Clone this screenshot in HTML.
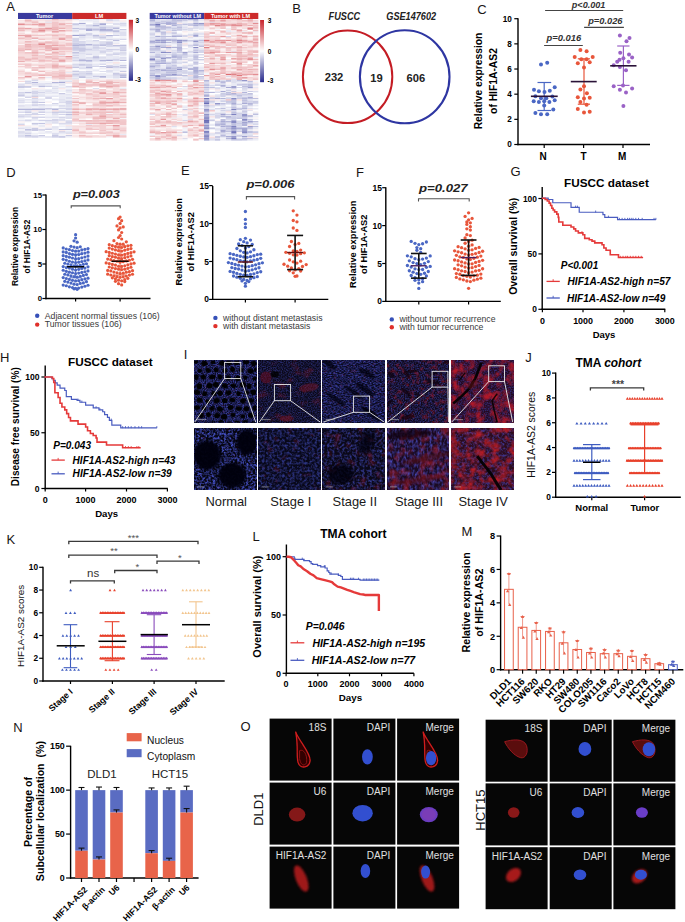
<!DOCTYPE html><html><head><meta charset="utf-8"><title>Figure</title><style>html,body{margin:0;padding:0;background:#fff;width:685px;height:922px;overflow:hidden;}svg{display:block;font-family:"Liberation Sans",sans-serif;}</style></head><body><svg width="685" height="922" viewBox="0 0 685 922" font-family='"Liberation Sans", sans-serif'><defs><linearGradient id="cb" x1="0" y1="0" x2="0" y2="1"><stop offset="0" stop-color="#c8232b"/><stop offset="0.5" stop-color="#ffffff"/><stop offset="1" stop-color="#27298c"/></linearGradient>
<filter id="mf0" x="0" y="0" width="100%" height="100%" color-interpolation-filters="sRGB">
<feFlood flood-color="#0a0a24" result="bg"/>
<feTurbulence type="fractalNoise" baseFrequency="0.9" numOctaves="2" seed="3" result="n1"/>
<feColorMatrix in="n1" type="matrix" values="0 0 0 0 0.235 0 0 0 0 0.267 0 0 0 0 0.659 2.000 0 0 0 -0.600" result="bl"/>
<feTurbulence type="fractalNoise" baseFrequency="0.6" numOctaves="3" seed="53" result="n2"/>
<feColorMatrix in="n2" type="matrix" values="0 0 0 0 0.627 0 0 0 0 0.094 0 0 0 0 0.157 1.200 0 0 0 -0.744" result="rd"/>
<feMerge result="m"><feMergeNode in="bg"/><feMergeNode in="bl"/><feMergeNode in="rd"/></feMerge>
<feGaussianBlur in="m" stdDeviation="0.45"/>
</filter>
<filter id="mf5" x="0" y="0" width="100%" height="100%" color-interpolation-filters="sRGB">
<feFlood flood-color="#060614" result="bg"/>
<feTurbulence type="fractalNoise" baseFrequency="0.45" numOctaves="2" seed="13" result="n1"/>
<feColorMatrix in="n1" type="matrix" values="0 0 0 0 0.267 0 0 0 0 0.314 0 0 0 0 0.769 2.600 0 0 0 -0.988" result="bl"/>
<feTurbulence type="fractalNoise" baseFrequency="0.3" numOctaves="3" seed="63" result="n2"/>
<feColorMatrix in="n2" type="matrix" values="0 0 0 0 0.690 0 0 0 0 0.094 0 0 0 0 0.157 1.000 0 0 0 -0.660" result="rd"/>
<feMerge result="m"><feMergeNode in="bg"/><feMergeNode in="bl"/><feMergeNode in="rd"/></feMerge>
<feGaussianBlur in="m" stdDeviation="0.45"/>
</filter>
<filter id="mf1" x="0" y="0" width="100%" height="100%" color-interpolation-filters="sRGB">
<feFlood flood-color="#0a0818" result="bg"/>
<feTurbulence type="fractalNoise" baseFrequency="0.8" numOctaves="2" seed="5" result="n1"/>
<feColorMatrix in="n1" type="matrix" values="0 0 0 0 0.204 0 0 0 0 0.227 0 0 0 0 0.573 1.500 0 0 0 -0.510" result="bl"/>
<feTurbulence type="fractalNoise" baseFrequency="0.09" numOctaves="3" seed="55" result="n2"/>
<feColorMatrix in="n2" type="matrix" values="0 0 0 0 0.533 0 0 0 0 0.078 0 0 0 0 0.125 1.600 0 0 0 -0.928" result="rd"/>
<feMerge result="m"><feMergeNode in="bg"/><feMergeNode in="bl"/><feMergeNode in="rd"/></feMerge>
<feGaussianBlur in="m" stdDeviation="0.45"/>
</filter>
<filter id="mf6" x="0" y="0" width="100%" height="100%" color-interpolation-filters="sRGB">
<feFlood flood-color="#08081a" result="bg"/>
<feTurbulence type="fractalNoise" baseFrequency="0.4" numOctaves="2" seed="15" result="n1"/>
<feColorMatrix in="n1" type="matrix" values="0 0 0 0 0.227 0 0 0 0 0.267 0 0 0 0 0.659 1.800 0 0 0 -0.684" result="bl"/>
<feTurbulence type="fractalNoise" baseFrequency="0.15" numOctaves="3" seed="65" result="n2"/>
<feColorMatrix in="n2" type="matrix" values="0 0 0 0 0.565 0 0 0 0 0.078 0 0 0 0 0.125 1.200 0 0 0 -0.744" result="rd"/>
<feMerge result="m"><feMergeNode in="bg"/><feMergeNode in="bl"/><feMergeNode in="rd"/></feMerge>
<feGaussianBlur in="m" stdDeviation="0.45"/>
</filter>
<filter id="mf2" x="0" y="0" width="100%" height="100%" color-interpolation-filters="sRGB">
<feFlood flood-color="#0a0a20" result="bg"/>
<feTurbulence type="fractalNoise" baseFrequency="0.5 0.9" numOctaves="2" seed="7" result="n1"/>
<feColorMatrix in="n1" type="matrix" values="0 0 0 0 0.243 0 0 0 0 0.267 0 0 0 0 0.690 1.900 0 0 0 -0.646" result="bl"/>
<feTurbulence type="fractalNoise" baseFrequency="0.3" numOctaves="3" seed="57" result="n2"/>
<feColorMatrix in="n2" type="matrix" values="0 0 0 0 0.565 0 0 0 0 0.094 0 0 0 0 0.157 1.200 0 0 0 -0.720" result="rd"/>
<feMerge result="m"><feMergeNode in="bg"/><feMergeNode in="bl"/><feMergeNode in="rd"/></feMerge>
<feGaussianBlur in="m" stdDeviation="0.45"/>
</filter>
<filter id="mf7" x="0" y="0" width="100%" height="100%" color-interpolation-filters="sRGB">
<feFlood flood-color="#0a0818" result="bg"/>
<feTurbulence type="fractalNoise" baseFrequency="0.4" numOctaves="2" seed="17" result="n1"/>
<feColorMatrix in="n1" type="matrix" values="0 0 0 0 0.243 0 0 0 0 0.275 0 0 0 0 0.690 1.900 0 0 0 -0.760" result="bl"/>
<feTurbulence type="fractalNoise" baseFrequency="0.12" numOctaves="3" seed="67" result="n2"/>
<feColorMatrix in="n2" type="matrix" values="0 0 0 0 0.502 0 0 0 0 0.078 0 0 0 0 0.125 1.600 0 0 0 -0.896" result="rd"/>
<feMerge result="m"><feMergeNode in="bg"/><feMergeNode in="bl"/><feMergeNode in="rd"/></feMerge>
<feGaussianBlur in="m" stdDeviation="0.45"/>
</filter>
<filter id="mf3" x="0" y="0" width="100%" height="100%" color-interpolation-filters="sRGB">
<feFlood flood-color="#100818" result="bg"/>
<feTurbulence type="fractalNoise" baseFrequency="0.7" numOctaves="2" seed="9" result="n1"/>
<feColorMatrix in="n1" type="matrix" values="0 0 0 0 0.220 0 0 0 0 0.243 0 0 0 0 0.627 1.700 0 0 0 -0.578" result="bl"/>
<feTurbulence type="fractalNoise" baseFrequency="0.2" numOctaves="3" seed="59" result="n2"/>
<feColorMatrix in="n2" type="matrix" values="0 0 0 0 0.596 0 0 0 0 0.078 0 0 0 0 0.125 1.800 0 0 0 -0.900" result="rd"/>
<feMerge result="m"><feMergeNode in="bg"/><feMergeNode in="bl"/><feMergeNode in="rd"/></feMerge>
<feGaussianBlur in="m" stdDeviation="0.45"/>
</filter>
<filter id="mf8" x="0" y="0" width="100%" height="100%" color-interpolation-filters="sRGB">
<feFlood flood-color="#1a0a22" result="bg"/>
<feTurbulence type="fractalNoise" baseFrequency="0.4 0.25" numOctaves="2" seed="19" result="n1"/>
<feColorMatrix in="n1" type="matrix" values="0 0 0 0 0.267 0 0 0 0 0.275 0 0 0 0 0.706 2.200 0 0 0 -0.836" result="bl"/>
<feTurbulence type="fractalNoise" baseFrequency="0.1" numOctaves="3" seed="69" result="n2"/>
<feColorMatrix in="n2" type="matrix" values="0 0 0 0 0.659 0 0 0 0 0.110 0 0 0 0 0.141 2.000 0 0 0 -0.920" result="rd"/>
<feMerge result="m"><feMergeNode in="bg"/><feMergeNode in="bl"/><feMergeNode in="rd"/></feMerge>
<feGaussianBlur in="m" stdDeviation="0.45"/>
</filter>
<filter id="mf4" x="0" y="0" width="100%" height="100%" color-interpolation-filters="sRGB">
<feFlood flood-color="#240a20" result="bg"/>
<feTurbulence type="fractalNoise" baseFrequency="0.7" numOctaves="2" seed="11" result="n1"/>
<feColorMatrix in="n1" type="matrix" values="0 0 0 0 0.235 0 0 0 0 0.235 0 0 0 0 0.651 1.600 0 0 0 -0.576" result="bl"/>
<feTurbulence type="fractalNoise" baseFrequency="0.12" numOctaves="3" seed="61" result="n2"/>
<feColorMatrix in="n2" type="matrix" values="0 0 0 0 0.690 0 0 0 0 0.094 0 0 0 0 0.157 2.600 0 0 0 -1.040" result="rd"/>
<feMerge result="m"><feMergeNode in="bg"/><feMergeNode in="bl"/><feMergeNode in="rd"/></feMerge>
<feGaussianBlur in="m" stdDeviation="0.45"/>
</filter>
<filter id="mf9" x="0" y="0" width="100%" height="100%" color-interpolation-filters="sRGB">
<feFlood flood-color="#2c0c1e" result="bg"/>
<feTurbulence type="fractalNoise" baseFrequency="0.4" numOctaves="2" seed="21" result="n1"/>
<feColorMatrix in="n1" type="matrix" values="0 0 0 0 0.282 0 0 0 0 0.267 0 0 0 0 0.722 1.900 0 0 0 -0.760" result="bl"/>
<feTurbulence type="fractalNoise" baseFrequency="0.12" numOctaves="3" seed="71" result="n2"/>
<feColorMatrix in="n2" type="matrix" values="0 0 0 0 0.722 0 0 0 0 0.110 0 0 0 0 0.141 2.400 0 0 0 -0.960" result="rd"/>
<feMerge result="m"><feMergeNode in="bg"/><feMergeNode in="bl"/><feMergeNode in="rd"/></feMerge>
<feGaussianBlur in="m" stdDeviation="0.45"/>
</filter>
<filter id="sblur" x="-30%" y="-30%" width="160%" height="160%"><feGaussianBlur stdDeviation="0.7"/></filter>
<filter id="sblur2" x="-30%" y="-30%" width="160%" height="160%"><feGaussianBlur stdDeviation="1.4"/></filter>
<clipPath id="ci0t"><rect x="194.2" y="360.6" width="62" height="62"/></clipPath>
<clipPath id="ci0b"><rect x="194.2" y="428.2" width="62" height="61.7"/></clipPath>
<clipPath id="ci1t"><rect x="258.8" y="360.6" width="62" height="62"/></clipPath>
<clipPath id="ci2t"><rect x="322.8" y="360.6" width="62" height="62"/></clipPath>
<clipPath id="ci3t"><rect x="387" y="360.6" width="62" height="62"/></clipPath>
<clipPath id="ci4t"><rect x="451.2" y="360.6" width="62" height="62"/></clipPath>
<clipPath id="ci2b"><rect x="322.8" y="428.2" width="62" height="61.7"/></clipPath>
<clipPath id="ci3b"><rect x="387" y="428.2" width="62" height="61.7"/></clipPath>
<clipPath id="ci4b"><rect x="451.2" y="428.2" width="62" height="61.7"/></clipPath>
<filter id="rtex" x="-20%" y="-20%" width="140%" height="140%" color-interpolation-filters="sRGB"><feTurbulence type="fractalNoise" baseFrequency="0.9" numOctaves="1" seed="4" result="n"/><feColorMatrix in="n" type="matrix" values="0 0 0 0 0 0 0 0 0 0 0 0 0 0 0 1.6 0 0 0 -0.25" result="m"/><feComposite in="SourceGraphic" in2="m" operator="in" result="t"/><feGaussianBlur in="t" stdDeviation="0.4"/></filter></defs>
<text x="10.5" y="10.55" font-size="13" text-anchor="middle" fill="#1a1515">A</text>
<rect x="18" y="12.9" width="54.2" height="6.1" fill="#3a3a9e"/>
<rect x="72.2" y="12.9" width="54.2" height="6.1" fill="#cc2a2a"/>
<text x="44.6" y="18" font-size="5.6" font-weight="bold" text-anchor="middle" fill="#fff">Tumor</text>
<text x="99.2" y="18" font-size="5.7" font-weight="bold" text-anchor="middle" fill="#fff">LM</text>
<path fill="#9396ca" d="M92.53 25.17h6.83v1.28h-6.83z"/>
<path fill="#9ea0cf" d="M72.2 35.03h6.83v1.28h-6.83zM72.2 52.3h6.83v1.28h-6.83zM119.62 74.5h6.83v1.28h-6.83z"/>
<path fill="#a9abd5" d="M78.97 22.7h6.83v1.28h-6.83zM99.3 23.93h6.83v1.28h-6.83zM112.85 27.63h6.83v1.28h-6.83zM85.75 28.87h6.83v1.28h-6.83zM99.3 28.87h6.83v1.28h-6.83zM85.75 30.1h6.83v1.28h-6.83zM92.53 57.23h6.83v1.28h-6.83zM106.08 59.7h6.83v1.28h-6.83zM85.75 67.1h6.83v1.28h-6.83zM112.85 73.27h6.83v1.28h-6.83zM58.65 81.9h6.83v1.28h-6.83zM38.33 85.6h6.83v1.28h-6.83zM24.77 111.5h6.83v1.28h-6.83zM38.33 111.5h6.83v1.28h-6.83zM65.43 111.5h6.83v1.28h-6.83zM58.65 136.17h6.83v1.28h-6.83z"/>
<path fill="#b3b5da" d="M99.3 26.4h6.83v1.28h-6.83zM72.2 27.63h6.83v1.28h-6.83zM106.08 28.87h6.83v1.28h-6.83zM99.3 30.1h6.83v1.28h-6.83zM106.08 30.1h6.83v1.28h-6.83zM78.97 35.03h6.83v1.28h-6.83zM106.08 35.03h6.83v1.28h-6.83zM85.75 43.67h6.83v1.28h-6.83zM72.2 44.9h6.83v1.28h-6.83zM112.85 53.53h6.83v1.28h-6.83zM78.97 59.7h6.83v1.28h-6.83zM85.75 59.7h6.83v1.28h-6.83zM99.3 59.7h6.83v1.28h-6.83zM119.62 59.7h6.83v1.28h-6.83zM106.08 67.1h6.83v1.28h-6.83zM85.75 73.27h6.83v1.28h-6.83zM99.3 75.73h6.83v1.28h-6.83zM119.62 76.97h6.83v1.28h-6.83zM31.55 81.9h6.83v1.28h-6.83zM51.88 81.9h6.83v1.28h-6.83zM31.55 95.47h6.83v1.28h-6.83zM38.33 101.63h6.83v1.28h-6.83zM58.65 105.33h6.83v1.28h-6.83zM18 109.03h6.83v1.28h-6.83zM24.77 109.03h6.83v1.28h-6.83zM31.55 109.03h6.83v1.28h-6.83zM38.33 109.03h6.83v1.28h-6.83zM51.88 109.03h6.83v1.28h-6.83zM51.88 111.5h6.83v1.28h-6.83zM58.65 111.5h6.83v1.28h-6.83zM38.33 116.43h6.83v1.28h-6.83zM38.33 120.13h6.83v1.28h-6.83zM45.1 120.13h6.83v1.28h-6.83zM38.33 122.6h6.83v1.28h-6.83z"/>
<path fill="#bec0df" d="M99.3 22.7h6.83v1.28h-6.83zM85.75 25.17h6.83v1.28h-6.83zM92.53 28.87h6.83v1.28h-6.83zM112.85 30.1h6.83v1.28h-6.83zM112.85 31.33h6.83v1.28h-6.83zM92.53 35.03h6.83v1.28h-6.83zM112.85 39.97h6.83v1.28h-6.83zM78.97 41.2h6.83v1.28h-6.83zM72.2 42.43h6.83v1.28h-6.83zM78.97 43.67h6.83v1.28h-6.83zM78.97 44.9h6.83v1.28h-6.83zM99.3 44.9h6.83v1.28h-6.83zM112.85 44.9h6.83v1.28h-6.83zM119.62 44.9h6.83v1.28h-6.83zM92.53 47.37h6.83v1.28h-6.83zM99.3 47.37h6.83v1.28h-6.83zM85.75 53.53h6.83v1.28h-6.83zM72.2 57.23h6.83v1.28h-6.83zM78.97 58.47h6.83v1.28h-6.83zM99.3 63.4h6.83v1.28h-6.83zM119.62 64.63h6.83v1.28h-6.83zM99.3 65.87h6.83v1.28h-6.83zM72.2 67.1h6.83v1.28h-6.83zM119.62 67.1h6.83v1.28h-6.83zM78.97 76.97h6.83v1.28h-6.83zM31.55 79.43h6.83v1.28h-6.83zM45.1 85.6h6.83v1.28h-6.83zM24.77 91.77h6.83v1.28h-6.83zM65.43 100.4h6.83v1.28h-6.83zM31.55 101.63h6.83v1.28h-6.83zM18 105.33h6.83v1.28h-6.83zM18 111.5h6.83v1.28h-6.83zM65.43 113.97h6.83v1.28h-6.83zM31.55 116.43h6.83v1.28h-6.83zM58.65 116.43h6.83v1.28h-6.83zM24.77 120.13h6.83v1.28h-6.83zM31.55 122.6h6.83v1.28h-6.83zM24.77 128.77h6.83v1.28h-6.83zM58.65 128.77h6.83v1.28h-6.83zM65.43 128.77h6.83v1.28h-6.83zM58.65 131.23h6.83v1.28h-6.83zM24.77 132.47h6.83v1.28h-6.83zM24.77 134.93h6.83v1.28h-6.83zM31.55 136.17h6.83v1.28h-6.83zM51.88 136.17h6.83v1.28h-6.83z"/>
<path fill="#c9cae4" d="M72.2 23.93h6.83v1.28h-6.83zM106.08 26.4h6.83v1.28h-6.83zM112.85 26.4h6.83v1.28h-6.83zM85.75 27.63h6.83v1.28h-6.83zM99.3 27.63h6.83v1.28h-6.83zM119.62 28.87h6.83v1.28h-6.83zM85.75 32.57h6.83v1.28h-6.83zM112.85 35.03h6.83v1.28h-6.83zM92.53 36.27h6.83v1.28h-6.83zM99.3 36.27h6.83v1.28h-6.83zM72.2 37.5h6.83v1.28h-6.83zM99.3 37.5h6.83v1.28h-6.83zM99.3 41.2h6.83v1.28h-6.83zM106.08 41.2h6.83v1.28h-6.83zM106.08 42.43h6.83v1.28h-6.83zM72.2 43.67h6.83v1.28h-6.83zM99.3 43.67h6.83v1.28h-6.83zM106.08 43.67h6.83v1.28h-6.83zM92.53 44.9h6.83v1.28h-6.83zM72.2 46.13h6.83v1.28h-6.83zM106.08 46.13h6.83v1.28h-6.83zM72.2 47.37h6.83v1.28h-6.83zM78.97 47.37h6.83v1.28h-6.83zM72.2 48.6h6.83v1.28h-6.83zM78.97 48.6h6.83v1.28h-6.83zM85.75 48.6h6.83v1.28h-6.83zM106.08 48.6h6.83v1.28h-6.83zM112.85 48.6h6.83v1.28h-6.83zM78.97 49.83h6.83v1.28h-6.83zM119.62 49.83h6.83v1.28h-6.83zM99.3 52.3h6.83v1.28h-6.83zM119.62 52.3h6.83v1.28h-6.83zM106.08 53.53h6.83v1.28h-6.83zM92.53 56h6.83v1.28h-6.83zM85.75 57.23h6.83v1.28h-6.83zM99.3 57.23h6.83v1.28h-6.83zM119.62 57.23h6.83v1.28h-6.83zM85.75 60.93h6.83v1.28h-6.83zM72.2 63.4h6.83v1.28h-6.83zM78.97 63.4h6.83v1.28h-6.83zM78.97 64.63h6.83v1.28h-6.83zM106.08 65.87h6.83v1.28h-6.83zM112.85 65.87h6.83v1.28h-6.83zM72.2 70.8h6.83v1.28h-6.83zM119.62 70.8h6.83v1.28h-6.83zM72.2 73.27h6.83v1.28h-6.83zM78.97 73.27h6.83v1.28h-6.83zM119.62 73.27h6.83v1.28h-6.83zM72.2 74.5h6.83v1.28h-6.83zM112.85 74.5h6.83v1.28h-6.83zM78.97 75.73h6.83v1.28h-6.83zM92.53 75.73h6.83v1.28h-6.83zM119.62 75.73h6.83v1.28h-6.83zM99.3 76.97h6.83v1.28h-6.83zM24.77 83.13h6.83v1.28h-6.83zM45.1 83.13h6.83v1.28h-6.83zM18 85.6h6.83v1.28h-6.83zM24.77 85.6h6.83v1.28h-6.83zM18 86.83h6.83v1.28h-6.83zM58.65 93h6.83v1.28h-6.83zM18 94.23h6.83v1.28h-6.83zM18 95.47h6.83v1.28h-6.83zM38.33 104.1h6.83v1.28h-6.83zM45.1 107.8h6.83v1.28h-6.83zM65.43 120.13h6.83v1.28h-6.83zM18 127.53h6.83v1.28h-6.83zM31.55 127.53h6.83v1.28h-6.83zM31.55 128.77h6.83v1.28h-6.83zM45.1 128.77h6.83v1.28h-6.83zM31.55 130h6.83v1.28h-6.83zM18 131.23h6.83v1.28h-6.83zM65.43 132.47h6.83v1.28h-6.83zM38.33 134.93h6.83v1.28h-6.83zM51.88 134.93h6.83v1.28h-6.83zM65.43 134.93h6.83v1.28h-6.83zM24.77 136.17h6.83v1.28h-6.83z"/>
<path fill="#d4d5ea" d="M106.08 19h6.83v1.28h-6.83zM106.08 20.23h6.83v1.28h-6.83zM112.85 20.23h6.83v1.28h-6.83zM72.2 22.7h6.83v1.28h-6.83zM119.62 22.7h6.83v1.28h-6.83zM119.62 25.17h6.83v1.28h-6.83zM78.97 27.63h6.83v1.28h-6.83zM92.53 27.63h6.83v1.28h-6.83zM78.97 28.87h6.83v1.28h-6.83zM72.2 30.1h6.83v1.28h-6.83zM92.53 30.1h6.83v1.28h-6.83zM99.3 31.33h6.83v1.28h-6.83zM106.08 31.33h6.83v1.28h-6.83zM78.97 33.8h6.83v1.28h-6.83zM85.75 33.8h6.83v1.28h-6.83zM92.53 37.5h6.83v1.28h-6.83zM72.2 38.73h6.83v1.28h-6.83zM106.08 38.73h6.83v1.28h-6.83zM119.62 38.73h6.83v1.28h-6.83zM72.2 39.97h6.83v1.28h-6.83zM92.53 39.97h6.83v1.28h-6.83zM72.2 41.2h6.83v1.28h-6.83zM78.97 42.43h6.83v1.28h-6.83zM99.3 42.43h6.83v1.28h-6.83zM92.53 43.67h6.83v1.28h-6.83zM85.75 44.9h6.83v1.28h-6.83zM106.08 44.9h6.83v1.28h-6.83zM78.97 46.13h6.83v1.28h-6.83zM92.53 46.13h6.83v1.28h-6.83zM112.85 46.13h6.83v1.28h-6.83zM119.62 46.13h6.83v1.28h-6.83zM119.62 47.37h6.83v1.28h-6.83zM119.62 48.6h6.83v1.28h-6.83zM72.2 49.83h6.83v1.28h-6.83zM78.97 51.07h6.83v1.28h-6.83zM99.3 51.07h6.83v1.28h-6.83zM112.85 52.3h6.83v1.28h-6.83zM119.62 53.53h6.83v1.28h-6.83zM72.2 54.77h6.83v1.28h-6.83zM92.53 58.47h6.83v1.28h-6.83zM106.08 58.47h6.83v1.28h-6.83zM112.85 58.47h6.83v1.28h-6.83zM72.2 59.7h6.83v1.28h-6.83zM112.85 59.7h6.83v1.28h-6.83zM85.75 63.4h6.83v1.28h-6.83zM85.75 64.63h6.83v1.28h-6.83zM106.08 64.63h6.83v1.28h-6.83zM85.75 65.87h6.83v1.28h-6.83zM92.53 65.87h6.83v1.28h-6.83zM112.85 67.1h6.83v1.28h-6.83zM78.97 68.33h6.83v1.28h-6.83zM85.75 70.8h6.83v1.28h-6.83zM78.97 74.5h6.83v1.28h-6.83zM85.75 74.5h6.83v1.28h-6.83zM72.2 78.2h6.83v1.28h-6.83zM24.77 80.67h6.83v1.28h-6.83zM38.33 83.13h6.83v1.28h-6.83zM58.65 84.37h6.83v1.28h-6.83zM65.43 85.6h6.83v1.28h-6.83zM24.77 86.83h6.83v1.28h-6.83zM31.55 90.53h6.83v1.28h-6.83zM45.1 90.53h6.83v1.28h-6.83zM18 91.77h6.83v1.28h-6.83zM31.55 91.77h6.83v1.28h-6.83zM38.33 91.77h6.83v1.28h-6.83zM31.55 93h6.83v1.28h-6.83zM65.43 94.23h6.83v1.28h-6.83zM38.33 95.47h6.83v1.28h-6.83zM51.88 95.47h6.83v1.28h-6.83zM24.77 96.7h6.83v1.28h-6.83zM45.1 96.7h6.83v1.28h-6.83zM31.55 97.93h6.83v1.28h-6.83zM45.1 97.93h6.83v1.28h-6.83zM24.77 99.17h6.83v1.28h-6.83zM58.65 99.17h6.83v1.28h-6.83zM31.55 100.4h6.83v1.28h-6.83zM18 101.63h6.83v1.28h-6.83zM58.65 101.63h6.83v1.28h-6.83zM65.43 101.63h6.83v1.28h-6.83zM51.88 102.87h6.83v1.28h-6.83zM65.43 102.87h6.83v1.28h-6.83zM31.55 104.1h6.83v1.28h-6.83zM31.55 105.33h6.83v1.28h-6.83zM31.55 107.8h6.83v1.28h-6.83zM38.33 107.8h6.83v1.28h-6.83zM51.88 107.8h6.83v1.28h-6.83zM58.65 107.8h6.83v1.28h-6.83zM65.43 107.8h6.83v1.28h-6.83zM65.43 109.03h6.83v1.28h-6.83zM45.1 111.5h6.83v1.28h-6.83zM31.55 112.73h6.83v1.28h-6.83zM24.77 113.97h6.83v1.28h-6.83zM31.55 113.97h6.83v1.28h-6.83zM38.33 113.97h6.83v1.28h-6.83zM58.65 113.97h6.83v1.28h-6.83zM18 115.2h6.83v1.28h-6.83zM18 116.43h6.83v1.28h-6.83zM45.1 116.43h6.83v1.28h-6.83zM51.88 116.43h6.83v1.28h-6.83zM65.43 116.43h6.83v1.28h-6.83zM51.88 118.9h6.83v1.28h-6.83zM18 120.13h6.83v1.28h-6.83zM51.88 120.13h6.83v1.28h-6.83zM65.43 121.37h6.83v1.28h-6.83zM58.65 122.6h6.83v1.28h-6.83zM65.43 122.6h6.83v1.28h-6.83zM18 123.83h6.83v1.28h-6.83zM51.88 126.3h6.83v1.28h-6.83zM38.33 128.77h6.83v1.28h-6.83zM24.77 130h6.83v1.28h-6.83zM45.1 131.23h6.83v1.28h-6.83zM18 132.47h6.83v1.28h-6.83zM45.1 136.17h6.83v1.28h-6.83z"/>
<path fill="#dedfef" d="M72.2 19h6.83v1.28h-6.83zM92.53 19h6.83v1.28h-6.83zM78.97 20.23h6.83v1.28h-6.83zM85.75 20.23h6.83v1.28h-6.83zM45.1 21.47h6.83v1.28h-6.83zM92.53 22.7h6.83v1.28h-6.83zM112.85 22.7h6.83v1.28h-6.83zM92.53 23.93h6.83v1.28h-6.83zM112.85 23.93h6.83v1.28h-6.83zM119.62 23.93h6.83v1.28h-6.83zM72.2 25.17h6.83v1.28h-6.83zM78.97 25.17h6.83v1.28h-6.83zM99.3 25.17h6.83v1.28h-6.83zM106.08 25.17h6.83v1.28h-6.83zM85.75 26.4h6.83v1.28h-6.83zM92.53 26.4h6.83v1.28h-6.83zM106.08 27.63h6.83v1.28h-6.83zM72.2 31.33h6.83v1.28h-6.83zM119.62 31.33h6.83v1.28h-6.83zM112.85 32.57h6.83v1.28h-6.83zM119.62 32.57h6.83v1.28h-6.83zM119.62 33.8h6.83v1.28h-6.83zM85.75 35.03h6.83v1.28h-6.83zM99.3 35.03h6.83v1.28h-6.83zM119.62 35.03h6.83v1.28h-6.83zM78.97 36.27h6.83v1.28h-6.83zM106.08 36.27h6.83v1.28h-6.83zM78.97 37.5h6.83v1.28h-6.83zM112.85 38.73h6.83v1.28h-6.83zM85.75 41.2h6.83v1.28h-6.83zM92.53 41.2h6.83v1.28h-6.83zM112.85 42.43h6.83v1.28h-6.83zM85.75 47.37h6.83v1.28h-6.83zM92.53 48.6h6.83v1.28h-6.83zM85.75 49.83h6.83v1.28h-6.83zM92.53 49.83h6.83v1.28h-6.83zM99.3 49.83h6.83v1.28h-6.83zM106.08 49.83h6.83v1.28h-6.83zM106.08 51.07h6.83v1.28h-6.83zM78.97 52.3h6.83v1.28h-6.83zM72.2 53.53h6.83v1.28h-6.83zM78.97 53.53h6.83v1.28h-6.83zM106.08 54.77h6.83v1.28h-6.83zM112.85 57.23h6.83v1.28h-6.83zM72.2 58.47h6.83v1.28h-6.83zM85.75 58.47h6.83v1.28h-6.83zM99.3 58.47h6.83v1.28h-6.83zM119.62 58.47h6.83v1.28h-6.83zM92.53 59.7h6.83v1.28h-6.83zM78.97 60.93h6.83v1.28h-6.83zM99.3 60.93h6.83v1.28h-6.83zM106.08 62.17h6.83v1.28h-6.83zM92.53 63.4h6.83v1.28h-6.83zM72.2 64.63h6.83v1.28h-6.83zM72.2 65.87h6.83v1.28h-6.83zM119.62 65.87h6.83v1.28h-6.83zM78.97 67.1h6.83v1.28h-6.83zM85.75 68.33h6.83v1.28h-6.83zM99.3 68.33h6.83v1.28h-6.83zM92.53 69.57h6.83v1.28h-6.83zM106.08 69.57h6.83v1.28h-6.83zM112.85 69.57h6.83v1.28h-6.83zM78.97 70.8h6.83v1.28h-6.83zM99.3 70.8h6.83v1.28h-6.83zM106.08 70.8h6.83v1.28h-6.83zM78.97 72.03h6.83v1.28h-6.83zM85.75 72.03h6.83v1.28h-6.83zM99.3 73.27h6.83v1.28h-6.83zM92.53 74.5h6.83v1.28h-6.83zM106.08 74.5h6.83v1.28h-6.83zM72.2 75.73h6.83v1.28h-6.83zM112.85 75.73h6.83v1.28h-6.83zM85.75 76.97h6.83v1.28h-6.83zM112.85 76.97h6.83v1.28h-6.83zM58.65 80.67h6.83v1.28h-6.83zM65.43 80.67h6.83v1.28h-6.83zM24.77 81.9h6.83v1.28h-6.83zM18 83.13h6.83v1.28h-6.83zM31.55 83.13h6.83v1.28h-6.83zM51.88 83.13h6.83v1.28h-6.83zM18 84.37h6.83v1.28h-6.83zM31.55 84.37h6.83v1.28h-6.83zM38.33 84.37h6.83v1.28h-6.83zM51.88 85.6h6.83v1.28h-6.83zM51.88 88.07h6.83v1.28h-6.83zM92.53 88.07h6.83v1.28h-6.83zM45.1 89.3h6.83v1.28h-6.83zM65.43 89.3h6.83v1.28h-6.83zM65.43 90.53h6.83v1.28h-6.83zM51.88 91.77h6.83v1.28h-6.83zM18 93h6.83v1.28h-6.83zM31.55 94.23h6.83v1.28h-6.83zM38.33 94.23h6.83v1.28h-6.83zM58.65 94.23h6.83v1.28h-6.83zM24.77 95.47h6.83v1.28h-6.83zM45.1 95.47h6.83v1.28h-6.83zM65.43 96.7h6.83v1.28h-6.83zM65.43 97.93h6.83v1.28h-6.83zM18 99.17h6.83v1.28h-6.83zM31.55 99.17h6.83v1.28h-6.83zM38.33 99.17h6.83v1.28h-6.83zM51.88 99.17h6.83v1.28h-6.83zM18 100.4h6.83v1.28h-6.83zM58.65 100.4h6.83v1.28h-6.83zM24.77 101.63h6.83v1.28h-6.83zM65.43 104.1h6.83v1.28h-6.83zM24.77 105.33h6.83v1.28h-6.83zM38.33 105.33h6.83v1.28h-6.83zM45.1 105.33h6.83v1.28h-6.83zM65.43 105.33h6.83v1.28h-6.83zM65.43 106.57h6.83v1.28h-6.83zM18 107.8h6.83v1.28h-6.83zM24.77 107.8h6.83v1.28h-6.83zM45.1 109.03h6.83v1.28h-6.83zM24.77 110.27h6.83v1.28h-6.83zM58.65 110.27h6.83v1.28h-6.83zM51.88 112.73h6.83v1.28h-6.83zM18 113.97h6.83v1.28h-6.83zM51.88 113.97h6.83v1.28h-6.83zM24.77 115.2h6.83v1.28h-6.83zM65.43 115.2h6.83v1.28h-6.83zM24.77 116.43h6.83v1.28h-6.83zM31.55 117.67h6.83v1.28h-6.83zM65.43 117.67h6.83v1.28h-6.83zM58.65 118.9h6.83v1.28h-6.83zM31.55 120.13h6.83v1.28h-6.83zM58.65 120.13h6.83v1.28h-6.83zM51.88 121.37h6.83v1.28h-6.83zM51.88 122.6h6.83v1.28h-6.83zM31.55 123.83h6.83v1.28h-6.83zM65.43 126.3h6.83v1.28h-6.83zM45.1 127.53h6.83v1.28h-6.83zM51.88 127.53h6.83v1.28h-6.83zM38.33 130h6.83v1.28h-6.83zM65.43 131.23h6.83v1.28h-6.83zM38.33 132.47h6.83v1.28h-6.83zM51.88 132.47h6.83v1.28h-6.83zM58.65 132.47h6.83v1.28h-6.83zM51.88 133.7h6.83v1.28h-6.83zM18 134.93h6.83v1.28h-6.83zM31.55 134.93h6.83v1.28h-6.83zM18 136.17h6.83v1.28h-6.83zM38.33 136.17h6.83v1.28h-6.83z"/>
<path fill="#e9eaf4" d="M31.55 19h6.83v1.28h-6.83zM45.1 19h6.83v1.28h-6.83zM85.75 19h6.83v1.28h-6.83zM112.85 19h6.83v1.28h-6.83zM92.53 20.23h6.83v1.28h-6.83zM92.53 21.47h6.83v1.28h-6.83zM119.62 21.47h6.83v1.28h-6.83zM106.08 22.7h6.83v1.28h-6.83zM78.97 23.93h6.83v1.28h-6.83zM85.75 23.93h6.83v1.28h-6.83zM72.2 26.4h6.83v1.28h-6.83zM78.97 26.4h6.83v1.28h-6.83zM72.2 28.87h6.83v1.28h-6.83zM112.85 28.87h6.83v1.28h-6.83zM119.62 30.1h6.83v1.28h-6.83zM78.97 32.57h6.83v1.28h-6.83zM99.3 32.57h6.83v1.28h-6.83zM72.2 33.8h6.83v1.28h-6.83zM92.53 33.8h6.83v1.28h-6.83zM112.85 33.8h6.83v1.28h-6.83zM85.75 36.27h6.83v1.28h-6.83zM85.75 37.5h6.83v1.28h-6.83zM106.08 37.5h6.83v1.28h-6.83zM112.85 37.5h6.83v1.28h-6.83zM119.62 37.5h6.83v1.28h-6.83zM78.97 38.73h6.83v1.28h-6.83zM99.3 38.73h6.83v1.28h-6.83zM85.75 39.97h6.83v1.28h-6.83zM85.75 42.43h6.83v1.28h-6.83zM92.53 42.43h6.83v1.28h-6.83zM119.62 43.67h6.83v1.28h-6.83zM85.75 46.13h6.83v1.28h-6.83zM99.3 48.6h6.83v1.28h-6.83zM112.85 49.83h6.83v1.28h-6.83zM72.2 51.07h6.83v1.28h-6.83zM85.75 51.07h6.83v1.28h-6.83zM92.53 51.07h6.83v1.28h-6.83zM119.62 51.07h6.83v1.28h-6.83zM85.75 52.3h6.83v1.28h-6.83zM92.53 52.3h6.83v1.28h-6.83zM92.53 53.53h6.83v1.28h-6.83zM99.3 53.53h6.83v1.28h-6.83zM58.65 54.77h6.83v1.28h-6.83zM78.97 54.77h6.83v1.28h-6.83zM92.53 54.77h6.83v1.28h-6.83zM119.62 54.77h6.83v1.28h-6.83zM72.2 56h6.83v1.28h-6.83zM78.97 56h6.83v1.28h-6.83zM99.3 56h6.83v1.28h-6.83zM106.08 56h6.83v1.28h-6.83zM112.85 56h6.83v1.28h-6.83zM78.97 57.23h6.83v1.28h-6.83zM106.08 57.23h6.83v1.28h-6.83zM72.2 60.93h6.83v1.28h-6.83zM92.53 60.93h6.83v1.28h-6.83zM78.97 62.17h6.83v1.28h-6.83zM85.75 62.17h6.83v1.28h-6.83zM119.62 62.17h6.83v1.28h-6.83zM112.85 63.4h6.83v1.28h-6.83zM92.53 64.63h6.83v1.28h-6.83zM112.85 64.63h6.83v1.28h-6.83zM78.97 65.87h6.83v1.28h-6.83zM112.85 68.33h6.83v1.28h-6.83zM72.2 69.57h6.83v1.28h-6.83zM119.62 69.57h6.83v1.28h-6.83zM65.43 72.03h6.83v1.28h-6.83zM72.2 72.03h6.83v1.28h-6.83zM106.08 72.03h6.83v1.28h-6.83zM112.85 72.03h6.83v1.28h-6.83zM92.53 73.27h6.83v1.28h-6.83zM99.3 74.5h6.83v1.28h-6.83zM85.75 75.73h6.83v1.28h-6.83zM106.08 75.73h6.83v1.28h-6.83zM45.1 76.97h6.83v1.28h-6.83zM72.2 76.97h6.83v1.28h-6.83zM92.53 76.97h6.83v1.28h-6.83zM106.08 76.97h6.83v1.28h-6.83zM85.75 78.2h6.83v1.28h-6.83zM92.53 78.2h6.83v1.28h-6.83zM112.85 78.2h6.83v1.28h-6.83zM24.77 79.43h6.83v1.28h-6.83zM58.65 79.43h6.83v1.28h-6.83zM65.43 79.43h6.83v1.28h-6.83zM58.65 83.13h6.83v1.28h-6.83zM65.43 83.13h6.83v1.28h-6.83zM45.1 84.37h6.83v1.28h-6.83zM31.55 85.6h6.83v1.28h-6.83zM51.88 86.83h6.83v1.28h-6.83zM58.65 86.83h6.83v1.28h-6.83zM65.43 86.83h6.83v1.28h-6.83zM119.62 88.07h6.83v1.28h-6.83zM18 89.3h6.83v1.28h-6.83zM31.55 89.3h6.83v1.28h-6.83zM38.33 89.3h6.83v1.28h-6.83zM51.88 89.3h6.83v1.28h-6.83zM38.33 90.53h6.83v1.28h-6.83zM51.88 90.53h6.83v1.28h-6.83zM58.65 90.53h6.83v1.28h-6.83zM45.1 91.77h6.83v1.28h-6.83zM65.43 91.77h6.83v1.28h-6.83zM24.77 93h6.83v1.28h-6.83zM38.33 93h6.83v1.28h-6.83zM45.1 93h6.83v1.28h-6.83zM51.88 93h6.83v1.28h-6.83zM58.65 95.47h6.83v1.28h-6.83zM65.43 95.47h6.83v1.28h-6.83zM58.65 96.7h6.83v1.28h-6.83zM18 97.93h6.83v1.28h-6.83zM58.65 97.93h6.83v1.28h-6.83zM65.43 99.17h6.83v1.28h-6.83zM31.55 102.87h6.83v1.28h-6.83zM24.77 104.1h6.83v1.28h-6.83zM45.1 104.1h6.83v1.28h-6.83zM51.88 104.1h6.83v1.28h-6.83zM51.88 105.33h6.83v1.28h-6.83zM18 106.57h6.83v1.28h-6.83zM24.77 106.57h6.83v1.28h-6.83zM38.33 106.57h6.83v1.28h-6.83zM58.65 106.57h6.83v1.28h-6.83zM38.33 110.27h6.83v1.28h-6.83zM65.43 110.27h6.83v1.28h-6.83zM31.55 111.5h6.83v1.28h-6.83zM65.43 112.73h6.83v1.28h-6.83zM51.88 115.2h6.83v1.28h-6.83zM58.65 117.67h6.83v1.28h-6.83zM24.77 118.9h6.83v1.28h-6.83zM31.55 118.9h6.83v1.28h-6.83zM45.1 121.37h6.83v1.28h-6.83zM18 122.6h6.83v1.28h-6.83zM45.1 122.6h6.83v1.28h-6.83zM58.65 123.83h6.83v1.28h-6.83zM65.43 123.83h6.83v1.28h-6.83zM85.75 123.83h6.83v1.28h-6.83zM38.33 125.07h6.83v1.28h-6.83zM24.77 126.3h6.83v1.28h-6.83zM38.33 126.3h6.83v1.28h-6.83zM58.65 126.3h6.83v1.28h-6.83zM24.77 127.53h6.83v1.28h-6.83zM65.43 127.53h6.83v1.28h-6.83zM51.88 128.77h6.83v1.28h-6.83zM24.77 131.23h6.83v1.28h-6.83zM31.55 132.47h6.83v1.28h-6.83zM45.1 132.47h6.83v1.28h-6.83zM18 133.7h6.83v1.28h-6.83zM24.77 133.7h6.83v1.28h-6.83zM119.62 133.7h6.83v1.28h-6.83zM65.43 136.17h6.83v1.28h-6.83z"/>
<path fill="#f4f4f9" d="M78.97 19h6.83v1.28h-6.83zM99.3 19h6.83v1.28h-6.83zM78.97 21.47h6.83v1.28h-6.83zM85.75 21.47h6.83v1.28h-6.83zM112.85 21.47h6.83v1.28h-6.83zM112.85 25.17h6.83v1.28h-6.83zM119.62 26.4h6.83v1.28h-6.83zM78.97 30.1h6.83v1.28h-6.83zM78.97 31.33h6.83v1.28h-6.83zM92.53 31.33h6.83v1.28h-6.83zM72.2 32.57h6.83v1.28h-6.83zM92.53 32.57h6.83v1.28h-6.83zM119.62 36.27h6.83v1.28h-6.83zM31.55 38.73h6.83v1.28h-6.83zM85.75 38.73h6.83v1.28h-6.83zM78.97 39.97h6.83v1.28h-6.83zM106.08 39.97h6.83v1.28h-6.83zM112.85 41.2h6.83v1.28h-6.83zM119.62 41.2h6.83v1.28h-6.83zM99.3 46.13h6.83v1.28h-6.83zM106.08 47.37h6.83v1.28h-6.83zM112.85 47.37h6.83v1.28h-6.83zM112.85 51.07h6.83v1.28h-6.83zM106.08 52.3h6.83v1.28h-6.83zM38.33 53.53h6.83v1.28h-6.83zM85.75 54.77h6.83v1.28h-6.83zM112.85 54.77h6.83v1.28h-6.83zM85.75 56h6.83v1.28h-6.83zM119.62 56h6.83v1.28h-6.83zM106.08 60.93h6.83v1.28h-6.83zM112.85 60.93h6.83v1.28h-6.83zM58.65 62.17h6.83v1.28h-6.83zM72.2 62.17h6.83v1.28h-6.83zM92.53 62.17h6.83v1.28h-6.83zM99.3 62.17h6.83v1.28h-6.83zM65.43 63.4h6.83v1.28h-6.83zM119.62 63.4h6.83v1.28h-6.83zM99.3 67.1h6.83v1.28h-6.83zM92.53 68.33h6.83v1.28h-6.83zM119.62 68.33h6.83v1.28h-6.83zM85.75 69.57h6.83v1.28h-6.83zM92.53 70.8h6.83v1.28h-6.83zM112.85 70.8h6.83v1.28h-6.83zM106.08 73.27h6.83v1.28h-6.83zM106.08 78.2h6.83v1.28h-6.83zM51.88 79.43h6.83v1.28h-6.83zM31.55 80.67h6.83v1.28h-6.83zM38.33 80.67h6.83v1.28h-6.83zM45.1 80.67h6.83v1.28h-6.83zM38.33 81.9h6.83v1.28h-6.83zM45.1 81.9h6.83v1.28h-6.83zM78.97 81.9h6.83v1.28h-6.83zM51.88 84.37h6.83v1.28h-6.83zM58.65 85.6h6.83v1.28h-6.83zM38.33 86.83h6.83v1.28h-6.83zM119.62 86.83h6.83v1.28h-6.83zM18 88.07h6.83v1.28h-6.83zM65.43 88.07h6.83v1.28h-6.83zM24.77 89.3h6.83v1.28h-6.83zM58.65 89.3h6.83v1.28h-6.83zM18 90.53h6.83v1.28h-6.83zM24.77 90.53h6.83v1.28h-6.83zM65.43 93h6.83v1.28h-6.83zM24.77 94.23h6.83v1.28h-6.83zM45.1 94.23h6.83v1.28h-6.83zM51.88 94.23h6.83v1.28h-6.83zM38.33 97.93h6.83v1.28h-6.83zM51.88 97.93h6.83v1.28h-6.83zM72.2 99.17h6.83v1.28h-6.83zM24.77 100.4h6.83v1.28h-6.83zM38.33 100.4h6.83v1.28h-6.83zM45.1 100.4h6.83v1.28h-6.83zM18 102.87h6.83v1.28h-6.83zM58.65 102.87h6.83v1.28h-6.83zM18 104.1h6.83v1.28h-6.83zM58.65 104.1h6.83v1.28h-6.83zM31.55 106.57h6.83v1.28h-6.83zM45.1 106.57h6.83v1.28h-6.83zM78.97 106.57h6.83v1.28h-6.83zM58.65 109.03h6.83v1.28h-6.83zM18 110.27h6.83v1.28h-6.83zM45.1 110.27h6.83v1.28h-6.83zM106.08 110.27h6.83v1.28h-6.83zM24.77 112.73h6.83v1.28h-6.83zM45.1 112.73h6.83v1.28h-6.83zM58.65 112.73h6.83v1.28h-6.83zM106.08 112.73h6.83v1.28h-6.83zM45.1 113.97h6.83v1.28h-6.83zM45.1 115.2h6.83v1.28h-6.83zM18 117.67h6.83v1.28h-6.83zM45.1 117.67h6.83v1.28h-6.83zM51.88 117.67h6.83v1.28h-6.83zM119.62 117.67h6.83v1.28h-6.83zM18 118.9h6.83v1.28h-6.83zM38.33 118.9h6.83v1.28h-6.83zM45.1 118.9h6.83v1.28h-6.83zM24.77 121.37h6.83v1.28h-6.83zM72.2 121.37h6.83v1.28h-6.83zM78.97 121.37h6.83v1.28h-6.83zM38.33 123.83h6.83v1.28h-6.83zM31.55 125.07h6.83v1.28h-6.83zM58.65 125.07h6.83v1.28h-6.83zM18 126.3h6.83v1.28h-6.83zM18 128.77h6.83v1.28h-6.83zM18 130h6.83v1.28h-6.83zM51.88 130h6.83v1.28h-6.83zM65.43 130h6.83v1.28h-6.83zM38.33 131.23h6.83v1.28h-6.83zM51.88 131.23h6.83v1.28h-6.83zM31.55 133.7h6.83v1.28h-6.83zM58.65 133.7h6.83v1.28h-6.83zM58.65 134.93h6.83v1.28h-6.83zM106.08 136.17h6.83v1.28h-6.83z"/>
<path fill="#ffffff" d="M18 19h6.83v1.28h-6.83zM119.62 19h6.83v1.28h-6.83zM38.33 21.47h6.83v1.28h-6.83zM72.2 21.47h6.83v1.28h-6.83zM85.75 22.7h6.83v1.28h-6.83zM106.08 23.93h6.83v1.28h-6.83zM24.77 26.4h6.83v1.28h-6.83zM119.62 27.63h6.83v1.28h-6.83zM18 31.33h6.83v1.28h-6.83zM85.75 31.33h6.83v1.28h-6.83zM24.77 32.57h6.83v1.28h-6.83zM106.08 33.8h6.83v1.28h-6.83zM72.2 36.27h6.83v1.28h-6.83zM112.85 36.27h6.83v1.28h-6.83zM92.53 38.73h6.83v1.28h-6.83zM99.3 39.97h6.83v1.28h-6.83zM119.62 39.97h6.83v1.28h-6.83zM119.62 42.43h6.83v1.28h-6.83zM24.77 51.07h6.83v1.28h-6.83zM99.3 54.77h6.83v1.28h-6.83zM119.62 60.93h6.83v1.28h-6.83zM18 62.17h6.83v1.28h-6.83zM31.55 62.17h6.83v1.28h-6.83zM65.43 62.17h6.83v1.28h-6.83zM18 64.63h6.83v1.28h-6.83zM99.3 64.63h6.83v1.28h-6.83zM92.53 67.1h6.83v1.28h-6.83zM24.77 68.33h6.83v1.28h-6.83zM45.1 68.33h6.83v1.28h-6.83zM72.2 68.33h6.83v1.28h-6.83zM24.77 69.57h6.83v1.28h-6.83zM78.97 69.57h6.83v1.28h-6.83zM99.3 69.57h6.83v1.28h-6.83zM31.55 70.8h6.83v1.28h-6.83zM92.53 72.03h6.83v1.28h-6.83zM99.3 72.03h6.83v1.28h-6.83zM24.77 78.2h6.83v1.28h-6.83zM78.97 78.2h6.83v1.28h-6.83zM119.62 78.2h6.83v1.28h-6.83zM18 79.43h6.83v1.28h-6.83zM45.1 79.43h6.83v1.28h-6.83zM78.97 80.67h6.83v1.28h-6.83zM18 81.9h6.83v1.28h-6.83zM65.43 84.37h6.83v1.28h-6.83zM31.55 86.83h6.83v1.28h-6.83zM45.1 86.83h6.83v1.28h-6.83zM92.53 86.83h6.83v1.28h-6.83zM24.77 88.07h6.83v1.28h-6.83zM45.1 88.07h6.83v1.28h-6.83zM72.2 88.07h6.83v1.28h-6.83zM85.75 88.07h6.83v1.28h-6.83zM99.3 88.07h6.83v1.28h-6.83zM58.65 91.77h6.83v1.28h-6.83zM72.2 94.23h6.83v1.28h-6.83zM18 96.7h6.83v1.28h-6.83zM38.33 96.7h6.83v1.28h-6.83zM51.88 96.7h6.83v1.28h-6.83zM24.77 97.93h6.83v1.28h-6.83zM45.1 99.17h6.83v1.28h-6.83zM99.3 99.17h6.83v1.28h-6.83zM51.88 100.4h6.83v1.28h-6.83zM78.97 100.4h6.83v1.28h-6.83zM51.88 101.63h6.83v1.28h-6.83zM24.77 102.87h6.83v1.28h-6.83zM38.33 102.87h6.83v1.28h-6.83zM45.1 102.87h6.83v1.28h-6.83zM78.97 104.1h6.83v1.28h-6.83zM85.75 104.1h6.83v1.28h-6.83zM51.88 106.57h6.83v1.28h-6.83zM85.75 106.57h6.83v1.28h-6.83zM106.08 106.57h6.83v1.28h-6.83zM112.85 106.57h6.83v1.28h-6.83zM119.62 106.57h6.83v1.28h-6.83zM78.97 110.27h6.83v1.28h-6.83zM18 112.73h6.83v1.28h-6.83zM38.33 112.73h6.83v1.28h-6.83zM38.33 115.2h6.83v1.28h-6.83zM58.65 115.2h6.83v1.28h-6.83zM24.77 117.67h6.83v1.28h-6.83zM38.33 117.67h6.83v1.28h-6.83zM65.43 118.9h6.83v1.28h-6.83zM85.75 118.9h6.83v1.28h-6.83zM31.55 121.37h6.83v1.28h-6.83zM38.33 121.37h6.83v1.28h-6.83zM24.77 122.6h6.83v1.28h-6.83zM24.77 123.83h6.83v1.28h-6.83zM51.88 123.83h6.83v1.28h-6.83zM72.2 123.83h6.83v1.28h-6.83zM51.88 125.07h6.83v1.28h-6.83zM58.65 127.53h6.83v1.28h-6.83zM45.1 130h6.83v1.28h-6.83zM92.53 130h6.83v1.28h-6.83zM31.55 131.23h6.83v1.28h-6.83zM38.33 133.7h6.83v1.28h-6.83zM45.1 133.7h6.83v1.28h-6.83zM92.53 133.7h6.83v1.28h-6.83zM45.1 134.93h6.83v1.28h-6.83z"/>
<path fill="#fcf3f4" d="M72.2 20.23h6.83v1.28h-6.83zM99.3 20.23h6.83v1.28h-6.83zM18 21.47h6.83v1.28h-6.83zM65.43 21.47h6.83v1.28h-6.83zM99.3 21.47h6.83v1.28h-6.83zM18 25.17h6.83v1.28h-6.83zM31.55 26.4h6.83v1.28h-6.83zM38.33 26.4h6.83v1.28h-6.83zM24.77 31.33h6.83v1.28h-6.83zM45.1 31.33h6.83v1.28h-6.83zM65.43 31.33h6.83v1.28h-6.83zM38.33 32.57h6.83v1.28h-6.83zM45.1 32.57h6.83v1.28h-6.83zM65.43 32.57h6.83v1.28h-6.83zM106.08 32.57h6.83v1.28h-6.83zM65.43 33.8h6.83v1.28h-6.83zM18 36.27h6.83v1.28h-6.83zM31.55 36.27h6.83v1.28h-6.83zM38.33 36.27h6.83v1.28h-6.83zM45.1 36.27h6.83v1.28h-6.83zM38.33 39.97h6.83v1.28h-6.83zM45.1 39.97h6.83v1.28h-6.83zM65.43 41.2h6.83v1.28h-6.83zM18 43.67h6.83v1.28h-6.83zM112.85 43.67h6.83v1.28h-6.83zM45.1 52.3h6.83v1.28h-6.83zM65.43 54.77h6.83v1.28h-6.83zM24.77 62.17h6.83v1.28h-6.83zM45.1 62.17h6.83v1.28h-6.83zM58.65 63.4h6.83v1.28h-6.83zM106.08 63.4h6.83v1.28h-6.83zM31.55 65.87h6.83v1.28h-6.83zM18 67.1h6.83v1.28h-6.83zM18 68.33h6.83v1.28h-6.83zM38.33 68.33h6.83v1.28h-6.83zM106.08 68.33h6.83v1.28h-6.83zM51.88 69.57h6.83v1.28h-6.83zM65.43 69.57h6.83v1.28h-6.83zM24.77 70.8h6.83v1.28h-6.83zM38.33 72.03h6.83v1.28h-6.83zM119.62 72.03h6.83v1.28h-6.83zM18 75.73h6.83v1.28h-6.83zM38.33 75.73h6.83v1.28h-6.83zM45.1 75.73h6.83v1.28h-6.83zM31.55 76.97h6.83v1.28h-6.83zM45.1 78.2h6.83v1.28h-6.83zM99.3 78.2h6.83v1.28h-6.83zM38.33 79.43h6.83v1.28h-6.83zM78.97 79.43h6.83v1.28h-6.83zM51.88 80.67h6.83v1.28h-6.83zM92.53 80.67h6.83v1.28h-6.83zM99.3 81.9h6.83v1.28h-6.83zM112.85 83.13h6.83v1.28h-6.83zM24.77 84.37h6.83v1.28h-6.83zM85.75 86.83h6.83v1.28h-6.83zM38.33 88.07h6.83v1.28h-6.83zM106.08 89.3h6.83v1.28h-6.83zM72.2 90.53h6.83v1.28h-6.83zM78.97 94.23h6.83v1.28h-6.83zM72.2 96.7h6.83v1.28h-6.83zM106.08 96.7h6.83v1.28h-6.83zM45.1 101.63h6.83v1.28h-6.83zM85.75 102.87h6.83v1.28h-6.83zM119.62 104.1h6.83v1.28h-6.83zM72.2 110.27h6.83v1.28h-6.83zM119.62 110.27h6.83v1.28h-6.83zM31.55 115.2h6.83v1.28h-6.83zM85.75 117.67h6.83v1.28h-6.83zM78.97 118.9h6.83v1.28h-6.83zM18 121.37h6.83v1.28h-6.83zM58.65 121.37h6.83v1.28h-6.83zM106.08 123.83h6.83v1.28h-6.83zM24.77 125.07h6.83v1.28h-6.83zM45.1 125.07h6.83v1.28h-6.83zM31.55 126.3h6.83v1.28h-6.83zM45.1 126.3h6.83v1.28h-6.83zM106.08 126.3h6.83v1.28h-6.83zM38.33 127.53h6.83v1.28h-6.83zM85.75 130h6.83v1.28h-6.83zM85.75 131.23h6.83v1.28h-6.83zM65.43 133.7h6.83v1.28h-6.83zM72.2 133.7h6.83v1.28h-6.83zM85.75 133.7h6.83v1.28h-6.83zM99.3 133.7h6.83v1.28h-6.83z"/>
<path fill="#f9e8e9" d="M38.33 19h6.83v1.28h-6.83zM119.62 20.23h6.83v1.28h-6.83zM58.65 21.47h6.83v1.28h-6.83zM106.08 21.47h6.83v1.28h-6.83zM65.43 23.93h6.83v1.28h-6.83zM24.77 25.17h6.83v1.28h-6.83zM31.55 25.17h6.83v1.28h-6.83zM58.65 28.87h6.83v1.28h-6.83zM24.77 30.1h6.83v1.28h-6.83zM31.55 32.57h6.83v1.28h-6.83zM51.88 32.57h6.83v1.28h-6.83zM58.65 32.57h6.83v1.28h-6.83zM38.33 33.8h6.83v1.28h-6.83zM99.3 33.8h6.83v1.28h-6.83zM18 39.97h6.83v1.28h-6.83zM24.77 39.97h6.83v1.28h-6.83zM58.65 39.97h6.83v1.28h-6.83zM51.88 46.13h6.83v1.28h-6.83zM65.43 46.13h6.83v1.28h-6.83zM38.33 47.37h6.83v1.28h-6.83zM24.77 49.83h6.83v1.28h-6.83zM38.33 49.83h6.83v1.28h-6.83zM38.33 51.07h6.83v1.28h-6.83zM45.1 51.07h6.83v1.28h-6.83zM65.43 52.3h6.83v1.28h-6.83zM65.43 53.53h6.83v1.28h-6.83zM45.1 54.77h6.83v1.28h-6.83zM38.33 62.17h6.83v1.28h-6.83zM38.33 69.57h6.83v1.28h-6.83zM45.1 69.57h6.83v1.28h-6.83zM45.1 70.8h6.83v1.28h-6.83zM65.43 70.8h6.83v1.28h-6.83zM31.55 72.03h6.83v1.28h-6.83zM38.33 73.27h6.83v1.28h-6.83zM65.43 73.27h6.83v1.28h-6.83zM24.77 74.5h6.83v1.28h-6.83zM31.55 75.73h6.83v1.28h-6.83zM99.3 79.43h6.83v1.28h-6.83zM65.43 81.9h6.83v1.28h-6.83zM85.75 83.13h6.83v1.28h-6.83zM72.2 84.37h6.83v1.28h-6.83zM92.53 85.6h6.83v1.28h-6.83zM31.55 88.07h6.83v1.28h-6.83zM58.65 88.07h6.83v1.28h-6.83zM78.97 88.07h6.83v1.28h-6.83zM106.08 88.07h6.83v1.28h-6.83zM92.53 89.3h6.83v1.28h-6.83zM85.75 91.77h6.83v1.28h-6.83zM106.08 91.77h6.83v1.28h-6.83zM72.2 93h6.83v1.28h-6.83zM99.3 94.23h6.83v1.28h-6.83zM119.62 94.23h6.83v1.28h-6.83zM78.97 95.47h6.83v1.28h-6.83zM119.62 96.7h6.83v1.28h-6.83zM78.97 97.93h6.83v1.28h-6.83zM78.97 99.17h6.83v1.28h-6.83zM85.75 100.4h6.83v1.28h-6.83zM92.53 100.4h6.83v1.28h-6.83zM72.2 102.87h6.83v1.28h-6.83zM119.62 102.87h6.83v1.28h-6.83zM106.08 104.1h6.83v1.28h-6.83zM78.97 105.33h6.83v1.28h-6.83zM72.2 106.57h6.83v1.28h-6.83zM92.53 106.57h6.83v1.28h-6.83zM31.55 110.27h6.83v1.28h-6.83zM92.53 110.27h6.83v1.28h-6.83zM78.97 113.97h6.83v1.28h-6.83zM85.75 115.2h6.83v1.28h-6.83zM92.53 115.2h6.83v1.28h-6.83zM78.97 117.67h6.83v1.28h-6.83zM106.08 117.67h6.83v1.28h-6.83zM106.08 118.9h6.83v1.28h-6.83zM99.3 121.37h6.83v1.28h-6.83zM72.2 122.6h6.83v1.28h-6.83zM45.1 123.83h6.83v1.28h-6.83zM78.97 123.83h6.83v1.28h-6.83zM92.53 123.83h6.83v1.28h-6.83zM112.85 123.83h6.83v1.28h-6.83zM65.43 125.07h6.83v1.28h-6.83zM72.2 125.07h6.83v1.28h-6.83zM78.97 125.07h6.83v1.28h-6.83zM119.62 125.07h6.83v1.28h-6.83zM78.97 127.53h6.83v1.28h-6.83zM78.97 128.77h6.83v1.28h-6.83zM58.65 130h6.83v1.28h-6.83zM78.97 130h6.83v1.28h-6.83zM106.08 130h6.83v1.28h-6.83zM112.85 130h6.83v1.28h-6.83zM92.53 131.23h6.83v1.28h-6.83zM112.85 131.23h6.83v1.28h-6.83zM78.97 133.7h6.83v1.28h-6.83zM72.2 134.93h6.83v1.28h-6.83zM99.3 134.93h6.83v1.28h-6.83zM72.2 136.17h6.83v1.28h-6.83z"/>
<path fill="#f6ddde" d="M58.65 19h6.83v1.28h-6.83zM18 20.23h6.83v1.28h-6.83zM38.33 20.23h6.83v1.28h-6.83zM65.43 20.23h6.83v1.28h-6.83zM24.77 21.47h6.83v1.28h-6.83zM24.77 22.7h6.83v1.28h-6.83zM45.1 23.93h6.83v1.28h-6.83zM45.1 25.17h6.83v1.28h-6.83zM65.43 28.87h6.83v1.28h-6.83zM58.65 31.33h6.83v1.28h-6.83zM18 33.8h6.83v1.28h-6.83zM31.55 33.8h6.83v1.28h-6.83zM58.65 36.27h6.83v1.28h-6.83zM18 38.73h6.83v1.28h-6.83zM45.1 38.73h6.83v1.28h-6.83zM51.88 38.73h6.83v1.28h-6.83zM65.43 38.73h6.83v1.28h-6.83zM31.55 39.97h6.83v1.28h-6.83zM51.88 39.97h6.83v1.28h-6.83zM18 41.2h6.83v1.28h-6.83zM38.33 41.2h6.83v1.28h-6.83zM58.65 41.2h6.83v1.28h-6.83zM24.77 42.43h6.83v1.28h-6.83zM58.65 42.43h6.83v1.28h-6.83zM45.1 43.67h6.83v1.28h-6.83zM51.88 49.83h6.83v1.28h-6.83zM58.65 49.83h6.83v1.28h-6.83zM65.43 49.83h6.83v1.28h-6.83zM18 54.77h6.83v1.28h-6.83zM24.77 54.77h6.83v1.28h-6.83zM24.77 56h6.83v1.28h-6.83zM24.77 57.23h6.83v1.28h-6.83zM58.65 57.23h6.83v1.28h-6.83zM45.1 58.47h6.83v1.28h-6.83zM31.55 59.7h6.83v1.28h-6.83zM51.88 59.7h6.83v1.28h-6.83zM65.43 59.7h6.83v1.28h-6.83zM24.77 60.93h6.83v1.28h-6.83zM65.43 60.93h6.83v1.28h-6.83zM51.88 62.17h6.83v1.28h-6.83zM112.85 62.17h6.83v1.28h-6.83zM31.55 63.4h6.83v1.28h-6.83zM38.33 63.4h6.83v1.28h-6.83zM31.55 64.63h6.83v1.28h-6.83zM58.65 64.63h6.83v1.28h-6.83zM65.43 64.63h6.83v1.28h-6.83zM51.88 68.33h6.83v1.28h-6.83zM58.65 68.33h6.83v1.28h-6.83zM65.43 68.33h6.83v1.28h-6.83zM18 69.57h6.83v1.28h-6.83zM18 72.03h6.83v1.28h-6.83zM18 74.5h6.83v1.28h-6.83zM65.43 76.97h6.83v1.28h-6.83zM31.55 78.2h6.83v1.28h-6.83zM72.2 79.43h6.83v1.28h-6.83zM92.53 79.43h6.83v1.28h-6.83zM112.85 79.43h6.83v1.28h-6.83zM119.62 79.43h6.83v1.28h-6.83zM18 80.67h6.83v1.28h-6.83zM72.2 80.67h6.83v1.28h-6.83zM112.85 80.67h6.83v1.28h-6.83zM119.62 80.67h6.83v1.28h-6.83zM119.62 85.6h6.83v1.28h-6.83zM72.2 86.83h6.83v1.28h-6.83zM99.3 86.83h6.83v1.28h-6.83zM112.85 86.83h6.83v1.28h-6.83zM112.85 88.07h6.83v1.28h-6.83zM72.2 89.3h6.83v1.28h-6.83zM112.85 89.3h6.83v1.28h-6.83zM99.3 90.53h6.83v1.28h-6.83zM119.62 90.53h6.83v1.28h-6.83zM92.53 93h6.83v1.28h-6.83zM119.62 93h6.83v1.28h-6.83zM85.75 95.47h6.83v1.28h-6.83zM31.55 96.7h6.83v1.28h-6.83zM78.97 96.7h6.83v1.28h-6.83zM92.53 96.7h6.83v1.28h-6.83zM112.85 97.93h6.83v1.28h-6.83zM119.62 97.93h6.83v1.28h-6.83zM85.75 99.17h6.83v1.28h-6.83zM106.08 99.17h6.83v1.28h-6.83zM112.85 99.17h6.83v1.28h-6.83zM106.08 100.4h6.83v1.28h-6.83zM119.62 100.4h6.83v1.28h-6.83zM85.75 101.63h6.83v1.28h-6.83zM92.53 101.63h6.83v1.28h-6.83zM99.3 106.57h6.83v1.28h-6.83zM78.97 107.8h6.83v1.28h-6.83zM51.88 110.27h6.83v1.28h-6.83zM119.62 111.5h6.83v1.28h-6.83zM112.85 112.73h6.83v1.28h-6.83zM72.2 115.2h6.83v1.28h-6.83zM78.97 115.2h6.83v1.28h-6.83zM112.85 115.2h6.83v1.28h-6.83zM119.62 115.2h6.83v1.28h-6.83zM72.2 116.43h6.83v1.28h-6.83zM99.3 118.9h6.83v1.28h-6.83zM112.85 118.9h6.83v1.28h-6.83zM85.75 121.37h6.83v1.28h-6.83zM78.97 122.6h6.83v1.28h-6.83zM18 125.07h6.83v1.28h-6.83zM119.62 126.3h6.83v1.28h-6.83zM72.2 127.53h6.83v1.28h-6.83zM92.53 127.53h6.83v1.28h-6.83zM106.08 127.53h6.83v1.28h-6.83zM72.2 131.23h6.83v1.28h-6.83zM119.62 132.47h6.83v1.28h-6.83zM106.08 133.7h6.83v1.28h-6.83zM85.75 134.93h6.83v1.28h-6.83zM92.53 134.93h6.83v1.28h-6.83z"/>
<path fill="#f4d2d4" d="M24.77 19h6.83v1.28h-6.83zM31.55 20.23h6.83v1.28h-6.83zM45.1 20.23h6.83v1.28h-6.83zM51.88 20.23h6.83v1.28h-6.83zM58.65 20.23h6.83v1.28h-6.83zM31.55 22.7h6.83v1.28h-6.83zM45.1 22.7h6.83v1.28h-6.83zM58.65 25.17h6.83v1.28h-6.83zM18 26.4h6.83v1.28h-6.83zM45.1 26.4h6.83v1.28h-6.83zM31.55 27.63h6.83v1.28h-6.83zM65.43 27.63h6.83v1.28h-6.83zM24.77 28.87h6.83v1.28h-6.83zM31.55 30.1h6.83v1.28h-6.83zM45.1 30.1h6.83v1.28h-6.83zM51.88 30.1h6.83v1.28h-6.83zM18 32.57h6.83v1.28h-6.83zM24.77 33.8h6.83v1.28h-6.83zM45.1 33.8h6.83v1.28h-6.83zM51.88 33.8h6.83v1.28h-6.83zM58.65 33.8h6.83v1.28h-6.83zM45.1 35.03h6.83v1.28h-6.83zM58.65 35.03h6.83v1.28h-6.83zM51.88 36.27h6.83v1.28h-6.83zM24.77 37.5h6.83v1.28h-6.83zM38.33 37.5h6.83v1.28h-6.83zM45.1 37.5h6.83v1.28h-6.83zM24.77 38.73h6.83v1.28h-6.83zM18 42.43h6.83v1.28h-6.83zM31.55 42.43h6.83v1.28h-6.83zM58.65 43.67h6.83v1.28h-6.83zM18 44.9h6.83v1.28h-6.83zM18 46.13h6.83v1.28h-6.83zM24.77 47.37h6.83v1.28h-6.83zM31.55 47.37h6.83v1.28h-6.83zM31.55 48.6h6.83v1.28h-6.83zM18 51.07h6.83v1.28h-6.83zM51.88 51.07h6.83v1.28h-6.83zM65.43 51.07h6.83v1.28h-6.83zM58.65 52.3h6.83v1.28h-6.83zM18 53.53h6.83v1.28h-6.83zM24.77 53.53h6.83v1.28h-6.83zM51.88 53.53h6.83v1.28h-6.83zM38.33 54.77h6.83v1.28h-6.83zM51.88 54.77h6.83v1.28h-6.83zM18 56h6.83v1.28h-6.83zM31.55 56h6.83v1.28h-6.83zM38.33 56h6.83v1.28h-6.83zM38.33 57.23h6.83v1.28h-6.83zM18 59.7h6.83v1.28h-6.83zM31.55 60.93h6.83v1.28h-6.83zM45.1 60.93h6.83v1.28h-6.83zM45.1 64.63h6.83v1.28h-6.83zM18 65.87h6.83v1.28h-6.83zM24.77 65.87h6.83v1.28h-6.83zM38.33 65.87h6.83v1.28h-6.83zM45.1 65.87h6.83v1.28h-6.83zM65.43 65.87h6.83v1.28h-6.83zM24.77 67.1h6.83v1.28h-6.83zM45.1 67.1h6.83v1.28h-6.83zM58.65 67.1h6.83v1.28h-6.83zM31.55 68.33h6.83v1.28h-6.83zM58.65 69.57h6.83v1.28h-6.83zM18 70.8h6.83v1.28h-6.83zM51.88 70.8h6.83v1.28h-6.83zM58.65 70.8h6.83v1.28h-6.83zM24.77 72.03h6.83v1.28h-6.83zM45.1 72.03h6.83v1.28h-6.83zM51.88 72.03h6.83v1.28h-6.83zM18 73.27h6.83v1.28h-6.83zM45.1 73.27h6.83v1.28h-6.83zM18 78.2h6.83v1.28h-6.83zM38.33 78.2h6.83v1.28h-6.83zM51.88 78.2h6.83v1.28h-6.83zM65.43 78.2h6.83v1.28h-6.83zM106.08 79.43h6.83v1.28h-6.83zM72.2 81.9h6.83v1.28h-6.83zM119.62 81.9h6.83v1.28h-6.83zM119.62 83.13h6.83v1.28h-6.83zM106.08 84.37h6.83v1.28h-6.83zM78.97 85.6h6.83v1.28h-6.83zM85.75 85.6h6.83v1.28h-6.83zM85.75 89.3h6.83v1.28h-6.83zM78.97 90.53h6.83v1.28h-6.83zM85.75 90.53h6.83v1.28h-6.83zM106.08 90.53h6.83v1.28h-6.83zM112.85 90.53h6.83v1.28h-6.83zM78.97 91.77h6.83v1.28h-6.83zM78.97 93h6.83v1.28h-6.83zM106.08 93h6.83v1.28h-6.83zM106.08 94.23h6.83v1.28h-6.83zM72.2 95.47h6.83v1.28h-6.83zM112.85 95.47h6.83v1.28h-6.83zM85.75 96.7h6.83v1.28h-6.83zM99.3 96.7h6.83v1.28h-6.83zM112.85 96.7h6.83v1.28h-6.83zM85.75 97.93h6.83v1.28h-6.83zM92.53 99.17h6.83v1.28h-6.83zM92.53 102.87h6.83v1.28h-6.83zM112.85 102.87h6.83v1.28h-6.83zM99.3 104.1h6.83v1.28h-6.83zM112.85 104.1h6.83v1.28h-6.83zM72.2 105.33h6.83v1.28h-6.83zM85.75 105.33h6.83v1.28h-6.83zM85.75 110.27h6.83v1.28h-6.83zM99.3 110.27h6.83v1.28h-6.83zM112.85 110.27h6.83v1.28h-6.83zM78.97 111.5h6.83v1.28h-6.83zM72.2 112.73h6.83v1.28h-6.83zM78.97 112.73h6.83v1.28h-6.83zM92.53 112.73h6.83v1.28h-6.83zM119.62 112.73h6.83v1.28h-6.83zM92.53 113.97h6.83v1.28h-6.83zM112.85 113.97h6.83v1.28h-6.83zM106.08 115.2h6.83v1.28h-6.83zM78.97 116.43h6.83v1.28h-6.83zM85.75 116.43h6.83v1.28h-6.83zM72.2 117.67h6.83v1.28h-6.83zM92.53 118.9h6.83v1.28h-6.83zM119.62 118.9h6.83v1.28h-6.83zM92.53 121.37h6.83v1.28h-6.83zM99.3 123.83h6.83v1.28h-6.83zM92.53 125.07h6.83v1.28h-6.83zM99.3 125.07h6.83v1.28h-6.83zM72.2 126.3h6.83v1.28h-6.83zM78.97 126.3h6.83v1.28h-6.83zM85.75 126.3h6.83v1.28h-6.83zM92.53 126.3h6.83v1.28h-6.83zM99.3 126.3h6.83v1.28h-6.83zM99.3 127.53h6.83v1.28h-6.83zM99.3 128.77h6.83v1.28h-6.83zM106.08 128.77h6.83v1.28h-6.83zM119.62 128.77h6.83v1.28h-6.83zM99.3 131.23h6.83v1.28h-6.83zM119.62 131.23h6.83v1.28h-6.83zM72.2 132.47h6.83v1.28h-6.83zM112.85 133.7h6.83v1.28h-6.83zM119.62 134.93h6.83v1.28h-6.83zM92.53 136.17h6.83v1.28h-6.83zM99.3 136.17h6.83v1.28h-6.83z"/>
<path fill="#f1c6c9" d="M65.43 19h6.83v1.28h-6.83zM51.88 21.47h6.83v1.28h-6.83zM51.88 22.7h6.83v1.28h-6.83zM65.43 22.7h6.83v1.28h-6.83zM51.88 23.93h6.83v1.28h-6.83zM51.88 25.17h6.83v1.28h-6.83zM58.65 26.4h6.83v1.28h-6.83zM65.43 26.4h6.83v1.28h-6.83zM18 28.87h6.83v1.28h-6.83zM31.55 28.87h6.83v1.28h-6.83zM65.43 30.1h6.83v1.28h-6.83zM31.55 35.03h6.83v1.28h-6.83zM38.33 35.03h6.83v1.28h-6.83zM65.43 35.03h6.83v1.28h-6.83zM65.43 36.27h6.83v1.28h-6.83zM51.88 37.5h6.83v1.28h-6.83zM65.43 37.5h6.83v1.28h-6.83zM38.33 38.73h6.83v1.28h-6.83zM65.43 39.97h6.83v1.28h-6.83zM31.55 41.2h6.83v1.28h-6.83zM51.88 41.2h6.83v1.28h-6.83zM51.88 42.43h6.83v1.28h-6.83zM65.43 42.43h6.83v1.28h-6.83zM31.55 43.67h6.83v1.28h-6.83zM51.88 43.67h6.83v1.28h-6.83zM65.43 43.67h6.83v1.28h-6.83zM31.55 44.9h6.83v1.28h-6.83zM38.33 44.9h6.83v1.28h-6.83zM65.43 44.9h6.83v1.28h-6.83zM58.65 46.13h6.83v1.28h-6.83zM18 47.37h6.83v1.28h-6.83zM18 48.6h6.83v1.28h-6.83zM38.33 48.6h6.83v1.28h-6.83zM45.1 48.6h6.83v1.28h-6.83zM58.65 48.6h6.83v1.28h-6.83zM65.43 48.6h6.83v1.28h-6.83zM31.55 49.83h6.83v1.28h-6.83zM31.55 51.07h6.83v1.28h-6.83zM58.65 51.07h6.83v1.28h-6.83zM18 52.3h6.83v1.28h-6.83zM31.55 53.53h6.83v1.28h-6.83zM51.88 56h6.83v1.28h-6.83zM58.65 56h6.83v1.28h-6.83zM65.43 57.23h6.83v1.28h-6.83zM38.33 58.47h6.83v1.28h-6.83zM65.43 58.47h6.83v1.28h-6.83zM24.77 59.7h6.83v1.28h-6.83zM45.1 59.7h6.83v1.28h-6.83zM38.33 60.93h6.83v1.28h-6.83zM51.88 60.93h6.83v1.28h-6.83zM45.1 63.4h6.83v1.28h-6.83zM24.77 64.63h6.83v1.28h-6.83zM38.33 64.63h6.83v1.28h-6.83zM31.55 67.1h6.83v1.28h-6.83zM58.65 72.03h6.83v1.28h-6.83zM31.55 73.27h6.83v1.28h-6.83zM51.88 74.5h6.83v1.28h-6.83zM18 76.97h6.83v1.28h-6.83zM24.77 76.97h6.83v1.28h-6.83zM51.88 76.97h6.83v1.28h-6.83zM58.65 76.97h6.83v1.28h-6.83zM58.65 78.2h6.83v1.28h-6.83zM85.75 79.43h6.83v1.28h-6.83zM99.3 80.67h6.83v1.28h-6.83zM92.53 83.13h6.83v1.28h-6.83zM119.62 84.37h6.83v1.28h-6.83zM78.97 86.83h6.83v1.28h-6.83zM106.08 86.83h6.83v1.28h-6.83zM92.53 90.53h6.83v1.28h-6.83zM72.2 91.77h6.83v1.28h-6.83zM92.53 91.77h6.83v1.28h-6.83zM85.75 93h6.83v1.28h-6.83zM112.85 93h6.83v1.28h-6.83zM85.75 94.23h6.83v1.28h-6.83zM92.53 94.23h6.83v1.28h-6.83zM99.3 95.47h6.83v1.28h-6.83zM106.08 95.47h6.83v1.28h-6.83zM72.2 97.93h6.83v1.28h-6.83zM72.2 100.4h6.83v1.28h-6.83zM106.08 102.87h6.83v1.28h-6.83zM72.2 104.1h6.83v1.28h-6.83zM92.53 104.1h6.83v1.28h-6.83zM92.53 105.33h6.83v1.28h-6.83zM112.85 105.33h6.83v1.28h-6.83zM119.62 105.33h6.83v1.28h-6.83zM72.2 107.8h6.83v1.28h-6.83zM99.3 107.8h6.83v1.28h-6.83zM106.08 107.8h6.83v1.28h-6.83zM78.97 109.03h6.83v1.28h-6.83zM85.75 111.5h6.83v1.28h-6.83zM85.75 112.73h6.83v1.28h-6.83zM99.3 112.73h6.83v1.28h-6.83zM99.3 113.97h6.83v1.28h-6.83zM106.08 113.97h6.83v1.28h-6.83zM112.85 116.43h6.83v1.28h-6.83zM72.2 118.9h6.83v1.28h-6.83zM106.08 121.37h6.83v1.28h-6.83zM119.62 121.37h6.83v1.28h-6.83zM112.85 122.6h6.83v1.28h-6.83zM119.62 122.6h6.83v1.28h-6.83zM119.62 123.83h6.83v1.28h-6.83zM85.75 125.07h6.83v1.28h-6.83zM106.08 125.07h6.83v1.28h-6.83zM85.75 127.53h6.83v1.28h-6.83zM112.85 127.53h6.83v1.28h-6.83zM119.62 127.53h6.83v1.28h-6.83zM72.2 128.77h6.83v1.28h-6.83zM85.75 128.77h6.83v1.28h-6.83zM92.53 128.77h6.83v1.28h-6.83zM99.3 130h6.83v1.28h-6.83zM119.62 130h6.83v1.28h-6.83zM78.97 131.23h6.83v1.28h-6.83zM106.08 131.23h6.83v1.28h-6.83zM78.97 132.47h6.83v1.28h-6.83zM85.75 132.47h6.83v1.28h-6.83zM92.53 132.47h6.83v1.28h-6.83zM106.08 132.47h6.83v1.28h-6.83zM112.85 132.47h6.83v1.28h-6.83zM106.08 134.93h6.83v1.28h-6.83zM78.97 136.17h6.83v1.28h-6.83z"/>
<path fill="#eebbbe" d="M51.88 19h6.83v1.28h-6.83zM18 22.7h6.83v1.28h-6.83zM58.65 22.7h6.83v1.28h-6.83zM24.77 23.93h6.83v1.28h-6.83zM65.43 25.17h6.83v1.28h-6.83zM51.88 27.63h6.83v1.28h-6.83zM45.1 28.87h6.83v1.28h-6.83zM18 30.1h6.83v1.28h-6.83zM38.33 31.33h6.83v1.28h-6.83zM51.88 35.03h6.83v1.28h-6.83zM45.1 41.2h6.83v1.28h-6.83zM45.1 42.43h6.83v1.28h-6.83zM24.77 44.9h6.83v1.28h-6.83zM58.65 44.9h6.83v1.28h-6.83zM31.55 46.13h6.83v1.28h-6.83zM58.65 47.37h6.83v1.28h-6.83zM65.43 47.37h6.83v1.28h-6.83zM18 49.83h6.83v1.28h-6.83zM45.1 49.83h6.83v1.28h-6.83zM38.33 52.3h6.83v1.28h-6.83zM58.65 53.53h6.83v1.28h-6.83zM31.55 54.77h6.83v1.28h-6.83zM45.1 56h6.83v1.28h-6.83zM31.55 57.23h6.83v1.28h-6.83zM51.88 57.23h6.83v1.28h-6.83zM18 58.47h6.83v1.28h-6.83zM31.55 58.47h6.83v1.28h-6.83zM51.88 58.47h6.83v1.28h-6.83zM58.65 58.47h6.83v1.28h-6.83zM38.33 59.7h6.83v1.28h-6.83zM18 63.4h6.83v1.28h-6.83zM24.77 63.4h6.83v1.28h-6.83zM51.88 63.4h6.83v1.28h-6.83zM58.65 65.87h6.83v1.28h-6.83zM38.33 67.1h6.83v1.28h-6.83zM51.88 67.1h6.83v1.28h-6.83zM65.43 67.1h6.83v1.28h-6.83zM38.33 70.8h6.83v1.28h-6.83zM24.77 73.27h6.83v1.28h-6.83zM51.88 73.27h6.83v1.28h-6.83zM58.65 73.27h6.83v1.28h-6.83zM31.55 74.5h6.83v1.28h-6.83zM51.88 75.73h6.83v1.28h-6.83zM58.65 75.73h6.83v1.28h-6.83zM65.43 75.73h6.83v1.28h-6.83zM38.33 76.97h6.83v1.28h-6.83zM85.75 80.67h6.83v1.28h-6.83zM106.08 80.67h6.83v1.28h-6.83zM85.75 81.9h6.83v1.28h-6.83zM112.85 81.9h6.83v1.28h-6.83zM72.2 83.13h6.83v1.28h-6.83zM99.3 83.13h6.83v1.28h-6.83zM78.97 84.37h6.83v1.28h-6.83zM85.75 84.37h6.83v1.28h-6.83zM92.53 84.37h6.83v1.28h-6.83zM112.85 84.37h6.83v1.28h-6.83zM99.3 85.6h6.83v1.28h-6.83zM112.85 85.6h6.83v1.28h-6.83zM99.3 89.3h6.83v1.28h-6.83zM119.62 89.3h6.83v1.28h-6.83zM119.62 91.77h6.83v1.28h-6.83zM112.85 94.23h6.83v1.28h-6.83zM92.53 95.47h6.83v1.28h-6.83zM92.53 97.93h6.83v1.28h-6.83zM119.62 99.17h6.83v1.28h-6.83zM112.85 100.4h6.83v1.28h-6.83zM78.97 101.63h6.83v1.28h-6.83zM99.3 105.33h6.83v1.28h-6.83zM85.75 107.8h6.83v1.28h-6.83zM92.53 107.8h6.83v1.28h-6.83zM112.85 107.8h6.83v1.28h-6.83zM112.85 111.5h6.83v1.28h-6.83zM72.2 113.97h6.83v1.28h-6.83zM119.62 113.97h6.83v1.28h-6.83zM106.08 116.43h6.83v1.28h-6.83zM119.62 116.43h6.83v1.28h-6.83zM92.53 117.67h6.83v1.28h-6.83zM99.3 117.67h6.83v1.28h-6.83zM72.2 120.13h6.83v1.28h-6.83zM119.62 120.13h6.83v1.28h-6.83zM112.85 121.37h6.83v1.28h-6.83zM85.75 122.6h6.83v1.28h-6.83zM92.53 122.6h6.83v1.28h-6.83zM112.85 126.3h6.83v1.28h-6.83zM72.2 130h6.83v1.28h-6.83zM78.97 134.93h6.83v1.28h-6.83zM85.75 136.17h6.83v1.28h-6.83zM119.62 136.17h6.83v1.28h-6.83z"/>
<path fill="#ebb0b3" d="M31.55 21.47h6.83v1.28h-6.83zM38.33 22.7h6.83v1.28h-6.83zM58.65 23.93h6.83v1.28h-6.83zM18 27.63h6.83v1.28h-6.83zM38.33 27.63h6.83v1.28h-6.83zM58.65 27.63h6.83v1.28h-6.83zM38.33 28.87h6.83v1.28h-6.83zM51.88 28.87h6.83v1.28h-6.83zM31.55 31.33h6.83v1.28h-6.83zM18 37.5h6.83v1.28h-6.83zM24.77 43.67h6.83v1.28h-6.83zM45.1 44.9h6.83v1.28h-6.83zM38.33 46.13h6.83v1.28h-6.83zM45.1 46.13h6.83v1.28h-6.83zM24.77 48.6h6.83v1.28h-6.83zM24.77 52.3h6.83v1.28h-6.83zM45.1 53.53h6.83v1.28h-6.83zM18 57.23h6.83v1.28h-6.83zM45.1 57.23h6.83v1.28h-6.83zM18 60.93h6.83v1.28h-6.83zM58.65 60.93h6.83v1.28h-6.83zM51.88 64.63h6.83v1.28h-6.83zM51.88 65.87h6.83v1.28h-6.83zM31.55 69.57h6.83v1.28h-6.83zM45.1 74.5h6.83v1.28h-6.83zM65.43 74.5h6.83v1.28h-6.83zM92.53 81.9h6.83v1.28h-6.83zM106.08 81.9h6.83v1.28h-6.83zM106.08 83.13h6.83v1.28h-6.83zM72.2 85.6h6.83v1.28h-6.83zM78.97 89.3h6.83v1.28h-6.83zM119.62 95.47h6.83v1.28h-6.83zM99.3 97.93h6.83v1.28h-6.83zM99.3 100.4h6.83v1.28h-6.83zM72.2 101.63h6.83v1.28h-6.83zM119.62 101.63h6.83v1.28h-6.83zM78.97 102.87h6.83v1.28h-6.83zM99.3 102.87h6.83v1.28h-6.83zM119.62 107.8h6.83v1.28h-6.83zM72.2 109.03h6.83v1.28h-6.83zM92.53 109.03h6.83v1.28h-6.83zM106.08 109.03h6.83v1.28h-6.83zM119.62 109.03h6.83v1.28h-6.83zM92.53 111.5h6.83v1.28h-6.83zM99.3 111.5h6.83v1.28h-6.83zM85.75 113.97h6.83v1.28h-6.83zM92.53 116.43h6.83v1.28h-6.83zM112.85 117.67h6.83v1.28h-6.83zM92.53 120.13h6.83v1.28h-6.83zM99.3 120.13h6.83v1.28h-6.83zM106.08 122.6h6.83v1.28h-6.83zM112.85 128.77h6.83v1.28h-6.83zM99.3 132.47h6.83v1.28h-6.83z"/>
<path fill="#e9a5a9" d="M24.77 20.23h6.83v1.28h-6.83zM31.55 23.93h6.83v1.28h-6.83zM38.33 25.17h6.83v1.28h-6.83zM51.88 26.4h6.83v1.28h-6.83zM24.77 27.63h6.83v1.28h-6.83zM58.65 30.1h6.83v1.28h-6.83zM18 35.03h6.83v1.28h-6.83zM24.77 35.03h6.83v1.28h-6.83zM24.77 36.27h6.83v1.28h-6.83zM58.65 37.5h6.83v1.28h-6.83zM58.65 38.73h6.83v1.28h-6.83zM24.77 41.2h6.83v1.28h-6.83zM38.33 42.43h6.83v1.28h-6.83zM51.88 44.9h6.83v1.28h-6.83zM24.77 46.13h6.83v1.28h-6.83zM45.1 47.37h6.83v1.28h-6.83zM51.88 47.37h6.83v1.28h-6.83zM24.77 58.47h6.83v1.28h-6.83zM58.65 59.7h6.83v1.28h-6.83zM58.65 74.5h6.83v1.28h-6.83zM78.97 83.13h6.83v1.28h-6.83zM99.3 84.37h6.83v1.28h-6.83zM106.08 85.6h6.83v1.28h-6.83zM99.3 91.77h6.83v1.28h-6.83zM112.85 91.77h6.83v1.28h-6.83zM99.3 101.63h6.83v1.28h-6.83zM106.08 101.63h6.83v1.28h-6.83zM106.08 105.33h6.83v1.28h-6.83zM85.75 109.03h6.83v1.28h-6.83zM112.85 109.03h6.83v1.28h-6.83zM106.08 111.5h6.83v1.28h-6.83zM99.3 115.2h6.83v1.28h-6.83zM99.3 116.43h6.83v1.28h-6.83zM78.97 120.13h6.83v1.28h-6.83zM85.75 120.13h6.83v1.28h-6.83zM112.85 120.13h6.83v1.28h-6.83zM99.3 122.6h6.83v1.28h-6.83zM112.85 134.93h6.83v1.28h-6.83zM112.85 136.17h6.83v1.28h-6.83z"/>
<path fill="#e6999e" d="M38.33 23.93h6.83v1.28h-6.83zM45.1 27.63h6.83v1.28h-6.83zM31.55 37.5h6.83v1.28h-6.83zM51.88 48.6h6.83v1.28h-6.83zM31.55 52.3h6.83v1.28h-6.83zM51.88 52.3h6.83v1.28h-6.83zM65.43 56h6.83v1.28h-6.83zM38.33 74.5h6.83v1.28h-6.83zM24.77 75.73h6.83v1.28h-6.83zM99.3 93h6.83v1.28h-6.83zM106.08 97.93h6.83v1.28h-6.83zM112.85 101.63h6.83v1.28h-6.83zM99.3 109.03h6.83v1.28h-6.83zM72.2 111.5h6.83v1.28h-6.83zM106.08 120.13h6.83v1.28h-6.83zM112.85 125.07h6.83v1.28h-6.83z"/>
<path fill="#e38e93" d="M18 23.93h6.83v1.28h-6.83zM38.33 30.1h6.83v1.28h-6.83zM51.88 31.33h6.83v1.28h-6.83z"/>
<path fill="#e08388" d="M38.33 43.67h6.83v1.28h-6.83z"/>
<rect x="128.8" y="19.8" width="4.2" height="61" fill="url(#cb)"/>
<text x="135.6" y="22.5" font-size="6.5" font-weight="bold">3</text>
<text x="135.4" y="52" font-size="6.5" font-weight="bold">0</text>
<text x="135" y="82" font-size="6.5" font-weight="bold">-3</text>
<rect x="149.7" y="12.9" width="54.5" height="6.1" fill="#3a3a9e"/>
<rect x="204.2" y="12.9" width="54.1" height="6.1" fill="#cc2a2a"/>
<text x="154.5" y="18.2" font-size="5.8" font-weight="bold" fill="#fff" textLength="46.5" lengthAdjust="spacingAndGlyphs">Tumor without LM</text>
<text x="211.1" y="18.2" font-size="5.8" font-weight="bold" fill="#fff" textLength="38.9" lengthAdjust="spacingAndGlyphs">Tumor with LM</text>
<path fill="#5256ab" d="M204 117.42h5.48v1.27h-5.48z"/>
<path fill="#686cb5" d="M204 102.84h5.48v1.27h-5.48zM204 119.85h5.48v1.27h-5.48z"/>
<path fill="#7376ba" d="M155.13 23.86h5.48v1.27h-5.48zM149.7 59.1h5.48v1.27h-5.48zM204 97.98h5.48v1.27h-5.48zM204 121.06h5.48v1.27h-5.48zM204 122.28h5.48v1.27h-5.48zM242.01 122.28h5.48v1.27h-5.48zM204 127.14h5.48v1.27h-5.48zM231.15 132h5.48v1.27h-5.48zM204 134.43h5.48v1.27h-5.48zM231.15 138.07h5.48v1.27h-5.48z"/>
<path fill="#7e81c0" d="M155.13 76.11h5.48v1.27h-5.48zM231.15 108.91h5.48v1.27h-5.48zM231.15 113.77h5.48v1.27h-5.48zM242.01 118.63h5.48v1.27h-5.48zM231.15 125.92h5.48v1.27h-5.48zM204 128.35h5.48v1.27h-5.48zM231.15 128.35h5.48v1.27h-5.48zM242.01 128.35h5.48v1.27h-5.48zM204 130.78h5.48v1.27h-5.48zM231.15 130.78h5.48v1.27h-5.48zM204 135.64h5.48v1.27h-5.48z"/>
<path fill="#888bc5" d="M198.57 22.64h5.48v1.27h-5.48zM155.13 39.66h5.48v1.27h-5.48zM176.85 39.66h5.48v1.27h-5.48zM176.85 42.09h5.48v1.27h-5.48zM193.14 44.52h5.48v1.27h-5.48zM193.14 46.95h5.48v1.27h-5.48zM160.56 51.8h5.48v1.27h-5.48zM165.99 67.6h5.48v1.27h-5.48zM204 95.55h5.48v1.27h-5.48zM231.15 97.98h5.48v1.27h-5.48zM204 100.41h5.48v1.27h-5.48zM204 116.2h5.48v1.27h-5.48zM225.72 116.2h5.48v1.27h-5.48zM231.15 121.06h5.48v1.27h-5.48zM231.15 122.28h5.48v1.27h-5.48zM220.29 123.49h5.48v1.27h-5.48zM231.15 127.14h5.48v1.27h-5.48zM220.29 129.56h5.48v1.27h-5.48zM242.01 129.56h5.48v1.27h-5.48zM204 132h5.48v1.27h-5.48zM242.01 132h5.48v1.27h-5.48zM242.01 135.64h5.48v1.27h-5.48zM204 139.29h5.48v1.27h-5.48z"/>
<path fill="#9396ca" d="M149.7 20.21h5.48v1.27h-5.48zM193.14 22.64h5.48v1.27h-5.48zM155.13 26.29h5.48v1.27h-5.48zM160.56 39.66h5.48v1.27h-5.48zM182.28 39.66h5.48v1.27h-5.48zM193.14 40.87h5.48v1.27h-5.48zM160.56 42.09h5.48v1.27h-5.48zM155.13 45.73h5.48v1.27h-5.48zM165.99 51.8h5.48v1.27h-5.48zM171.42 55.45h5.48v1.27h-5.48zM160.56 57.88h5.48v1.27h-5.48zM160.56 60.31h5.48v1.27h-5.48zM193.14 67.6h5.48v1.27h-5.48zM176.85 68.81h5.48v1.27h-5.48zM193.14 71.25h5.48v1.27h-5.48zM171.42 73.68h5.48v1.27h-5.48zM155.13 74.89h5.48v1.27h-5.48zM242.01 79.75h5.48v1.27h-5.48zM204 94.33h5.48v1.27h-5.48zM225.72 94.33h5.48v1.27h-5.48zM220.29 100.41h5.48v1.27h-5.48zM204 101.62h5.48v1.27h-5.48zM214.86 102.84h5.48v1.27h-5.48zM204 105.27h5.48v1.27h-5.48zM204 108.91h5.48v1.27h-5.48zM204 113.77h5.48v1.27h-5.48zM242.01 113.77h5.48v1.27h-5.48zM242.01 114.98h5.48v1.27h-5.48zM220.29 116.2h5.48v1.27h-5.48zM236.58 117.42h5.48v1.27h-5.48zM204 124.71h5.48v1.27h-5.48zM236.58 128.35h5.48v1.27h-5.48zM242.01 130.78h5.48v1.27h-5.48zM231.15 135.64h5.48v1.27h-5.48zM204 138.07h5.48v1.27h-5.48z"/>
<path fill="#9ea0cf" d="M176.85 20.21h5.48v1.27h-5.48zM165.99 21.43h5.48v1.27h-5.48zM155.13 25.07h5.48v1.27h-5.48zM160.56 26.29h5.48v1.27h-5.48zM155.13 31.15h5.48v1.27h-5.48zM171.42 32.37h5.48v1.27h-5.48zM193.14 34.8h5.48v1.27h-5.48zM165.99 39.66h5.48v1.27h-5.48zM155.13 42.09h5.48v1.27h-5.48zM165.99 46.95h5.48v1.27h-5.48zM176.85 48.16h5.48v1.27h-5.48zM182.28 51.8h5.48v1.27h-5.48zM193.14 72.46h5.48v1.27h-5.48zM193.14 77.32h5.48v1.27h-5.48zM220.29 82.18h5.48v1.27h-5.48zM242.01 83.4h5.48v1.27h-5.48zM231.15 85.83h5.48v1.27h-5.48zM231.15 87.04h5.48v1.27h-5.48zM247.44 87.04h5.48v1.27h-5.48zM231.15 93.12h5.48v1.27h-5.48zM231.15 99.19h5.48v1.27h-5.48zM204 110.12h5.48v1.27h-5.48zM220.29 113.77h5.48v1.27h-5.48zM242.01 116.2h5.48v1.27h-5.48zM204 118.63h5.48v1.27h-5.48zM242.01 119.85h5.48v1.27h-5.48zM247.44 121.06h5.48v1.27h-5.48zM214.86 123.49h5.48v1.27h-5.48zM247.44 125.92h5.48v1.27h-5.48zM225.72 128.35h5.48v1.27h-5.48zM231.15 129.56h5.48v1.27h-5.48zM204 133.21h5.48v1.27h-5.48zM231.15 133.21h5.48v1.27h-5.48zM220.29 134.43h5.48v1.27h-5.48zM225.72 135.64h5.48v1.27h-5.48zM204 136.86h5.48v1.27h-5.48zM231.15 136.86h5.48v1.27h-5.48z"/>
<path fill="#a9abd5" d="M193.14 19h5.48v1.27h-5.48zM171.42 20.21h5.48v1.27h-5.48zM160.56 22.64h5.48v1.27h-5.48zM165.99 22.64h5.48v1.27h-5.48zM171.42 22.64h5.48v1.27h-5.48zM149.7 23.86h5.48v1.27h-5.48zM171.42 25.07h5.48v1.27h-5.48zM193.14 25.07h5.48v1.27h-5.48zM160.56 27.51h5.48v1.27h-5.48zM155.13 28.72h5.48v1.27h-5.48zM155.13 36.01h5.48v1.27h-5.48zM171.42 36.01h5.48v1.27h-5.48zM165.99 38.44h5.48v1.27h-5.48zM171.42 39.66h5.48v1.27h-5.48zM149.7 40.87h5.48v1.27h-5.48zM176.85 40.87h5.48v1.27h-5.48zM165.99 42.09h5.48v1.27h-5.48zM160.56 46.95h5.48v1.27h-5.48zM149.7 48.16h5.48v1.27h-5.48zM155.13 48.16h5.48v1.27h-5.48zM176.85 49.38h5.48v1.27h-5.48zM193.14 49.38h5.48v1.27h-5.48zM193.14 51.8h5.48v1.27h-5.48zM193.14 55.45h5.48v1.27h-5.48zM165.99 56.66h5.48v1.27h-5.48zM149.7 57.88h5.48v1.27h-5.48zM149.7 60.31h5.48v1.27h-5.48zM171.42 61.53h5.48v1.27h-5.48zM193.14 61.53h5.48v1.27h-5.48zM155.13 62.74h5.48v1.27h-5.48zM160.56 62.74h5.48v1.27h-5.48zM149.7 65.17h5.48v1.27h-5.48zM155.13 65.17h5.48v1.27h-5.48zM171.42 65.17h5.48v1.27h-5.48zM149.7 66.39h5.48v1.27h-5.48zM193.14 66.39h5.48v1.27h-5.48zM171.42 67.6h5.48v1.27h-5.48zM187.71 67.6h5.48v1.27h-5.48zM160.56 70.03h5.48v1.27h-5.48zM193.14 70.03h5.48v1.27h-5.48zM149.7 74.89h5.48v1.27h-5.48zM149.7 77.32h5.48v1.27h-5.48zM171.42 77.32h5.48v1.27h-5.48zM160.56 78.53h5.48v1.27h-5.48zM220.29 84.61h5.48v1.27h-5.48zM225.72 87.04h5.48v1.27h-5.48zM220.29 90.69h5.48v1.27h-5.48zM247.44 93.12h5.48v1.27h-5.48zM242.01 94.33h5.48v1.27h-5.48zM247.44 96.76h5.48v1.27h-5.48zM214.86 97.98h5.48v1.27h-5.48zM204 99.19h5.48v1.27h-5.48zM231.15 102.84h5.48v1.27h-5.48zM242.01 102.84h5.48v1.27h-5.48zM231.15 106.48h5.48v1.27h-5.48zM204 111.34h5.48v1.27h-5.48zM242.01 111.34h5.48v1.27h-5.48zM204 114.98h5.48v1.27h-5.48zM231.15 119.85h5.48v1.27h-5.48zM220.29 121.06h5.48v1.27h-5.48zM204 125.92h5.48v1.27h-5.48zM220.29 125.92h5.48v1.27h-5.48zM236.58 127.14h5.48v1.27h-5.48zM242.01 127.14h5.48v1.27h-5.48zM220.29 130.78h5.48v1.27h-5.48zM225.72 138.07h5.48v1.27h-5.48zM214.86 139.29h5.48v1.27h-5.48z"/>
<path fill="#b3b5da" d="M187.71 19h5.48v1.27h-5.48zM193.14 20.21h5.48v1.27h-5.48zM171.42 21.43h5.48v1.27h-5.48zM165.99 23.86h5.48v1.27h-5.48zM171.42 27.51h5.48v1.27h-5.48zM155.13 29.94h5.48v1.27h-5.48zM160.56 33.58h5.48v1.27h-5.48zM176.85 36.01h5.48v1.27h-5.48zM193.14 36.01h5.48v1.27h-5.48zM160.56 38.44h5.48v1.27h-5.48zM171.42 38.44h5.48v1.27h-5.48zM198.57 39.66h5.48v1.27h-5.48zM160.56 40.87h5.48v1.27h-5.48zM149.7 42.09h5.48v1.27h-5.48zM171.42 46.95h5.48v1.27h-5.48zM176.85 46.95h5.48v1.27h-5.48zM149.7 49.38h5.48v1.27h-5.48zM155.13 49.38h5.48v1.27h-5.48zM149.7 51.8h5.48v1.27h-5.48zM155.13 54.23h5.48v1.27h-5.48zM171.42 54.23h5.48v1.27h-5.48zM182.28 54.23h5.48v1.27h-5.48zM176.85 55.45h5.48v1.27h-5.48zM171.42 56.66h5.48v1.27h-5.48zM160.56 61.53h5.48v1.27h-5.48zM182.28 61.53h5.48v1.27h-5.48zM165.99 66.39h5.48v1.27h-5.48zM176.85 66.39h5.48v1.27h-5.48zM176.85 67.6h5.48v1.27h-5.48zM155.13 68.81h5.48v1.27h-5.48zM187.71 68.81h5.48v1.27h-5.48zM193.14 68.81h5.48v1.27h-5.48zM165.99 70.03h5.48v1.27h-5.48zM171.42 70.03h5.48v1.27h-5.48zM198.57 70.03h5.48v1.27h-5.48zM149.7 72.46h5.48v1.27h-5.48zM165.99 73.68h5.48v1.27h-5.48zM165.99 74.89h5.48v1.27h-5.48zM171.42 74.89h5.48v1.27h-5.48zM160.56 76.11h5.48v1.27h-5.48zM193.14 76.11h5.48v1.27h-5.48zM198.57 76.11h5.48v1.27h-5.48zM155.13 77.32h5.48v1.27h-5.48zM165.99 77.32h5.48v1.27h-5.48zM155.13 78.53h5.48v1.27h-5.48zM187.71 78.53h5.48v1.27h-5.48zM204 79.75h5.48v1.27h-5.48zM214.86 80.97h5.48v1.27h-5.48zM204 84.61h5.48v1.27h-5.48zM204 87.04h5.48v1.27h-5.48zM225.72 89.47h5.48v1.27h-5.48zM204 91.9h5.48v1.27h-5.48zM209.43 91.9h5.48v1.27h-5.48zM242.01 91.9h5.48v1.27h-5.48zM220.29 95.55h5.48v1.27h-5.48zM220.29 97.98h5.48v1.27h-5.48zM242.01 97.98h5.48v1.27h-5.48zM209.43 100.41h5.48v1.27h-5.48zM225.72 100.41h5.48v1.27h-5.48zM231.15 100.41h5.48v1.27h-5.48zM247.44 102.84h5.48v1.27h-5.48zM242.01 105.27h5.48v1.27h-5.48zM242.01 107.7h5.48v1.27h-5.48zM231.15 117.42h5.48v1.27h-5.48zM225.72 121.06h5.48v1.27h-5.48zM220.29 122.28h5.48v1.27h-5.48zM247.44 122.28h5.48v1.27h-5.48zM204 123.49h5.48v1.27h-5.48zM242.01 123.49h5.48v1.27h-5.48zM242.01 124.71h5.48v1.27h-5.48zM225.72 125.92h5.48v1.27h-5.48zM247.44 127.14h5.48v1.27h-5.48zM242.01 138.07h5.48v1.27h-5.48zM247.44 138.07h5.48v1.27h-5.48zM231.15 139.29h5.48v1.27h-5.48zM236.58 139.29h5.48v1.27h-5.48z"/>
<path fill="#bec0df" d="M149.7 19h5.48v1.27h-5.48zM171.42 19h5.48v1.27h-5.48zM155.13 21.43h5.48v1.27h-5.48zM155.13 22.64h5.48v1.27h-5.48zM171.42 23.86h5.48v1.27h-5.48zM182.28 23.86h5.48v1.27h-5.48zM193.14 23.86h5.48v1.27h-5.48zM198.57 23.86h5.48v1.27h-5.48zM149.7 25.07h5.48v1.27h-5.48zM165.99 26.29h5.48v1.27h-5.48zM176.85 26.29h5.48v1.27h-5.48zM155.13 27.51h5.48v1.27h-5.48zM165.99 27.51h5.48v1.27h-5.48zM176.85 27.51h5.48v1.27h-5.48zM149.7 28.72h5.48v1.27h-5.48zM171.42 29.94h5.48v1.27h-5.48zM160.56 31.15h5.48v1.27h-5.48zM160.56 32.37h5.48v1.27h-5.48zM149.7 33.58h5.48v1.27h-5.48zM193.14 33.58h5.48v1.27h-5.48zM160.56 36.01h5.48v1.27h-5.48zM165.99 36.01h5.48v1.27h-5.48zM155.13 38.44h5.48v1.27h-5.48zM193.14 39.66h5.48v1.27h-5.48zM155.13 40.87h5.48v1.27h-5.48zM155.13 44.52h5.48v1.27h-5.48zM160.56 44.52h5.48v1.27h-5.48zM187.71 44.52h5.48v1.27h-5.48zM149.7 45.73h5.48v1.27h-5.48zM198.57 45.73h5.48v1.27h-5.48zM155.13 46.95h5.48v1.27h-5.48zM176.85 50.59h5.48v1.27h-5.48zM182.28 53.02h5.48v1.27h-5.48zM160.56 54.23h5.48v1.27h-5.48zM176.85 54.23h5.48v1.27h-5.48zM193.14 54.23h5.48v1.27h-5.48zM198.57 54.23h5.48v1.27h-5.48zM149.7 55.45h5.48v1.27h-5.48zM155.13 55.45h5.48v1.27h-5.48zM155.13 56.66h5.48v1.27h-5.48zM160.56 56.66h5.48v1.27h-5.48zM176.85 56.66h5.48v1.27h-5.48zM193.14 56.66h5.48v1.27h-5.48zM171.42 59.1h5.48v1.27h-5.48zM193.14 59.1h5.48v1.27h-5.48zM198.57 59.1h5.48v1.27h-5.48zM155.13 60.31h5.48v1.27h-5.48zM155.13 61.53h5.48v1.27h-5.48zM165.99 62.74h5.48v1.27h-5.48zM187.71 65.17h5.48v1.27h-5.48zM182.28 67.6h5.48v1.27h-5.48zM160.56 68.81h5.48v1.27h-5.48zM149.7 70.03h5.48v1.27h-5.48zM155.13 71.25h5.48v1.27h-5.48zM165.99 71.25h5.48v1.27h-5.48zM171.42 71.25h5.48v1.27h-5.48zM176.85 71.25h5.48v1.27h-5.48zM198.57 71.25h5.48v1.27h-5.48zM165.99 72.46h5.48v1.27h-5.48zM171.42 72.46h5.48v1.27h-5.48zM182.28 72.46h5.48v1.27h-5.48zM160.56 73.68h5.48v1.27h-5.48zM160.56 74.89h5.48v1.27h-5.48zM176.85 74.89h5.48v1.27h-5.48zM182.28 74.89h5.48v1.27h-5.48zM193.14 74.89h5.48v1.27h-5.48zM165.99 78.53h5.48v1.27h-5.48zM214.86 79.75h5.48v1.27h-5.48zM225.72 79.75h5.48v1.27h-5.48zM236.58 79.75h5.48v1.27h-5.48zM220.29 80.97h5.48v1.27h-5.48zM247.44 80.97h5.48v1.27h-5.48zM204 83.4h5.48v1.27h-5.48zM236.58 83.4h5.48v1.27h-5.48zM247.44 83.4h5.48v1.27h-5.48zM214.86 84.61h5.48v1.27h-5.48zM247.44 84.61h5.48v1.27h-5.48zM220.29 85.83h5.48v1.27h-5.48zM242.01 85.83h5.48v1.27h-5.48zM247.44 85.83h5.48v1.27h-5.48zM209.43 87.04h5.48v1.27h-5.48zM225.72 91.9h5.48v1.27h-5.48zM220.29 93.12h5.48v1.27h-5.48zM231.15 94.33h5.48v1.27h-5.48zM236.58 94.33h5.48v1.27h-5.48zM236.58 95.55h5.48v1.27h-5.48zM247.44 97.98h5.48v1.27h-5.48zM252.87 97.98h5.48v1.27h-5.48zM242.01 99.19h5.48v1.27h-5.48zM242.01 100.41h5.48v1.27h-5.48zM247.44 100.41h5.48v1.27h-5.48zM231.15 101.62h5.48v1.27h-5.48zM220.29 102.84h5.48v1.27h-5.48zM214.86 104.05h5.48v1.27h-5.48zM231.15 104.05h5.48v1.27h-5.48zM247.44 104.05h5.48v1.27h-5.48zM242.01 106.48h5.48v1.27h-5.48zM220.29 107.7h5.48v1.27h-5.48zM231.15 111.34h5.48v1.27h-5.48zM231.15 112.56h5.48v1.27h-5.48zM236.58 112.56h5.48v1.27h-5.48zM252.87 113.77h5.48v1.27h-5.48zM247.44 114.98h5.48v1.27h-5.48zM231.15 116.2h5.48v1.27h-5.48zM247.44 116.2h5.48v1.27h-5.48zM225.72 117.42h5.48v1.27h-5.48zM242.01 117.42h5.48v1.27h-5.48zM220.29 118.63h5.48v1.27h-5.48zM247.44 118.63h5.48v1.27h-5.48zM220.29 119.85h5.48v1.27h-5.48zM252.87 121.06h5.48v1.27h-5.48zM231.15 123.49h5.48v1.27h-5.48zM252.87 123.49h5.48v1.27h-5.48zM214.86 124.71h5.48v1.27h-5.48zM231.15 124.71h5.48v1.27h-5.48zM252.87 125.92h5.48v1.27h-5.48zM225.72 127.14h5.48v1.27h-5.48zM247.44 128.35h5.48v1.27h-5.48zM225.72 130.78h5.48v1.27h-5.48zM247.44 130.78h5.48v1.27h-5.48zM182.28 132h5.48v1.27h-5.48zM247.44 132h5.48v1.27h-5.48zM242.01 133.21h5.48v1.27h-5.48zM236.58 134.43h5.48v1.27h-5.48zM220.29 135.64h5.48v1.27h-5.48zM242.01 139.29h5.48v1.27h-5.48z"/>
<path fill="#c9cae4" d="M176.85 19h5.48v1.27h-5.48zM182.28 19h5.48v1.27h-5.48zM160.56 20.21h5.48v1.27h-5.48zM165.99 20.21h5.48v1.27h-5.48zM182.28 20.21h5.48v1.27h-5.48zM149.7 21.43h5.48v1.27h-5.48zM160.56 21.43h5.48v1.27h-5.48zM176.85 23.86h5.48v1.27h-5.48zM187.71 23.86h5.48v1.27h-5.48zM160.56 25.07h5.48v1.27h-5.48zM187.71 25.07h5.48v1.27h-5.48zM198.57 25.07h5.48v1.27h-5.48zM149.7 27.51h5.48v1.27h-5.48zM187.71 27.51h5.48v1.27h-5.48zM193.14 27.51h5.48v1.27h-5.48zM160.56 28.72h5.48v1.27h-5.48zM176.85 28.72h5.48v1.27h-5.48zM171.42 34.8h5.48v1.27h-5.48zM176.85 34.8h5.48v1.27h-5.48zM149.7 37.23h5.48v1.27h-5.48zM160.56 37.23h5.48v1.27h-5.48zM149.7 39.66h5.48v1.27h-5.48zM187.71 39.66h5.48v1.27h-5.48zM171.42 40.87h5.48v1.27h-5.48zM182.28 40.87h5.48v1.27h-5.48zM149.7 43.3h5.48v1.27h-5.48zM176.85 43.3h5.48v1.27h-5.48zM193.14 43.3h5.48v1.27h-5.48zM165.99 44.52h5.48v1.27h-5.48zM176.85 44.52h5.48v1.27h-5.48zM198.57 44.52h5.48v1.27h-5.48zM160.56 45.73h5.48v1.27h-5.48zM176.85 45.73h5.48v1.27h-5.48zM160.56 50.59h5.48v1.27h-5.48zM187.71 50.59h5.48v1.27h-5.48zM193.14 50.59h5.48v1.27h-5.48zM176.85 51.8h5.48v1.27h-5.48zM165.99 54.23h5.48v1.27h-5.48zM182.28 55.45h5.48v1.27h-5.48zM187.71 55.45h5.48v1.27h-5.48zM165.99 57.88h5.48v1.27h-5.48zM176.85 57.88h5.48v1.27h-5.48zM193.14 57.88h5.48v1.27h-5.48zM160.56 59.1h5.48v1.27h-5.48zM176.85 59.1h5.48v1.27h-5.48zM171.42 60.31h5.48v1.27h-5.48zM187.71 60.31h5.48v1.27h-5.48zM165.99 61.53h5.48v1.27h-5.48zM149.7 62.74h5.48v1.27h-5.48zM193.14 62.74h5.48v1.27h-5.48zM165.99 65.17h5.48v1.27h-5.48zM155.13 66.39h5.48v1.27h-5.48zM171.42 66.39h5.48v1.27h-5.48zM182.28 66.39h5.48v1.27h-5.48zM165.99 68.81h5.48v1.27h-5.48zM171.42 68.81h5.48v1.27h-5.48zM155.13 70.03h5.48v1.27h-5.48zM149.7 71.25h5.48v1.27h-5.48zM182.28 71.25h5.48v1.27h-5.48zM155.13 72.46h5.48v1.27h-5.48zM160.56 72.46h5.48v1.27h-5.48zM149.7 73.68h5.48v1.27h-5.48zM176.85 73.68h5.48v1.27h-5.48zM193.14 73.68h5.48v1.27h-5.48zM198.57 73.68h5.48v1.27h-5.48zM160.56 77.32h5.48v1.27h-5.48zM176.85 77.32h5.48v1.27h-5.48zM193.14 78.53h5.48v1.27h-5.48zM204 80.97h5.48v1.27h-5.48zM225.72 80.97h5.48v1.27h-5.48zM252.87 83.4h5.48v1.27h-5.48zM236.58 84.61h5.48v1.27h-5.48zM214.86 88.26h5.48v1.27h-5.48zM231.15 88.26h5.48v1.27h-5.48zM242.01 88.26h5.48v1.27h-5.48zM231.15 90.69h5.48v1.27h-5.48zM247.44 90.69h5.48v1.27h-5.48zM225.72 93.12h5.48v1.27h-5.48zM214.86 94.33h5.48v1.27h-5.48zM220.29 94.33h5.48v1.27h-5.48zM247.44 94.33h5.48v1.27h-5.48zM182.28 95.55h5.48v1.27h-5.48zM242.01 96.76h5.48v1.27h-5.48zM209.43 97.98h5.48v1.27h-5.48zM236.58 97.98h5.48v1.27h-5.48zM182.28 99.19h5.48v1.27h-5.48zM252.87 100.41h5.48v1.27h-5.48zM225.72 101.62h5.48v1.27h-5.48zM242.01 101.62h5.48v1.27h-5.48zM252.87 101.62h5.48v1.27h-5.48zM204 104.05h5.48v1.27h-5.48zM209.43 105.27h5.48v1.27h-5.48zM247.44 105.27h5.48v1.27h-5.48zM204 106.48h5.48v1.27h-5.48zM231.15 107.7h5.48v1.27h-5.48zM236.58 107.7h5.48v1.27h-5.48zM182.28 108.91h5.48v1.27h-5.48zM236.58 108.91h5.48v1.27h-5.48zM220.29 110.12h5.48v1.27h-5.48zM204 112.56h5.48v1.27h-5.48zM214.86 112.56h5.48v1.27h-5.48zM220.29 112.56h5.48v1.27h-5.48zM225.72 113.77h5.48v1.27h-5.48zM220.29 114.98h5.48v1.27h-5.48zM209.43 119.85h5.48v1.27h-5.48zM242.01 121.06h5.48v1.27h-5.48zM214.86 122.28h5.48v1.27h-5.48zM225.72 122.28h5.48v1.27h-5.48zM236.58 122.28h5.48v1.27h-5.48zM236.58 123.49h5.48v1.27h-5.48zM220.29 124.71h5.48v1.27h-5.48zM225.72 124.71h5.48v1.27h-5.48zM209.43 127.14h5.48v1.27h-5.48zM209.43 128.35h5.48v1.27h-5.48zM214.86 128.35h5.48v1.27h-5.48zM225.72 129.56h5.48v1.27h-5.48zM236.58 130.78h5.48v1.27h-5.48zM220.29 132h5.48v1.27h-5.48zM252.87 132h5.48v1.27h-5.48zM225.72 133.21h5.48v1.27h-5.48zM176.85 134.43h5.48v1.27h-5.48zM214.86 135.64h5.48v1.27h-5.48zM236.58 135.64h5.48v1.27h-5.48zM247.44 135.64h5.48v1.27h-5.48zM252.87 135.64h5.48v1.27h-5.48zM214.86 136.86h5.48v1.27h-5.48z"/>
<path fill="#d4d5ea" d="M155.13 20.21h5.48v1.27h-5.48zM176.85 21.43h5.48v1.27h-5.48zM193.14 21.43h5.48v1.27h-5.48zM149.7 22.64h5.48v1.27h-5.48zM187.71 22.64h5.48v1.27h-5.48zM176.85 25.07h5.48v1.27h-5.48zM193.14 26.29h5.48v1.27h-5.48zM198.57 27.51h5.48v1.27h-5.48zM171.42 28.72h5.48v1.27h-5.48zM182.28 28.72h5.48v1.27h-5.48zM176.85 29.94h5.48v1.27h-5.48zM149.7 32.37h5.48v1.27h-5.48zM165.99 32.37h5.48v1.27h-5.48zM193.14 32.37h5.48v1.27h-5.48zM198.57 33.58h5.48v1.27h-5.48zM182.28 34.8h5.48v1.27h-5.48zM182.28 36.01h5.48v1.27h-5.48zM225.72 36.01h5.48v1.27h-5.48zM187.71 37.23h5.48v1.27h-5.48zM176.85 38.44h5.48v1.27h-5.48zM171.42 42.09h5.48v1.27h-5.48zM193.14 42.09h5.48v1.27h-5.48zM198.57 42.09h5.48v1.27h-5.48zM160.56 43.3h5.48v1.27h-5.48zM182.28 44.52h5.48v1.27h-5.48zM149.7 46.95h5.48v1.27h-5.48zM165.99 48.16h5.48v1.27h-5.48zM182.28 48.16h5.48v1.27h-5.48zM193.14 48.16h5.48v1.27h-5.48zM171.42 49.38h5.48v1.27h-5.48zM198.57 49.38h5.48v1.27h-5.48zM149.7 50.59h5.48v1.27h-5.48zM155.13 50.59h5.48v1.27h-5.48zM198.57 50.59h5.48v1.27h-5.48zM171.42 51.8h5.48v1.27h-5.48zM198.57 51.8h5.48v1.27h-5.48zM171.42 53.02h5.48v1.27h-5.48zM160.56 55.45h5.48v1.27h-5.48zM149.7 56.66h5.48v1.27h-5.48zM182.28 56.66h5.48v1.27h-5.48zM198.57 56.66h5.48v1.27h-5.48zM155.13 59.1h5.48v1.27h-5.48zM182.28 59.1h5.48v1.27h-5.48zM176.85 61.53h5.48v1.27h-5.48zM171.42 62.74h5.48v1.27h-5.48zM149.7 63.96h5.48v1.27h-5.48zM155.13 63.96h5.48v1.27h-5.48zM193.14 63.96h5.48v1.27h-5.48zM182.28 65.17h5.48v1.27h-5.48zM149.7 67.6h5.48v1.27h-5.48zM149.7 68.81h5.48v1.27h-5.48zM176.85 70.03h5.48v1.27h-5.48zM182.28 70.03h5.48v1.27h-5.48zM160.56 71.25h5.48v1.27h-5.48zM187.71 71.25h5.48v1.27h-5.48zM176.85 72.46h5.48v1.27h-5.48zM187.71 72.46h5.48v1.27h-5.48zM198.57 72.46h5.48v1.27h-5.48zM187.71 73.68h5.48v1.27h-5.48zM149.7 76.11h5.48v1.27h-5.48zM225.72 76.11h5.48v1.27h-5.48zM198.57 77.32h5.48v1.27h-5.48zM149.7 78.53h5.48v1.27h-5.48zM171.42 78.53h5.48v1.27h-5.48zM182.28 78.53h5.48v1.27h-5.48zM198.57 78.53h5.48v1.27h-5.48zM242.01 80.97h5.48v1.27h-5.48zM204 82.18h5.48v1.27h-5.48zM231.15 82.18h5.48v1.27h-5.48zM247.44 82.18h5.48v1.27h-5.48zM214.86 83.4h5.48v1.27h-5.48zM209.43 84.61h5.48v1.27h-5.48zM242.01 84.61h5.48v1.27h-5.48zM182.28 85.83h5.48v1.27h-5.48zM236.58 87.04h5.48v1.27h-5.48zM242.01 87.04h5.48v1.27h-5.48zM176.85 88.26h5.48v1.27h-5.48zM204 88.26h5.48v1.27h-5.48zM204 89.47h5.48v1.27h-5.48zM242.01 89.47h5.48v1.27h-5.48zM236.58 93.12h5.48v1.27h-5.48zM231.15 95.55h5.48v1.27h-5.48zM247.44 95.55h5.48v1.27h-5.48zM209.43 96.76h5.48v1.27h-5.48zM236.58 96.76h5.48v1.27h-5.48zM225.72 97.98h5.48v1.27h-5.48zM209.43 101.62h5.48v1.27h-5.48zM247.44 101.62h5.48v1.27h-5.48zM225.72 102.84h5.48v1.27h-5.48zM252.87 102.84h5.48v1.27h-5.48zM220.29 104.05h5.48v1.27h-5.48zM236.58 104.05h5.48v1.27h-5.48zM214.86 105.27h5.48v1.27h-5.48zM231.15 105.27h5.48v1.27h-5.48zM225.72 106.48h5.48v1.27h-5.48zM204 107.7h5.48v1.27h-5.48zM214.86 107.7h5.48v1.27h-5.48zM225.72 110.12h5.48v1.27h-5.48zM231.15 110.12h5.48v1.27h-5.48zM242.01 110.12h5.48v1.27h-5.48zM242.01 112.56h5.48v1.27h-5.48zM252.87 112.56h5.48v1.27h-5.48zM209.43 113.77h5.48v1.27h-5.48zM236.58 113.77h5.48v1.27h-5.48zM214.86 114.98h5.48v1.27h-5.48zM231.15 114.98h5.48v1.27h-5.48zM236.58 114.98h5.48v1.27h-5.48zM214.86 116.2h5.48v1.27h-5.48zM236.58 116.2h5.48v1.27h-5.48zM214.86 117.42h5.48v1.27h-5.48zM225.72 118.63h5.48v1.27h-5.48zM231.15 118.63h5.48v1.27h-5.48zM182.28 119.85h5.48v1.27h-5.48zM247.44 119.85h5.48v1.27h-5.48zM214.86 121.06h5.48v1.27h-5.48zM236.58 121.06h5.48v1.27h-5.48zM236.58 124.71h5.48v1.27h-5.48zM220.29 127.14h5.48v1.27h-5.48zM220.29 128.35h5.48v1.27h-5.48zM204 129.56h5.48v1.27h-5.48zM236.58 129.56h5.48v1.27h-5.48zM182.28 130.78h5.48v1.27h-5.48zM252.87 130.78h5.48v1.27h-5.48zM214.86 132h5.48v1.27h-5.48zM209.43 133.21h5.48v1.27h-5.48zM214.86 133.21h5.48v1.27h-5.48zM220.29 133.21h5.48v1.27h-5.48zM231.15 134.43h5.48v1.27h-5.48zM247.44 134.43h5.48v1.27h-5.48zM225.72 136.86h5.48v1.27h-5.48zM242.01 136.86h5.48v1.27h-5.48zM182.28 138.07h5.48v1.27h-5.48zM236.58 138.07h5.48v1.27h-5.48zM209.43 139.29h5.48v1.27h-5.48z"/>
<path fill="#dedfef" d="M155.13 19h5.48v1.27h-5.48zM165.99 19h5.48v1.27h-5.48zM187.71 20.21h5.48v1.27h-5.48zM209.43 21.43h5.48v1.27h-5.48zM182.28 22.64h5.48v1.27h-5.48zM171.42 26.29h5.48v1.27h-5.48zM182.28 26.29h5.48v1.27h-5.48zM198.57 26.29h5.48v1.27h-5.48zM182.28 27.51h5.48v1.27h-5.48zM165.99 28.72h5.48v1.27h-5.48zM187.71 28.72h5.48v1.27h-5.48zM149.7 29.94h5.48v1.27h-5.48zM165.99 29.94h5.48v1.27h-5.48zM187.71 29.94h5.48v1.27h-5.48zM225.72 31.15h5.48v1.27h-5.48zM198.57 32.37h5.48v1.27h-5.48zM171.42 33.58h5.48v1.27h-5.48zM176.85 33.58h5.48v1.27h-5.48zM187.71 33.58h5.48v1.27h-5.48zM149.7 34.8h5.48v1.27h-5.48zM160.56 34.8h5.48v1.27h-5.48zM187.71 34.8h5.48v1.27h-5.48zM198.57 36.01h5.48v1.27h-5.48zM155.13 37.23h5.48v1.27h-5.48zM149.7 38.44h5.48v1.27h-5.48zM182.28 38.44h5.48v1.27h-5.48zM198.57 38.44h5.48v1.27h-5.48zM187.71 40.87h5.48v1.27h-5.48zM198.57 40.87h5.48v1.27h-5.48zM155.13 43.3h5.48v1.27h-5.48zM171.42 43.3h5.48v1.27h-5.48zM198.57 43.3h5.48v1.27h-5.48zM187.71 45.73h5.48v1.27h-5.48zM198.57 48.16h5.48v1.27h-5.48zM160.56 49.38h5.48v1.27h-5.48zM165.99 49.38h5.48v1.27h-5.48zM171.42 50.59h5.48v1.27h-5.48zM231.15 50.59h5.48v1.27h-5.48zM155.13 51.8h5.48v1.27h-5.48zM187.71 51.8h5.48v1.27h-5.48zM155.13 53.02h5.48v1.27h-5.48zM187.71 54.23h5.48v1.27h-5.48zM171.42 57.88h5.48v1.27h-5.48zM187.71 59.1h5.48v1.27h-5.48zM193.14 60.31h5.48v1.27h-5.48zM176.85 62.74h5.48v1.27h-5.48zM198.57 62.74h5.48v1.27h-5.48zM165.99 63.96h5.48v1.27h-5.48zM171.42 63.96h5.48v1.27h-5.48zM160.56 65.17h5.48v1.27h-5.48zM155.13 67.6h5.48v1.27h-5.48zM160.56 67.6h5.48v1.27h-5.48zM182.28 76.11h5.48v1.27h-5.48zM187.71 76.11h5.48v1.27h-5.48zM187.71 77.32h5.48v1.27h-5.48zM176.85 78.53h5.48v1.27h-5.48zM231.15 78.53h5.48v1.27h-5.48zM220.29 79.75h5.48v1.27h-5.48zM231.15 79.75h5.48v1.27h-5.48zM231.15 80.97h5.48v1.27h-5.48zM236.58 80.97h5.48v1.27h-5.48zM220.29 83.4h5.48v1.27h-5.48zM204 85.83h5.48v1.27h-5.48zM214.86 87.04h5.48v1.27h-5.48zM247.44 88.26h5.48v1.27h-5.48zM204 90.69h5.48v1.27h-5.48zM252.87 90.69h5.48v1.27h-5.48zM214.86 91.9h5.48v1.27h-5.48zM204 93.12h5.48v1.27h-5.48zM242.01 93.12h5.48v1.27h-5.48zM214.86 95.55h5.48v1.27h-5.48zM242.01 95.55h5.48v1.27h-5.48zM214.86 96.76h5.48v1.27h-5.48zM225.72 96.76h5.48v1.27h-5.48zM247.44 99.19h5.48v1.27h-5.48zM214.86 100.41h5.48v1.27h-5.48zM198.57 105.27h5.48v1.27h-5.48zM220.29 105.27h5.48v1.27h-5.48zM252.87 105.27h5.48v1.27h-5.48zM182.28 106.48h5.48v1.27h-5.48zM209.43 106.48h5.48v1.27h-5.48zM247.44 107.7h5.48v1.27h-5.48zM209.43 108.91h5.48v1.27h-5.48zM242.01 108.91h5.48v1.27h-5.48zM247.44 110.12h5.48v1.27h-5.48zM149.7 113.77h5.48v1.27h-5.48zM182.28 113.77h5.48v1.27h-5.48zM214.86 113.77h5.48v1.27h-5.48zM182.28 114.98h5.48v1.27h-5.48zM187.71 118.63h5.48v1.27h-5.48zM209.43 118.63h5.48v1.27h-5.48zM252.87 122.28h5.48v1.27h-5.48zM225.72 123.49h5.48v1.27h-5.48zM247.44 123.49h5.48v1.27h-5.48zM171.42 125.92h5.48v1.27h-5.48zM236.58 125.92h5.48v1.27h-5.48zM214.86 129.56h5.48v1.27h-5.48zM247.44 133.21h5.48v1.27h-5.48zM209.43 134.43h5.48v1.27h-5.48zM242.01 134.43h5.48v1.27h-5.48zM209.43 138.07h5.48v1.27h-5.48zM214.86 138.07h5.48v1.27h-5.48zM252.87 138.07h5.48v1.27h-5.48zM225.72 139.29h5.48v1.27h-5.48zM247.44 139.29h5.48v1.27h-5.48z"/>
<path fill="#e9eaf4" d="M160.56 19h5.48v1.27h-5.48zM198.57 19h5.48v1.27h-5.48zM198.57 20.21h5.48v1.27h-5.48zM182.28 21.43h5.48v1.27h-5.48zM252.87 21.43h5.48v1.27h-5.48zM160.56 23.86h5.48v1.27h-5.48zM182.28 25.07h5.48v1.27h-5.48zM149.7 26.29h5.48v1.27h-5.48zM225.72 27.51h5.48v1.27h-5.48zM198.57 28.72h5.48v1.27h-5.48zM160.56 29.94h5.48v1.27h-5.48zM182.28 29.94h5.48v1.27h-5.48zM193.14 29.94h5.48v1.27h-5.48zM225.72 29.94h5.48v1.27h-5.48zM149.7 31.15h5.48v1.27h-5.48zM171.42 31.15h5.48v1.27h-5.48zM231.15 31.15h5.48v1.27h-5.48zM242.01 31.15h5.48v1.27h-5.48zM252.87 31.15h5.48v1.27h-5.48zM155.13 32.37h5.48v1.27h-5.48zM165.99 33.58h5.48v1.27h-5.48zM155.13 34.8h5.48v1.27h-5.48zM209.43 34.8h5.48v1.27h-5.48zM149.7 36.01h5.48v1.27h-5.48zM171.42 37.23h5.48v1.27h-5.48zM193.14 38.44h5.48v1.27h-5.48zM165.99 40.87h5.48v1.27h-5.48zM182.28 42.09h5.48v1.27h-5.48zM149.7 44.52h5.48v1.27h-5.48zM171.42 45.73h5.48v1.27h-5.48zM187.71 46.95h5.48v1.27h-5.48zM149.7 53.02h5.48v1.27h-5.48zM160.56 53.02h5.48v1.27h-5.48zM165.99 53.02h5.48v1.27h-5.48zM176.85 53.02h5.48v1.27h-5.48zM193.14 53.02h5.48v1.27h-5.48zM149.7 54.23h5.48v1.27h-5.48zM252.87 56.66h5.48v1.27h-5.48zM155.13 57.88h5.48v1.27h-5.48zM182.28 57.88h5.48v1.27h-5.48zM187.71 57.88h5.48v1.27h-5.48zM176.85 60.31h5.48v1.27h-5.48zM198.57 60.31h5.48v1.27h-5.48zM225.72 60.31h5.48v1.27h-5.48zM149.7 61.53h5.48v1.27h-5.48zM187.71 63.96h5.48v1.27h-5.48zM160.56 66.39h5.48v1.27h-5.48zM198.57 66.39h5.48v1.27h-5.48zM198.57 67.6h5.48v1.27h-5.48zM198.57 68.81h5.48v1.27h-5.48zM155.13 73.68h5.48v1.27h-5.48zM165.99 76.11h5.48v1.27h-5.48zM182.28 77.32h5.48v1.27h-5.48zM193.14 82.18h5.48v1.27h-5.48zM214.86 82.18h5.48v1.27h-5.48zM236.58 82.18h5.48v1.27h-5.48zM231.15 83.4h5.48v1.27h-5.48zM225.72 84.61h5.48v1.27h-5.48zM231.15 84.61h5.48v1.27h-5.48zM252.87 84.61h5.48v1.27h-5.48zM209.43 85.83h5.48v1.27h-5.48zM225.72 85.83h5.48v1.27h-5.48zM220.29 87.04h5.48v1.27h-5.48zM252.87 87.04h5.48v1.27h-5.48zM182.28 88.26h5.48v1.27h-5.48zM220.29 88.26h5.48v1.27h-5.48zM236.58 89.47h5.48v1.27h-5.48zM214.86 90.69h5.48v1.27h-5.48zM225.72 90.69h5.48v1.27h-5.48zM242.01 90.69h5.48v1.27h-5.48zM220.29 91.9h5.48v1.27h-5.48zM231.15 96.76h5.48v1.27h-5.48zM220.29 99.19h5.48v1.27h-5.48zM236.58 100.41h5.48v1.27h-5.48zM198.57 101.62h5.48v1.27h-5.48zM209.43 102.84h5.48v1.27h-5.48zM236.58 102.84h5.48v1.27h-5.48zM225.72 104.05h5.48v1.27h-5.48zM242.01 104.05h5.48v1.27h-5.48zM182.28 105.27h5.48v1.27h-5.48zM220.29 106.48h5.48v1.27h-5.48zM236.58 106.48h5.48v1.27h-5.48zM198.57 107.7h5.48v1.27h-5.48zM252.87 107.7h5.48v1.27h-5.48zM214.86 108.91h5.48v1.27h-5.48zM220.29 108.91h5.48v1.27h-5.48zM225.72 108.91h5.48v1.27h-5.48zM187.71 110.12h5.48v1.27h-5.48zM220.29 111.34h5.48v1.27h-5.48zM236.58 111.34h5.48v1.27h-5.48zM209.43 112.56h5.48v1.27h-5.48zM176.85 113.77h5.48v1.27h-5.48zM209.43 114.98h5.48v1.27h-5.48zM225.72 114.98h5.48v1.27h-5.48zM176.85 116.2h5.48v1.27h-5.48zM252.87 116.2h5.48v1.27h-5.48zM171.42 117.42h5.48v1.27h-5.48zM252.87 118.63h5.48v1.27h-5.48zM225.72 119.85h5.48v1.27h-5.48zM236.58 119.85h5.48v1.27h-5.48zM182.28 123.49h5.48v1.27h-5.48zM209.43 123.49h5.48v1.27h-5.48zM209.43 124.71h5.48v1.27h-5.48zM214.86 125.92h5.48v1.27h-5.48zM252.87 127.14h5.48v1.27h-5.48zM182.28 128.35h5.48v1.27h-5.48zM252.87 128.35h5.48v1.27h-5.48zM247.44 129.56h5.48v1.27h-5.48zM225.72 132h5.48v1.27h-5.48zM149.7 134.43h5.48v1.27h-5.48zM225.72 134.43h5.48v1.27h-5.48zM220.29 136.86h5.48v1.27h-5.48zM220.29 139.29h5.48v1.27h-5.48zM252.87 139.29h5.48v1.27h-5.48z"/>
<path fill="#f4f4f9" d="M242.01 19h5.48v1.27h-5.48zM198.57 21.43h5.48v1.27h-5.48zM193.14 28.72h5.48v1.27h-5.48zM214.86 28.72h5.48v1.27h-5.48zM242.01 28.72h5.48v1.27h-5.48zM176.85 32.37h5.48v1.27h-5.48zM187.71 32.37h5.48v1.27h-5.48zM231.15 33.58h5.48v1.27h-5.48zM165.99 34.8h5.48v1.27h-5.48zM198.57 34.8h5.48v1.27h-5.48zM247.44 34.8h5.48v1.27h-5.48zM165.99 37.23h5.48v1.27h-5.48zM193.14 37.23h5.48v1.27h-5.48zM198.57 37.23h5.48v1.27h-5.48zM187.71 38.44h5.48v1.27h-5.48zM220.29 38.44h5.48v1.27h-5.48zM187.71 42.09h5.48v1.27h-5.48zM165.99 43.3h5.48v1.27h-5.48zM187.71 43.3h5.48v1.27h-5.48zM171.42 44.52h5.48v1.27h-5.48zM220.29 44.52h5.48v1.27h-5.48zM193.14 45.73h5.48v1.27h-5.48zM225.72 45.73h5.48v1.27h-5.48zM171.42 48.16h5.48v1.27h-5.48zM187.71 48.16h5.48v1.27h-5.48zM187.71 49.38h5.48v1.27h-5.48zM182.28 50.59h5.48v1.27h-5.48zM225.72 50.59h5.48v1.27h-5.48zM187.71 53.02h5.48v1.27h-5.48zM231.15 53.02h5.48v1.27h-5.48zM165.99 55.45h5.48v1.27h-5.48zM187.71 56.66h5.48v1.27h-5.48zM214.86 56.66h5.48v1.27h-5.48zM225.72 56.66h5.48v1.27h-5.48zM165.99 59.1h5.48v1.27h-5.48zM165.99 60.31h5.48v1.27h-5.48zM182.28 62.74h5.48v1.27h-5.48zM187.71 62.74h5.48v1.27h-5.48zM160.56 63.96h5.48v1.27h-5.48zM176.85 63.96h5.48v1.27h-5.48zM225.72 63.96h5.48v1.27h-5.48zM176.85 65.17h5.48v1.27h-5.48zM193.14 65.17h5.48v1.27h-5.48zM198.57 65.17h5.48v1.27h-5.48zM187.71 66.39h5.48v1.27h-5.48zM182.28 68.81h5.48v1.27h-5.48zM187.71 70.03h5.48v1.27h-5.48zM204 72.46h5.48v1.27h-5.48zM182.28 73.68h5.48v1.27h-5.48zM204 73.68h5.48v1.27h-5.48zM171.42 76.11h5.48v1.27h-5.48zM209.43 79.75h5.48v1.27h-5.48zM209.43 80.97h5.48v1.27h-5.48zM252.87 80.97h5.48v1.27h-5.48zM155.13 82.18h5.48v1.27h-5.48zM171.42 82.18h5.48v1.27h-5.48zM176.85 82.18h5.48v1.27h-5.48zM187.71 82.18h5.48v1.27h-5.48zM242.01 82.18h5.48v1.27h-5.48zM198.57 83.4h5.48v1.27h-5.48zM209.43 83.4h5.48v1.27h-5.48zM225.72 83.4h5.48v1.27h-5.48zM182.28 87.04h5.48v1.27h-5.48zM225.72 88.26h5.48v1.27h-5.48zM220.29 89.47h5.48v1.27h-5.48zM209.43 90.69h5.48v1.27h-5.48zM236.58 90.69h5.48v1.27h-5.48zM176.85 91.9h5.48v1.27h-5.48zM252.87 91.9h5.48v1.27h-5.48zM182.28 93.12h5.48v1.27h-5.48zM209.43 94.33h5.48v1.27h-5.48zM252.87 94.33h5.48v1.27h-5.48zM252.87 95.55h5.48v1.27h-5.48zM198.57 96.76h5.48v1.27h-5.48zM204 96.76h5.48v1.27h-5.48zM220.29 96.76h5.48v1.27h-5.48zM252.87 99.19h5.48v1.27h-5.48zM149.7 101.62h5.48v1.27h-5.48zM171.42 101.62h5.48v1.27h-5.48zM214.86 101.62h5.48v1.27h-5.48zM220.29 101.62h5.48v1.27h-5.48zM236.58 101.62h5.48v1.27h-5.48zM176.85 102.84h5.48v1.27h-5.48zM176.85 104.05h5.48v1.27h-5.48zM252.87 104.05h5.48v1.27h-5.48zM236.58 105.27h5.48v1.27h-5.48zM149.7 106.48h5.48v1.27h-5.48zM193.14 106.48h5.48v1.27h-5.48zM247.44 106.48h5.48v1.27h-5.48zM182.28 107.7h5.48v1.27h-5.48zM209.43 107.7h5.48v1.27h-5.48zM225.72 107.7h5.48v1.27h-5.48zM252.87 108.91h5.48v1.27h-5.48zM160.56 110.12h5.48v1.27h-5.48zM214.86 110.12h5.48v1.27h-5.48zM236.58 110.12h5.48v1.27h-5.48zM214.86 111.34h5.48v1.27h-5.48zM225.72 112.56h5.48v1.27h-5.48zM247.44 112.56h5.48v1.27h-5.48zM252.87 114.98h5.48v1.27h-5.48zM182.28 116.2h5.48v1.27h-5.48zM182.28 117.42h5.48v1.27h-5.48zM209.43 117.42h5.48v1.27h-5.48zM247.44 117.42h5.48v1.27h-5.48zM182.28 118.63h5.48v1.27h-5.48zM176.85 121.06h5.48v1.27h-5.48zM209.43 121.06h5.48v1.27h-5.48zM252.87 124.71h5.48v1.27h-5.48zM242.01 125.92h5.48v1.27h-5.48zM155.13 127.14h5.48v1.27h-5.48zM171.42 127.14h5.48v1.27h-5.48zM182.28 127.14h5.48v1.27h-5.48zM214.86 127.14h5.48v1.27h-5.48zM182.28 129.56h5.48v1.27h-5.48zM176.85 130.78h5.48v1.27h-5.48zM214.86 130.78h5.48v1.27h-5.48zM149.7 133.21h5.48v1.27h-5.48zM236.58 133.21h5.48v1.27h-5.48zM182.28 134.43h5.48v1.27h-5.48zM214.86 134.43h5.48v1.27h-5.48zM198.57 136.86h5.48v1.27h-5.48zM236.58 136.86h5.48v1.27h-5.48zM220.29 138.07h5.48v1.27h-5.48zM182.28 139.29h5.48v1.27h-5.48zM198.57 139.29h5.48v1.27h-5.48z"/>
<path fill="#ffffff" d="M209.43 26.29h5.48v1.27h-5.48zM225.72 26.29h5.48v1.27h-5.48zM247.44 26.29h5.48v1.27h-5.48zM236.58 27.51h5.48v1.27h-5.48zM220.29 28.72h5.48v1.27h-5.48zM198.57 29.94h5.48v1.27h-5.48zM204 29.94h5.48v1.27h-5.48zM247.44 29.94h5.48v1.27h-5.48zM176.85 31.15h5.48v1.27h-5.48zM182.28 32.37h5.48v1.27h-5.48zM209.43 33.58h5.48v1.27h-5.48zM242.01 33.58h5.48v1.27h-5.48zM252.87 33.58h5.48v1.27h-5.48zM225.72 34.8h5.48v1.27h-5.48zM176.85 37.23h5.48v1.27h-5.48zM220.29 37.23h5.48v1.27h-5.48zM231.15 37.23h5.48v1.27h-5.48zM247.44 37.23h5.48v1.27h-5.48zM182.28 46.95h5.48v1.27h-5.48zM182.28 49.38h5.48v1.27h-5.48zM198.57 53.02h5.48v1.27h-5.48zM220.29 53.02h5.48v1.27h-5.48zM204 54.23h5.48v1.27h-5.48zM198.57 55.45h5.48v1.27h-5.48zM198.57 57.88h5.48v1.27h-5.48zM225.72 57.88h5.48v1.27h-5.48zM231.15 60.31h5.48v1.27h-5.48zM187.71 61.53h5.48v1.27h-5.48zM198.57 61.53h5.48v1.27h-5.48zM247.44 61.53h5.48v1.27h-5.48zM204 62.74h5.48v1.27h-5.48zM231.15 62.74h5.48v1.27h-5.48zM247.44 62.74h5.48v1.27h-5.48zM198.57 63.96h5.48v1.27h-5.48zM242.01 65.17h5.48v1.27h-5.48zM252.87 66.39h5.48v1.27h-5.48zM198.57 74.89h5.48v1.27h-5.48zM214.86 77.32h5.48v1.27h-5.48zM187.71 79.75h5.48v1.27h-5.48zM198.57 80.97h5.48v1.27h-5.48zM182.28 82.18h5.48v1.27h-5.48zM160.56 83.4h5.48v1.27h-5.48zM165.99 83.4h5.48v1.27h-5.48zM171.42 83.4h5.48v1.27h-5.48zM182.28 84.61h5.48v1.27h-5.48zM214.86 85.83h5.48v1.27h-5.48zM236.58 85.83h5.48v1.27h-5.48zM176.85 87.04h5.48v1.27h-5.48zM236.58 88.26h5.48v1.27h-5.48zM209.43 89.47h5.48v1.27h-5.48zM171.42 90.69h5.48v1.27h-5.48zM247.44 91.9h5.48v1.27h-5.48zM209.43 93.12h5.48v1.27h-5.48zM214.86 93.12h5.48v1.27h-5.48zM252.87 93.12h5.48v1.27h-5.48zM182.28 96.76h5.48v1.27h-5.48zM182.28 100.41h5.48v1.27h-5.48zM182.28 104.05h5.48v1.27h-5.48zM225.72 105.27h5.48v1.27h-5.48zM160.56 106.48h5.48v1.27h-5.48zM198.57 106.48h5.48v1.27h-5.48zM214.86 106.48h5.48v1.27h-5.48zM252.87 106.48h5.48v1.27h-5.48zM165.99 107.7h5.48v1.27h-5.48zM176.85 107.7h5.48v1.27h-5.48zM149.7 110.12h5.48v1.27h-5.48zM165.99 110.12h5.48v1.27h-5.48zM176.85 110.12h5.48v1.27h-5.48zM198.57 110.12h5.48v1.27h-5.48zM252.87 110.12h5.48v1.27h-5.48zM149.7 111.34h5.48v1.27h-5.48zM247.44 111.34h5.48v1.27h-5.48zM176.85 112.56h5.48v1.27h-5.48zM198.57 113.77h5.48v1.27h-5.48zM149.7 114.98h5.48v1.27h-5.48zM160.56 114.98h5.48v1.27h-5.48zM220.29 117.42h5.48v1.27h-5.48zM214.86 118.63h5.48v1.27h-5.48zM236.58 118.63h5.48v1.27h-5.48zM252.87 119.85h5.48v1.27h-5.48zM209.43 122.28h5.48v1.27h-5.48zM209.43 125.92h5.48v1.27h-5.48zM176.85 127.14h5.48v1.27h-5.48zM176.85 128.35h5.48v1.27h-5.48zM193.14 128.35h5.48v1.27h-5.48zM209.43 129.56h5.48v1.27h-5.48zM160.56 130.78h5.48v1.27h-5.48zM209.43 130.78h5.48v1.27h-5.48zM182.28 133.21h5.48v1.27h-5.48zM252.87 134.43h5.48v1.27h-5.48zM149.7 136.86h5.48v1.27h-5.48zM193.14 136.86h5.48v1.27h-5.48zM187.71 138.07h5.48v1.27h-5.48zM187.71 139.29h5.48v1.27h-5.48z"/>
<path fill="#fcf3f4" d="M252.87 19h5.48v1.27h-5.48zM187.71 21.43h5.48v1.27h-5.48zM165.99 25.07h5.48v1.27h-5.48zM187.71 26.29h5.48v1.27h-5.48zM204 28.72h5.48v1.27h-5.48zM209.43 29.94h5.48v1.27h-5.48zM187.71 31.15h5.48v1.27h-5.48zM193.14 31.15h5.48v1.27h-5.48zM198.57 31.15h5.48v1.27h-5.48zM214.86 31.15h5.48v1.27h-5.48zM214.86 32.37h5.48v1.27h-5.48zM155.13 33.58h5.48v1.27h-5.48zM182.28 33.58h5.48v1.27h-5.48zM236.58 33.58h5.48v1.27h-5.48zM182.28 37.23h5.48v1.27h-5.48zM225.72 38.44h5.48v1.27h-5.48zM236.58 44.52h5.48v1.27h-5.48zM182.28 45.73h5.48v1.27h-5.48zM198.57 46.95h5.48v1.27h-5.48zM160.56 48.16h5.48v1.27h-5.48zM209.43 48.16h5.48v1.27h-5.48zM220.29 48.16h5.48v1.27h-5.48zM252.87 48.16h5.48v1.27h-5.48zM220.29 49.38h5.48v1.27h-5.48zM242.01 50.59h5.48v1.27h-5.48zM214.86 53.02h5.48v1.27h-5.48zM225.72 53.02h5.48v1.27h-5.48zM252.87 53.02h5.48v1.27h-5.48zM204 56.66h5.48v1.27h-5.48zM182.28 60.31h5.48v1.27h-5.48zM247.44 60.31h5.48v1.27h-5.48zM252.87 60.31h5.48v1.27h-5.48zM242.01 62.74h5.48v1.27h-5.48zM182.28 63.96h5.48v1.27h-5.48zM214.86 63.96h5.48v1.27h-5.48zM214.86 70.03h5.48v1.27h-5.48zM231.15 70.03h5.48v1.27h-5.48zM209.43 71.25h5.48v1.27h-5.48zM220.29 73.68h5.48v1.27h-5.48zM176.85 76.11h5.48v1.27h-5.48zM204 76.11h5.48v1.27h-5.48zM242.01 76.11h5.48v1.27h-5.48zM247.44 76.11h5.48v1.27h-5.48zM225.72 77.32h5.48v1.27h-5.48zM242.01 78.53h5.48v1.27h-5.48zM176.85 79.75h5.48v1.27h-5.48zM252.87 79.75h5.48v1.27h-5.48zM176.85 80.97h5.48v1.27h-5.48zM225.72 82.18h5.48v1.27h-5.48zM182.28 83.4h5.48v1.27h-5.48zM176.85 84.61h5.48v1.27h-5.48zM252.87 85.83h5.48v1.27h-5.48zM160.56 88.26h5.48v1.27h-5.48zM171.42 88.26h5.48v1.27h-5.48zM176.85 89.47h5.48v1.27h-5.48zM247.44 89.47h5.48v1.27h-5.48zM252.87 89.47h5.48v1.27h-5.48zM182.28 91.9h5.48v1.27h-5.48zM149.7 93.12h5.48v1.27h-5.48zM182.28 94.33h5.48v1.27h-5.48zM187.71 95.55h5.48v1.27h-5.48zM193.14 95.55h5.48v1.27h-5.48zM225.72 95.55h5.48v1.27h-5.48zM187.71 96.76h5.48v1.27h-5.48zM252.87 96.76h5.48v1.27h-5.48zM182.28 102.84h5.48v1.27h-5.48zM198.57 102.84h5.48v1.27h-5.48zM155.13 104.05h5.48v1.27h-5.48zM198.57 104.05h5.48v1.27h-5.48zM171.42 105.27h5.48v1.27h-5.48zM171.42 106.48h5.48v1.27h-5.48zM187.71 106.48h5.48v1.27h-5.48zM160.56 108.91h5.48v1.27h-5.48zM171.42 108.91h5.48v1.27h-5.48zM176.85 108.91h5.48v1.27h-5.48zM198.57 108.91h5.48v1.27h-5.48zM155.13 111.34h5.48v1.27h-5.48zM182.28 111.34h5.48v1.27h-5.48zM198.57 111.34h5.48v1.27h-5.48zM209.43 111.34h5.48v1.27h-5.48zM252.87 111.34h5.48v1.27h-5.48zM171.42 112.56h5.48v1.27h-5.48zM182.28 112.56h5.48v1.27h-5.48zM247.44 113.77h5.48v1.27h-5.48zM176.85 114.98h5.48v1.27h-5.48zM198.57 116.2h5.48v1.27h-5.48zM198.57 117.42h5.48v1.27h-5.48zM252.87 117.42h5.48v1.27h-5.48zM165.99 118.63h5.48v1.27h-5.48zM193.14 118.63h5.48v1.27h-5.48zM149.7 119.85h5.48v1.27h-5.48zM171.42 119.85h5.48v1.27h-5.48zM214.86 119.85h5.48v1.27h-5.48zM149.7 124.71h5.48v1.27h-5.48zM165.99 124.71h5.48v1.27h-5.48zM176.85 125.92h5.48v1.27h-5.48zM187.71 125.92h5.48v1.27h-5.48zM193.14 125.92h5.48v1.27h-5.48zM165.99 127.14h5.48v1.27h-5.48zM187.71 127.14h5.48v1.27h-5.48zM198.57 127.14h5.48v1.27h-5.48zM155.13 128.35h5.48v1.27h-5.48zM160.56 128.35h5.48v1.27h-5.48zM171.42 128.35h5.48v1.27h-5.48zM252.87 129.56h5.48v1.27h-5.48zM198.57 132h5.48v1.27h-5.48zM209.43 132h5.48v1.27h-5.48zM236.58 132h5.48v1.27h-5.48zM171.42 133.21h5.48v1.27h-5.48zM176.85 133.21h5.48v1.27h-5.48zM155.13 134.43h5.48v1.27h-5.48zM198.57 134.43h5.48v1.27h-5.48zM182.28 135.64h5.48v1.27h-5.48zM209.43 135.64h5.48v1.27h-5.48zM176.85 136.86h5.48v1.27h-5.48zM182.28 136.86h5.48v1.27h-5.48zM176.85 139.29h5.48v1.27h-5.48z"/>
<path fill="#f9e8e9" d="M214.86 19h5.48v1.27h-5.48zM220.29 21.43h5.48v1.27h-5.48zM242.01 21.43h5.48v1.27h-5.48zM176.85 22.64h5.48v1.27h-5.48zM204 27.51h5.48v1.27h-5.48zM209.43 28.72h5.48v1.27h-5.48zM225.72 28.72h5.48v1.27h-5.48zM231.15 29.94h5.48v1.27h-5.48zM182.28 31.15h5.48v1.27h-5.48zM209.43 31.15h5.48v1.27h-5.48zM220.29 32.37h5.48v1.27h-5.48zM252.87 32.37h5.48v1.27h-5.48zM214.86 33.58h5.48v1.27h-5.48zM220.29 33.58h5.48v1.27h-5.48zM214.86 34.8h5.48v1.27h-5.48zM220.29 34.8h5.48v1.27h-5.48zM187.71 36.01h5.48v1.27h-5.48zM247.44 38.44h5.48v1.27h-5.48zM225.72 40.87h5.48v1.27h-5.48zM209.43 43.3h5.48v1.27h-5.48zM242.01 43.3h5.48v1.27h-5.48zM247.44 43.3h5.48v1.27h-5.48zM214.86 44.52h5.48v1.27h-5.48zM204 45.73h5.48v1.27h-5.48zM242.01 45.73h5.48v1.27h-5.48zM247.44 48.16h5.48v1.27h-5.48zM214.86 49.38h5.48v1.27h-5.48zM231.15 49.38h5.48v1.27h-5.48zM252.87 49.38h5.48v1.27h-5.48zM165.99 50.59h5.48v1.27h-5.48zM220.29 50.59h5.48v1.27h-5.48zM242.01 53.02h5.48v1.27h-5.48zM231.15 54.23h5.48v1.27h-5.48zM231.15 56.66h5.48v1.27h-5.48zM252.87 57.88h5.48v1.27h-5.48zM214.86 59.1h5.48v1.27h-5.48zM225.72 59.1h5.48v1.27h-5.48zM225.72 62.74h5.48v1.27h-5.48zM231.15 63.96h5.48v1.27h-5.48zM231.15 65.17h5.48v1.27h-5.48zM214.86 66.39h5.48v1.27h-5.48zM225.72 66.39h5.48v1.27h-5.48zM247.44 67.6h5.48v1.27h-5.48zM225.72 68.81h5.48v1.27h-5.48zM231.15 68.81h5.48v1.27h-5.48zM225.72 70.03h5.48v1.27h-5.48zM236.58 71.25h5.48v1.27h-5.48zM225.72 72.46h5.48v1.27h-5.48zM214.86 74.89h5.48v1.27h-5.48zM247.44 74.89h5.48v1.27h-5.48zM236.58 76.11h5.48v1.27h-5.48zM252.87 76.11h5.48v1.27h-5.48zM204 77.32h5.48v1.27h-5.48zM204 78.53h5.48v1.27h-5.48zM149.7 80.97h5.48v1.27h-5.48zM252.87 82.18h5.48v1.27h-5.48zM149.7 83.4h5.48v1.27h-5.48zM155.13 83.4h5.48v1.27h-5.48zM187.71 83.4h5.48v1.27h-5.48zM193.14 85.83h5.48v1.27h-5.48zM198.57 85.83h5.48v1.27h-5.48zM149.7 88.26h5.48v1.27h-5.48zM155.13 88.26h5.48v1.27h-5.48zM165.99 88.26h5.48v1.27h-5.48zM198.57 88.26h5.48v1.27h-5.48zM209.43 88.26h5.48v1.27h-5.48zM252.87 88.26h5.48v1.27h-5.48zM187.71 89.47h5.48v1.27h-5.48zM214.86 89.47h5.48v1.27h-5.48zM231.15 89.47h5.48v1.27h-5.48zM171.42 94.33h5.48v1.27h-5.48zM160.56 95.55h5.48v1.27h-5.48zM171.42 95.55h5.48v1.27h-5.48zM149.7 96.76h5.48v1.27h-5.48zM182.28 97.98h5.48v1.27h-5.48zM187.71 97.98h5.48v1.27h-5.48zM160.56 99.19h5.48v1.27h-5.48zM171.42 99.19h5.48v1.27h-5.48zM214.86 99.19h5.48v1.27h-5.48zM176.85 101.62h5.48v1.27h-5.48zM182.28 101.62h5.48v1.27h-5.48zM209.43 104.05h5.48v1.27h-5.48zM155.13 105.27h5.48v1.27h-5.48zM160.56 105.27h5.48v1.27h-5.48zM155.13 107.7h5.48v1.27h-5.48zM193.14 108.91h5.48v1.27h-5.48zM247.44 108.91h5.48v1.27h-5.48zM171.42 110.12h5.48v1.27h-5.48zM182.28 110.12h5.48v1.27h-5.48zM176.85 111.34h5.48v1.27h-5.48zM187.71 114.98h5.48v1.27h-5.48zM155.13 116.2h5.48v1.27h-5.48zM176.85 117.42h5.48v1.27h-5.48zM155.13 118.63h5.48v1.27h-5.48zM176.85 118.63h5.48v1.27h-5.48zM160.56 119.85h5.48v1.27h-5.48zM198.57 119.85h5.48v1.27h-5.48zM182.28 121.06h5.48v1.27h-5.48zM198.57 121.06h5.48v1.27h-5.48zM198.57 122.28h5.48v1.27h-5.48zM155.13 123.49h5.48v1.27h-5.48zM160.56 123.49h5.48v1.27h-5.48zM187.71 123.49h5.48v1.27h-5.48zM176.85 124.71h5.48v1.27h-5.48zM247.44 124.71h5.48v1.27h-5.48zM149.7 127.14h5.48v1.27h-5.48zM160.56 127.14h5.48v1.27h-5.48zM149.7 128.35h5.48v1.27h-5.48zM176.85 135.64h5.48v1.27h-5.48zM187.71 136.86h5.48v1.27h-5.48zM247.44 136.86h5.48v1.27h-5.48zM252.87 136.86h5.48v1.27h-5.48zM160.56 138.07h5.48v1.27h-5.48zM176.85 138.07h5.48v1.27h-5.48zM193.14 138.07h5.48v1.27h-5.48z"/>
<path fill="#f6ddde" d="M225.72 19h5.48v1.27h-5.48zM204 21.43h5.48v1.27h-5.48zM214.86 21.43h5.48v1.27h-5.48zM231.15 21.43h5.48v1.27h-5.48zM225.72 22.64h5.48v1.27h-5.48zM231.15 22.64h5.48v1.27h-5.48zM247.44 23.86h5.48v1.27h-5.48zM209.43 25.07h5.48v1.27h-5.48zM204 26.29h5.48v1.27h-5.48zM242.01 26.29h5.48v1.27h-5.48zM214.86 27.51h5.48v1.27h-5.48zM252.87 28.72h5.48v1.27h-5.48zM214.86 29.94h5.48v1.27h-5.48zM220.29 29.94h5.48v1.27h-5.48zM242.01 29.94h5.48v1.27h-5.48zM165.99 31.15h5.48v1.27h-5.48zM204 31.15h5.48v1.27h-5.48zM247.44 31.15h5.48v1.27h-5.48zM204 32.37h5.48v1.27h-5.48zM231.15 32.37h5.48v1.27h-5.48zM236.58 32.37h5.48v1.27h-5.48zM247.44 33.58h5.48v1.27h-5.48zM231.15 34.8h5.48v1.27h-5.48zM231.15 36.01h5.48v1.27h-5.48zM209.43 37.23h5.48v1.27h-5.48zM204 38.44h5.48v1.27h-5.48zM242.01 38.44h5.48v1.27h-5.48zM247.44 39.66h5.48v1.27h-5.48zM225.72 42.09h5.48v1.27h-5.48zM231.15 42.09h5.48v1.27h-5.48zM182.28 43.3h5.48v1.27h-5.48zM204 43.3h5.48v1.27h-5.48zM236.58 43.3h5.48v1.27h-5.48zM247.44 44.52h5.48v1.27h-5.48zM165.99 45.73h5.48v1.27h-5.48zM231.15 45.73h5.48v1.27h-5.48zM209.43 46.95h5.48v1.27h-5.48zM252.87 46.95h5.48v1.27h-5.48zM231.15 48.16h5.48v1.27h-5.48zM242.01 48.16h5.48v1.27h-5.48zM209.43 54.23h5.48v1.27h-5.48zM225.72 55.45h5.48v1.27h-5.48zM214.86 57.88h5.48v1.27h-5.48zM204 59.1h5.48v1.27h-5.48zM204 60.31h5.48v1.27h-5.48zM209.43 60.31h5.48v1.27h-5.48zM214.86 60.31h5.48v1.27h-5.48zM220.29 60.31h5.48v1.27h-5.48zM242.01 60.31h5.48v1.27h-5.48zM204 61.53h5.48v1.27h-5.48zM209.43 61.53h5.48v1.27h-5.48zM225.72 61.53h5.48v1.27h-5.48zM209.43 63.96h5.48v1.27h-5.48zM220.29 63.96h5.48v1.27h-5.48zM242.01 63.96h5.48v1.27h-5.48zM252.87 63.96h5.48v1.27h-5.48zM220.29 65.17h5.48v1.27h-5.48zM231.15 66.39h5.48v1.27h-5.48zM204 67.6h5.48v1.27h-5.48zM252.87 67.6h5.48v1.27h-5.48zM209.43 70.03h5.48v1.27h-5.48zM204 71.25h5.48v1.27h-5.48zM252.87 72.46h5.48v1.27h-5.48zM187.71 74.89h5.48v1.27h-5.48zM225.72 74.89h5.48v1.27h-5.48zM220.29 76.11h5.48v1.27h-5.48zM231.15 77.32h5.48v1.27h-5.48zM247.44 78.53h5.48v1.27h-5.48zM182.28 79.75h5.48v1.27h-5.48zM198.57 79.75h5.48v1.27h-5.48zM247.44 79.75h5.48v1.27h-5.48zM165.99 80.97h5.48v1.27h-5.48zM187.71 80.97h5.48v1.27h-5.48zM165.99 82.18h5.48v1.27h-5.48zM209.43 82.18h5.48v1.27h-5.48zM165.99 84.61h5.48v1.27h-5.48zM171.42 84.61h5.48v1.27h-5.48zM171.42 85.83h5.48v1.27h-5.48zM187.71 87.04h5.48v1.27h-5.48zM171.42 89.47h5.48v1.27h-5.48zM182.28 89.47h5.48v1.27h-5.48zM193.14 89.47h5.48v1.27h-5.48zM155.13 90.69h5.48v1.27h-5.48zM182.28 90.69h5.48v1.27h-5.48zM187.71 90.69h5.48v1.27h-5.48zM193.14 90.69h5.48v1.27h-5.48zM160.56 91.9h5.48v1.27h-5.48zM231.15 91.9h5.48v1.27h-5.48zM236.58 91.9h5.48v1.27h-5.48zM165.99 93.12h5.48v1.27h-5.48zM176.85 95.55h5.48v1.27h-5.48zM198.57 95.55h5.48v1.27h-5.48zM209.43 95.55h5.48v1.27h-5.48zM165.99 96.76h5.48v1.27h-5.48zM171.42 96.76h5.48v1.27h-5.48zM176.85 96.76h5.48v1.27h-5.48zM149.7 97.98h5.48v1.27h-5.48zM149.7 99.19h5.48v1.27h-5.48zM176.85 99.19h5.48v1.27h-5.48zM198.57 99.19h5.48v1.27h-5.48zM209.43 99.19h5.48v1.27h-5.48zM236.58 99.19h5.48v1.27h-5.48zM176.85 100.41h5.48v1.27h-5.48zM187.71 102.84h5.48v1.27h-5.48zM165.99 104.05h5.48v1.27h-5.48zM187.71 104.05h5.48v1.27h-5.48zM155.13 106.48h5.48v1.27h-5.48zM187.71 107.7h5.48v1.27h-5.48zM155.13 110.12h5.48v1.27h-5.48zM160.56 111.34h5.48v1.27h-5.48zM165.99 111.34h5.48v1.27h-5.48zM187.71 111.34h5.48v1.27h-5.48zM225.72 111.34h5.48v1.27h-5.48zM155.13 112.56h5.48v1.27h-5.48zM187.71 113.77h5.48v1.27h-5.48zM171.42 114.98h5.48v1.27h-5.48zM198.57 114.98h5.48v1.27h-5.48zM209.43 116.2h5.48v1.27h-5.48zM149.7 117.42h5.48v1.27h-5.48zM155.13 117.42h5.48v1.27h-5.48zM165.99 117.42h5.48v1.27h-5.48zM193.14 117.42h5.48v1.27h-5.48zM176.85 119.85h5.48v1.27h-5.48zM193.14 119.85h5.48v1.27h-5.48zM165.99 123.49h5.48v1.27h-5.48zM193.14 123.49h5.48v1.27h-5.48zM155.13 124.71h5.48v1.27h-5.48zM171.42 124.71h5.48v1.27h-5.48zM198.57 125.92h5.48v1.27h-5.48zM165.99 128.35h5.48v1.27h-5.48zM198.57 128.35h5.48v1.27h-5.48zM155.13 129.56h5.48v1.27h-5.48zM160.56 129.56h5.48v1.27h-5.48zM187.71 130.78h5.48v1.27h-5.48zM193.14 130.78h5.48v1.27h-5.48zM187.71 132h5.48v1.27h-5.48zM187.71 133.21h5.48v1.27h-5.48zM193.14 133.21h5.48v1.27h-5.48zM160.56 134.43h5.48v1.27h-5.48zM171.42 134.43h5.48v1.27h-5.48zM187.71 135.64h5.48v1.27h-5.48zM198.57 135.64h5.48v1.27h-5.48zM165.99 136.86h5.48v1.27h-5.48zM209.43 136.86h5.48v1.27h-5.48zM149.7 138.07h5.48v1.27h-5.48zM160.56 139.29h5.48v1.27h-5.48zM165.99 139.29h5.48v1.27h-5.48z"/>
<path fill="#f4d2d4" d="M209.43 19h5.48v1.27h-5.48zM204 20.21h5.48v1.27h-5.48zM231.15 20.21h5.48v1.27h-5.48zM236.58 20.21h5.48v1.27h-5.48zM225.72 21.43h5.48v1.27h-5.48zM236.58 21.43h5.48v1.27h-5.48zM247.44 21.43h5.48v1.27h-5.48zM247.44 22.64h5.48v1.27h-5.48zM252.87 23.86h5.48v1.27h-5.48zM214.86 26.29h5.48v1.27h-5.48zM236.58 26.29h5.48v1.27h-5.48zM242.01 27.51h5.48v1.27h-5.48zM225.72 32.37h5.48v1.27h-5.48zM225.72 33.58h5.48v1.27h-5.48zM204 34.8h5.48v1.27h-5.48zM242.01 34.8h5.48v1.27h-5.48zM252.87 34.8h5.48v1.27h-5.48zM236.58 36.01h5.48v1.27h-5.48zM247.44 36.01h5.48v1.27h-5.48zM214.86 37.23h5.48v1.27h-5.48zM236.58 37.23h5.48v1.27h-5.48zM242.01 37.23h5.48v1.27h-5.48zM252.87 37.23h5.48v1.27h-5.48zM214.86 38.44h5.48v1.27h-5.48zM231.15 38.44h5.48v1.27h-5.48zM209.43 39.66h5.48v1.27h-5.48zM252.87 40.87h5.48v1.27h-5.48zM204 42.09h5.48v1.27h-5.48zM242.01 42.09h5.48v1.27h-5.48zM214.86 43.3h5.48v1.27h-5.48zM247.44 45.73h5.48v1.27h-5.48zM247.44 46.95h5.48v1.27h-5.48zM204 48.16h5.48v1.27h-5.48zM242.01 49.38h5.48v1.27h-5.48zM247.44 49.38h5.48v1.27h-5.48zM236.58 50.59h5.48v1.27h-5.48zM220.29 51.8h5.48v1.27h-5.48zM242.01 51.8h5.48v1.27h-5.48zM247.44 55.45h5.48v1.27h-5.48zM209.43 56.66h5.48v1.27h-5.48zM242.01 56.66h5.48v1.27h-5.48zM204 57.88h5.48v1.27h-5.48zM209.43 59.1h5.48v1.27h-5.48zM231.15 59.1h5.48v1.27h-5.48zM242.01 59.1h5.48v1.27h-5.48zM236.58 60.31h5.48v1.27h-5.48zM214.86 61.53h5.48v1.27h-5.48zM220.29 61.53h5.48v1.27h-5.48zM247.44 63.96h5.48v1.27h-5.48zM204 65.17h5.48v1.27h-5.48zM236.58 65.17h5.48v1.27h-5.48zM209.43 66.39h5.48v1.27h-5.48zM225.72 67.6h5.48v1.27h-5.48zM204 68.81h5.48v1.27h-5.48zM204 70.03h5.48v1.27h-5.48zM242.01 70.03h5.48v1.27h-5.48zM247.44 70.03h5.48v1.27h-5.48zM252.87 70.03h5.48v1.27h-5.48zM214.86 71.25h5.48v1.27h-5.48zM220.29 74.89h5.48v1.27h-5.48zM252.87 74.89h5.48v1.27h-5.48zM252.87 77.32h5.48v1.27h-5.48zM160.56 80.97h5.48v1.27h-5.48zM176.85 83.4h5.48v1.27h-5.48zM155.13 84.61h5.48v1.27h-5.48zM149.7 85.83h5.48v1.27h-5.48zM176.85 85.83h5.48v1.27h-5.48zM165.99 87.04h5.48v1.27h-5.48zM193.14 88.26h5.48v1.27h-5.48zM160.56 89.47h5.48v1.27h-5.48zM193.14 91.9h5.48v1.27h-5.48zM198.57 91.9h5.48v1.27h-5.48zM171.42 93.12h5.48v1.27h-5.48zM187.71 93.12h5.48v1.27h-5.48zM198.57 93.12h5.48v1.27h-5.48zM193.14 94.33h5.48v1.27h-5.48zM198.57 94.33h5.48v1.27h-5.48zM155.13 99.19h5.48v1.27h-5.48zM165.99 99.19h5.48v1.27h-5.48zM193.14 99.19h5.48v1.27h-5.48zM187.71 101.62h5.48v1.27h-5.48zM160.56 102.84h5.48v1.27h-5.48zM149.7 104.05h5.48v1.27h-5.48zM160.56 104.05h5.48v1.27h-5.48zM149.7 107.7h5.48v1.27h-5.48zM160.56 107.7h5.48v1.27h-5.48zM149.7 108.91h5.48v1.27h-5.48zM187.71 108.91h5.48v1.27h-5.48zM193.14 110.12h5.48v1.27h-5.48zM160.56 112.56h5.48v1.27h-5.48zM155.13 113.77h5.48v1.27h-5.48zM193.14 113.77h5.48v1.27h-5.48zM155.13 114.98h5.48v1.27h-5.48zM149.7 116.2h5.48v1.27h-5.48zM171.42 116.2h5.48v1.27h-5.48zM160.56 117.42h5.48v1.27h-5.48zM187.71 117.42h5.48v1.27h-5.48zM171.42 118.63h5.48v1.27h-5.48zM165.99 119.85h5.48v1.27h-5.48zM149.7 121.06h5.48v1.27h-5.48zM160.56 121.06h5.48v1.27h-5.48zM171.42 121.06h5.48v1.27h-5.48zM176.85 123.49h5.48v1.27h-5.48zM182.28 124.71h5.48v1.27h-5.48zM193.14 124.71h5.48v1.27h-5.48zM165.99 125.92h5.48v1.27h-5.48zM187.71 128.35h5.48v1.27h-5.48zM165.99 129.56h5.48v1.27h-5.48zM171.42 129.56h5.48v1.27h-5.48zM176.85 129.56h5.48v1.27h-5.48zM176.85 132h5.48v1.27h-5.48zM193.14 132h5.48v1.27h-5.48zM198.57 133.21h5.48v1.27h-5.48zM252.87 133.21h5.48v1.27h-5.48zM155.13 135.64h5.48v1.27h-5.48zM171.42 135.64h5.48v1.27h-5.48zM193.14 135.64h5.48v1.27h-5.48zM155.13 136.86h5.48v1.27h-5.48zM149.7 139.29h5.48v1.27h-5.48z"/>
<path fill="#f1c6c9" d="M220.29 19h5.48v1.27h-5.48zM231.15 19h5.48v1.27h-5.48zM225.72 20.21h5.48v1.27h-5.48zM252.87 20.21h5.48v1.27h-5.48zM242.01 22.64h5.48v1.27h-5.48zM242.01 25.07h5.48v1.27h-5.48zM252.87 25.07h5.48v1.27h-5.48zM220.29 26.29h5.48v1.27h-5.48zM231.15 26.29h5.48v1.27h-5.48zM231.15 27.51h5.48v1.27h-5.48zM236.58 28.72h5.48v1.27h-5.48zM236.58 31.15h5.48v1.27h-5.48zM204 36.01h5.48v1.27h-5.48zM209.43 36.01h5.48v1.27h-5.48zM214.86 36.01h5.48v1.27h-5.48zM204 37.23h5.48v1.27h-5.48zM225.72 37.23h5.48v1.27h-5.48zM209.43 38.44h5.48v1.27h-5.48zM231.15 39.66h5.48v1.27h-5.48zM247.44 42.09h5.48v1.27h-5.48zM220.29 43.3h5.48v1.27h-5.48zM225.72 43.3h5.48v1.27h-5.48zM231.15 43.3h5.48v1.27h-5.48zM242.01 44.52h5.48v1.27h-5.48zM220.29 45.73h5.48v1.27h-5.48zM252.87 45.73h5.48v1.27h-5.48zM214.86 46.95h5.48v1.27h-5.48zM220.29 46.95h5.48v1.27h-5.48zM225.72 46.95h5.48v1.27h-5.48zM231.15 46.95h5.48v1.27h-5.48zM242.01 46.95h5.48v1.27h-5.48zM214.86 48.16h5.48v1.27h-5.48zM225.72 48.16h5.48v1.27h-5.48zM236.58 48.16h5.48v1.27h-5.48zM204 50.59h5.48v1.27h-5.48zM247.44 51.8h5.48v1.27h-5.48zM247.44 53.02h5.48v1.27h-5.48zM225.72 54.23h5.48v1.27h-5.48zM242.01 54.23h5.48v1.27h-5.48zM209.43 55.45h5.48v1.27h-5.48zM231.15 55.45h5.48v1.27h-5.48zM252.87 55.45h5.48v1.27h-5.48zM236.58 56.66h5.48v1.27h-5.48zM214.86 62.74h5.48v1.27h-5.48zM252.87 62.74h5.48v1.27h-5.48zM204 63.96h5.48v1.27h-5.48zM214.86 65.17h5.48v1.27h-5.48zM225.72 65.17h5.48v1.27h-5.48zM247.44 65.17h5.48v1.27h-5.48zM209.43 67.6h5.48v1.27h-5.48zM214.86 67.6h5.48v1.27h-5.48zM236.58 67.6h5.48v1.27h-5.48zM242.01 67.6h5.48v1.27h-5.48zM242.01 68.81h5.48v1.27h-5.48zM220.29 70.03h5.48v1.27h-5.48zM236.58 70.03h5.48v1.27h-5.48zM220.29 71.25h5.48v1.27h-5.48zM225.72 71.25h5.48v1.27h-5.48zM231.15 71.25h5.48v1.27h-5.48zM252.87 71.25h5.48v1.27h-5.48zM214.86 72.46h5.48v1.27h-5.48zM242.01 72.46h5.48v1.27h-5.48zM247.44 72.46h5.48v1.27h-5.48zM209.43 73.68h5.48v1.27h-5.48zM209.43 74.89h5.48v1.27h-5.48zM242.01 74.89h5.48v1.27h-5.48zM209.43 76.11h5.48v1.27h-5.48zM231.15 76.11h5.48v1.27h-5.48zM220.29 77.32h5.48v1.27h-5.48zM247.44 77.32h5.48v1.27h-5.48zM220.29 78.53h5.48v1.27h-5.48zM149.7 79.75h5.48v1.27h-5.48zM155.13 80.97h5.48v1.27h-5.48zM182.28 80.97h5.48v1.27h-5.48zM149.7 82.18h5.48v1.27h-5.48zM160.56 82.18h5.48v1.27h-5.48zM149.7 84.61h5.48v1.27h-5.48zM187.71 84.61h5.48v1.27h-5.48zM193.14 84.61h5.48v1.27h-5.48zM155.13 85.83h5.48v1.27h-5.48zM160.56 85.83h5.48v1.27h-5.48zM149.7 89.47h5.48v1.27h-5.48zM165.99 89.47h5.48v1.27h-5.48zM198.57 89.47h5.48v1.27h-5.48zM149.7 90.69h5.48v1.27h-5.48zM149.7 91.9h5.48v1.27h-5.48zM155.13 91.9h5.48v1.27h-5.48zM171.42 91.9h5.48v1.27h-5.48zM187.71 91.9h5.48v1.27h-5.48zM160.56 93.12h5.48v1.27h-5.48zM149.7 95.55h5.48v1.27h-5.48zM155.13 96.76h5.48v1.27h-5.48zM193.14 96.76h5.48v1.27h-5.48zM155.13 97.98h5.48v1.27h-5.48zM171.42 97.98h5.48v1.27h-5.48zM198.57 97.98h5.48v1.27h-5.48zM187.71 99.19h5.48v1.27h-5.48zM160.56 101.62h5.48v1.27h-5.48zM165.99 101.62h5.48v1.27h-5.48zM193.14 101.62h5.48v1.27h-5.48zM165.99 105.27h5.48v1.27h-5.48zM176.85 105.27h5.48v1.27h-5.48zM193.14 105.27h5.48v1.27h-5.48zM165.99 106.48h5.48v1.27h-5.48zM176.85 106.48h5.48v1.27h-5.48zM171.42 107.7h5.48v1.27h-5.48zM193.14 107.7h5.48v1.27h-5.48zM209.43 110.12h5.48v1.27h-5.48zM171.42 111.34h5.48v1.27h-5.48zM149.7 112.56h5.48v1.27h-5.48zM187.71 112.56h5.48v1.27h-5.48zM193.14 112.56h5.48v1.27h-5.48zM160.56 113.77h5.48v1.27h-5.48zM165.99 114.98h5.48v1.27h-5.48zM193.14 114.98h5.48v1.27h-5.48zM149.7 118.63h5.48v1.27h-5.48zM198.57 118.63h5.48v1.27h-5.48zM155.13 119.85h5.48v1.27h-5.48zM187.71 119.85h5.48v1.27h-5.48zM149.7 122.28h5.48v1.27h-5.48zM182.28 122.28h5.48v1.27h-5.48zM187.71 122.28h5.48v1.27h-5.48zM193.14 122.28h5.48v1.27h-5.48zM171.42 123.49h5.48v1.27h-5.48zM149.7 125.92h5.48v1.27h-5.48zM160.56 125.92h5.48v1.27h-5.48zM182.28 125.92h5.48v1.27h-5.48zM149.7 129.56h5.48v1.27h-5.48zM193.14 129.56h5.48v1.27h-5.48zM155.13 130.78h5.48v1.27h-5.48zM165.99 130.78h5.48v1.27h-5.48zM171.42 130.78h5.48v1.27h-5.48zM198.57 130.78h5.48v1.27h-5.48zM160.56 133.21h5.48v1.27h-5.48zM165.99 133.21h5.48v1.27h-5.48zM187.71 134.43h5.48v1.27h-5.48zM149.7 135.64h5.48v1.27h-5.48zM160.56 135.64h5.48v1.27h-5.48zM165.99 135.64h5.48v1.27h-5.48zM160.56 136.86h5.48v1.27h-5.48zM171.42 138.07h5.48v1.27h-5.48zM198.57 138.07h5.48v1.27h-5.48z"/>
<path fill="#eebbbe" d="M204 19h5.48v1.27h-5.48zM247.44 19h5.48v1.27h-5.48zM214.86 20.21h5.48v1.27h-5.48zM204 22.64h5.48v1.27h-5.48zM204 23.86h5.48v1.27h-5.48zM214.86 23.86h5.48v1.27h-5.48zM242.01 23.86h5.48v1.27h-5.48zM204 25.07h5.48v1.27h-5.48zM252.87 26.29h5.48v1.27h-5.48zM209.43 27.51h5.48v1.27h-5.48zM252.87 27.51h5.48v1.27h-5.48zM231.15 28.72h5.48v1.27h-5.48zM252.87 29.94h5.48v1.27h-5.48zM204 33.58h5.48v1.27h-5.48zM252.87 39.66h5.48v1.27h-5.48zM214.86 40.87h5.48v1.27h-5.48zM231.15 40.87h5.48v1.27h-5.48zM214.86 42.09h5.48v1.27h-5.48zM252.87 43.3h5.48v1.27h-5.48zM209.43 44.52h5.48v1.27h-5.48zM231.15 44.52h5.48v1.27h-5.48zM214.86 45.73h5.48v1.27h-5.48zM236.58 45.73h5.48v1.27h-5.48zM204 49.38h5.48v1.27h-5.48zM209.43 49.38h5.48v1.27h-5.48zM225.72 49.38h5.48v1.27h-5.48zM209.43 50.59h5.48v1.27h-5.48zM252.87 51.8h5.48v1.27h-5.48zM204 53.02h5.48v1.27h-5.48zM209.43 53.02h5.48v1.27h-5.48zM236.58 53.02h5.48v1.27h-5.48zM214.86 54.23h5.48v1.27h-5.48zM252.87 54.23h5.48v1.27h-5.48zM214.86 55.45h5.48v1.27h-5.48zM220.29 55.45h5.48v1.27h-5.48zM247.44 56.66h5.48v1.27h-5.48zM242.01 57.88h5.48v1.27h-5.48zM252.87 59.1h5.48v1.27h-5.48zM242.01 61.53h5.48v1.27h-5.48zM220.29 62.74h5.48v1.27h-5.48zM209.43 65.17h5.48v1.27h-5.48zM220.29 66.39h5.48v1.27h-5.48zM242.01 66.39h5.48v1.27h-5.48zM247.44 66.39h5.48v1.27h-5.48zM214.86 68.81h5.48v1.27h-5.48zM220.29 68.81h5.48v1.27h-5.48zM252.87 68.81h5.48v1.27h-5.48zM242.01 71.25h5.48v1.27h-5.48zM236.58 73.68h5.48v1.27h-5.48zM231.15 74.89h5.48v1.27h-5.48zM209.43 78.53h5.48v1.27h-5.48zM225.72 78.53h5.48v1.27h-5.48zM198.57 82.18h5.48v1.27h-5.48zM160.56 84.61h5.48v1.27h-5.48zM198.57 84.61h5.48v1.27h-5.48zM187.71 85.83h5.48v1.27h-5.48zM160.56 87.04h5.48v1.27h-5.48zM198.57 87.04h5.48v1.27h-5.48zM187.71 88.26h5.48v1.27h-5.48zM165.99 90.69h5.48v1.27h-5.48zM176.85 90.69h5.48v1.27h-5.48zM165.99 91.9h5.48v1.27h-5.48zM176.85 93.12h5.48v1.27h-5.48zM193.14 93.12h5.48v1.27h-5.48zM149.7 94.33h5.48v1.27h-5.48zM155.13 94.33h5.48v1.27h-5.48zM187.71 94.33h5.48v1.27h-5.48zM155.13 95.55h5.48v1.27h-5.48zM165.99 95.55h5.48v1.27h-5.48zM160.56 96.76h5.48v1.27h-5.48zM165.99 97.98h5.48v1.27h-5.48zM225.72 99.19h5.48v1.27h-5.48zM160.56 100.41h5.48v1.27h-5.48zM149.7 102.84h5.48v1.27h-5.48zM171.42 102.84h5.48v1.27h-5.48zM193.14 102.84h5.48v1.27h-5.48zM193.14 104.05h5.48v1.27h-5.48zM149.7 105.27h5.48v1.27h-5.48zM165.99 108.91h5.48v1.27h-5.48zM193.14 111.34h5.48v1.27h-5.48zM171.42 113.77h5.48v1.27h-5.48zM160.56 116.2h5.48v1.27h-5.48zM187.71 116.2h5.48v1.27h-5.48zM155.13 121.06h5.48v1.27h-5.48zM165.99 121.06h5.48v1.27h-5.48zM193.14 121.06h5.48v1.27h-5.48zM160.56 122.28h5.48v1.27h-5.48zM171.42 122.28h5.48v1.27h-5.48zM198.57 123.49h5.48v1.27h-5.48zM155.13 125.92h5.48v1.27h-5.48zM149.7 130.78h5.48v1.27h-5.48zM155.13 132h5.48v1.27h-5.48zM155.13 133.21h5.48v1.27h-5.48zM165.99 138.07h5.48v1.27h-5.48zM155.13 139.29h5.48v1.27h-5.48zM171.42 139.29h5.48v1.27h-5.48z"/>
<path fill="#ebb0b3" d="M242.01 20.21h5.48v1.27h-5.48zM220.29 22.64h5.48v1.27h-5.48zM236.58 22.64h5.48v1.27h-5.48zM225.72 23.86h5.48v1.27h-5.48zM236.58 23.86h5.48v1.27h-5.48zM225.72 25.07h5.48v1.27h-5.48zM247.44 25.07h5.48v1.27h-5.48zM220.29 27.51h5.48v1.27h-5.48zM242.01 32.37h5.48v1.27h-5.48zM252.87 36.01h5.48v1.27h-5.48zM236.58 38.44h5.48v1.27h-5.48zM204 40.87h5.48v1.27h-5.48zM220.29 40.87h5.48v1.27h-5.48zM236.58 40.87h5.48v1.27h-5.48zM242.01 40.87h5.48v1.27h-5.48zM209.43 42.09h5.48v1.27h-5.48zM225.72 44.52h5.48v1.27h-5.48zM252.87 44.52h5.48v1.27h-5.48zM209.43 45.73h5.48v1.27h-5.48zM236.58 46.95h5.48v1.27h-5.48zM236.58 49.38h5.48v1.27h-5.48zM247.44 50.59h5.48v1.27h-5.48zM204 51.8h5.48v1.27h-5.48zM214.86 51.8h5.48v1.27h-5.48zM220.29 54.23h5.48v1.27h-5.48zM236.58 54.23h5.48v1.27h-5.48zM204 55.45h5.48v1.27h-5.48zM209.43 57.88h5.48v1.27h-5.48zM220.29 57.88h5.48v1.27h-5.48zM236.58 57.88h5.48v1.27h-5.48zM236.58 59.1h5.48v1.27h-5.48zM236.58 61.53h5.48v1.27h-5.48zM252.87 61.53h5.48v1.27h-5.48zM236.58 63.96h5.48v1.27h-5.48zM236.58 66.39h5.48v1.27h-5.48zM231.15 67.6h5.48v1.27h-5.48zM247.44 68.81h5.48v1.27h-5.48zM247.44 71.25h5.48v1.27h-5.48zM214.86 76.11h5.48v1.27h-5.48zM209.43 77.32h5.48v1.27h-5.48zM252.87 78.53h5.48v1.27h-5.48zM171.42 80.97h5.48v1.27h-5.48zM193.14 83.4h5.48v1.27h-5.48zM171.42 87.04h5.48v1.27h-5.48zM155.13 89.47h5.48v1.27h-5.48zM198.57 90.69h5.48v1.27h-5.48zM155.13 100.41h5.48v1.27h-5.48zM165.99 100.41h5.48v1.27h-5.48zM187.71 100.41h5.48v1.27h-5.48zM198.57 100.41h5.48v1.27h-5.48zM165.99 102.84h5.48v1.27h-5.48zM165.99 113.77h5.48v1.27h-5.48zM165.99 116.2h5.48v1.27h-5.48zM155.13 122.28h5.48v1.27h-5.48zM165.99 122.28h5.48v1.27h-5.48zM176.85 122.28h5.48v1.27h-5.48zM149.7 123.49h5.48v1.27h-5.48zM187.71 124.71h5.48v1.27h-5.48zM193.14 127.14h5.48v1.27h-5.48zM187.71 129.56h5.48v1.27h-5.48zM149.7 132h5.48v1.27h-5.48zM165.99 132h5.48v1.27h-5.48zM171.42 136.86h5.48v1.27h-5.48zM155.13 138.07h5.48v1.27h-5.48zM193.14 139.29h5.48v1.27h-5.48z"/>
<path fill="#e9a5a9" d="M236.58 19h5.48v1.27h-5.48zM214.86 22.64h5.48v1.27h-5.48zM209.43 23.86h5.48v1.27h-5.48zM220.29 25.07h5.48v1.27h-5.48zM247.44 28.72h5.48v1.27h-5.48zM236.58 29.94h5.48v1.27h-5.48zM220.29 31.15h5.48v1.27h-5.48zM209.43 32.37h5.48v1.27h-5.48zM247.44 32.37h5.48v1.27h-5.48zM236.58 34.8h5.48v1.27h-5.48zM242.01 36.01h5.48v1.27h-5.48zM242.01 39.66h5.48v1.27h-5.48zM209.43 40.87h5.48v1.27h-5.48zM247.44 40.87h5.48v1.27h-5.48zM252.87 42.09h5.48v1.27h-5.48zM204 44.52h5.48v1.27h-5.48zM214.86 50.59h5.48v1.27h-5.48zM252.87 50.59h5.48v1.27h-5.48zM231.15 51.8h5.48v1.27h-5.48zM236.58 51.8h5.48v1.27h-5.48zM247.44 54.23h5.48v1.27h-5.48zM236.58 55.45h5.48v1.27h-5.48zM242.01 55.45h5.48v1.27h-5.48zM220.29 56.66h5.48v1.27h-5.48zM231.15 57.88h5.48v1.27h-5.48zM204 66.39h5.48v1.27h-5.48zM236.58 68.81h5.48v1.27h-5.48zM209.43 72.46h5.48v1.27h-5.48zM231.15 72.46h5.48v1.27h-5.48zM242.01 73.68h5.48v1.27h-5.48zM247.44 73.68h5.48v1.27h-5.48zM204 74.89h5.48v1.27h-5.48zM236.58 77.32h5.48v1.27h-5.48zM214.86 78.53h5.48v1.27h-5.48zM171.42 79.75h5.48v1.27h-5.48zM165.99 85.83h5.48v1.27h-5.48zM149.7 87.04h5.48v1.27h-5.48zM155.13 87.04h5.48v1.27h-5.48zM155.13 93.12h5.48v1.27h-5.48zM176.85 94.33h5.48v1.27h-5.48zM160.56 97.98h5.48v1.27h-5.48zM176.85 97.98h5.48v1.27h-5.48zM149.7 100.41h5.48v1.27h-5.48zM155.13 101.62h5.48v1.27h-5.48zM155.13 102.84h5.48v1.27h-5.48zM171.42 104.05h5.48v1.27h-5.48zM155.13 108.91h5.48v1.27h-5.48zM165.99 112.56h5.48v1.27h-5.48zM198.57 112.56h5.48v1.27h-5.48zM193.14 116.2h5.48v1.27h-5.48zM187.71 121.06h5.48v1.27h-5.48zM171.42 132h5.48v1.27h-5.48zM165.99 134.43h5.48v1.27h-5.48zM193.14 134.43h5.48v1.27h-5.48z"/>
<path fill="#e6999e" d="M247.44 20.21h5.48v1.27h-5.48zM209.43 22.64h5.48v1.27h-5.48zM220.29 23.86h5.48v1.27h-5.48zM231.15 23.86h5.48v1.27h-5.48zM220.29 36.01h5.48v1.27h-5.48zM252.87 38.44h5.48v1.27h-5.48zM214.86 39.66h5.48v1.27h-5.48zM220.29 39.66h5.48v1.27h-5.48zM236.58 42.09h5.48v1.27h-5.48zM225.72 51.8h5.48v1.27h-5.48zM247.44 57.88h5.48v1.27h-5.48zM220.29 59.1h5.48v1.27h-5.48zM231.15 61.53h5.48v1.27h-5.48zM209.43 62.74h5.48v1.27h-5.48zM236.58 62.74h5.48v1.27h-5.48zM220.29 72.46h5.48v1.27h-5.48zM236.58 72.46h5.48v1.27h-5.48zM214.86 73.68h5.48v1.27h-5.48zM236.58 78.53h5.48v1.27h-5.48zM160.56 79.75h5.48v1.27h-5.48zM193.14 79.75h5.48v1.27h-5.48zM193.14 87.04h5.48v1.27h-5.48zM160.56 90.69h5.48v1.27h-5.48zM193.14 97.98h5.48v1.27h-5.48zM171.42 100.41h5.48v1.27h-5.48zM193.14 100.41h5.48v1.27h-5.48zM187.71 105.27h5.48v1.27h-5.48zM160.56 118.63h5.48v1.27h-5.48zM160.56 124.71h5.48v1.27h-5.48zM198.57 124.71h5.48v1.27h-5.48zM198.57 129.56h5.48v1.27h-5.48zM160.56 132h5.48v1.27h-5.48z"/>
<path fill="#e38e93" d="M209.43 20.21h5.48v1.27h-5.48zM252.87 22.64h5.48v1.27h-5.48zM231.15 25.07h5.48v1.27h-5.48zM236.58 25.07h5.48v1.27h-5.48zM225.72 39.66h5.48v1.27h-5.48zM220.29 42.09h5.48v1.27h-5.48zM209.43 51.8h5.48v1.27h-5.48zM247.44 59.1h5.48v1.27h-5.48zM252.87 65.17h5.48v1.27h-5.48zM220.29 67.6h5.48v1.27h-5.48zM209.43 68.81h5.48v1.27h-5.48zM252.87 73.68h5.48v1.27h-5.48zM165.99 79.75h5.48v1.27h-5.48zM193.14 80.97h5.48v1.27h-5.48zM160.56 94.33h5.48v1.27h-5.48z"/>
<path fill="#e08388" d="M220.29 20.21h5.48v1.27h-5.48zM214.86 25.07h5.48v1.27h-5.48zM236.58 39.66h5.48v1.27h-5.48zM204 46.95h5.48v1.27h-5.48zM231.15 73.68h5.48v1.27h-5.48zM242.01 77.32h5.48v1.27h-5.48z"/>
<path fill="#de787e" d="M236.58 74.89h5.48v1.27h-5.48zM155.13 79.75h5.48v1.27h-5.48zM165.99 94.33h5.48v1.27h-5.48z"/>
<path fill="#db6c73" d="M204 39.66h5.48v1.27h-5.48zM225.72 73.68h5.48v1.27h-5.48z"/>
<path fill="#d86168" d="M247.44 27.51h5.48v1.27h-5.48z"/>
<rect x="260.1" y="20" width="3.9" height="62.2" fill="url(#cb)"/>
<text x="267.7" y="22.6" font-size="6.5" font-weight="bold">3</text>
<text x="267.7" y="53.8" font-size="6.5" font-weight="bold">0</text>
<text x="267.6" y="83" font-size="6.5" font-weight="bold">-3</text>
<text x="296.5" y="12.85" font-size="13" text-anchor="middle" fill="#1a1515">B</text>
<ellipse cx="347.6" cy="76.75" rx="44.7" ry="46.35" fill="none" stroke="#c41c24" stroke-width="2"/>
<ellipse cx="404.7" cy="76.8" rx="44.8" ry="46.5" fill="none" stroke="#2e36a2" stroke-width="2.1"/>
<text x="328.6" y="19.9" font-size="10.4" font-weight="bold" font-style="italic" fill="#222" textLength="31.6" lengthAdjust="spacingAndGlyphs">FUSCC</text>
<text x="386.3" y="20.2" font-size="10.4" font-weight="bold" font-style="italic" fill="#222" textLength="49.8" lengthAdjust="spacingAndGlyphs">GSE147602</text>
<text x="334" y="80.8" font-size="11.2" font-weight="bold" text-anchor="middle" fill="#222">232</text>
<text x="376.5" y="81.6" font-size="11.2" font-weight="bold" text-anchor="middle" fill="#222">19</text>
<text x="415.9" y="81.6" font-size="11.2" font-weight="bold" text-anchor="middle" fill="#222">606</text>
<text x="482" y="14.05" font-size="13" text-anchor="middle" fill="#1a1515">C</text>
<line x1="518" y1="18.2" x2="518" y2="145.2" stroke="#000" stroke-width="1.4"/>
<line x1="517.3" y1="144.5" x2="650" y2="144.5" stroke="#000" stroke-width="1.4"/>
<line x1="544.2" y1="144.5" x2="544.2" y2="148" stroke="#000" stroke-width="1.2"/>
<line x1="583.6" y1="144.5" x2="583.6" y2="148" stroke="#000" stroke-width="1.2"/>
<line x1="623" y1="144.5" x2="623" y2="148" stroke="#000" stroke-width="1.2"/>
<line x1="514.3" y1="144.5" x2="518" y2="144.5" stroke="#000" stroke-width="1.2"/>
<text x="511.8" y="147.45" font-size="8.2" font-weight="bold" text-anchor="end">0</text>
<line x1="514.3" y1="119.34" x2="518" y2="119.34" stroke="#000" stroke-width="1.2"/>
<text x="511.8" y="122.29" font-size="8.2" font-weight="bold" text-anchor="end">2</text>
<line x1="514.3" y1="94.18" x2="518" y2="94.18" stroke="#000" stroke-width="1.2"/>
<text x="511.8" y="97.13" font-size="8.2" font-weight="bold" text-anchor="end">4</text>
<line x1="514.3" y1="69.02" x2="518" y2="69.02" stroke="#000" stroke-width="1.2"/>
<text x="511.8" y="71.97" font-size="8.2" font-weight="bold" text-anchor="end">6</text>
<line x1="514.3" y1="43.86" x2="518" y2="43.86" stroke="#000" stroke-width="1.2"/>
<text x="511.8" y="46.81" font-size="8.2" font-weight="bold" text-anchor="end">8</text>
<line x1="514.3" y1="18.7" x2="518" y2="18.7" stroke="#000" stroke-width="1.2"/>
<text x="511.8" y="21.65" font-size="8.2" font-weight="bold" text-anchor="end">10</text>
<text x="482.2" y="81" font-size="10.3" font-weight="bold" text-anchor="middle" transform="rotate(-90 482.2 81)">Relative expression</text>
<text x="497.3" y="81" font-size="10.3" font-weight="bold" text-anchor="middle" transform="rotate(-90 497.3 81)">of HIF1A-AS2</text>
<text x="543.2" y="159.9" font-size="10" font-weight="bold" text-anchor="middle">N</text>
<text x="583.5" y="159.9" font-size="10" font-weight="bold" text-anchor="middle">T</text>
<text x="622.1" y="159.9" font-size="10" font-weight="bold" text-anchor="middle">M</text>
<line x1="545.1" y1="10.5" x2="623.2" y2="10.5" stroke="#444" stroke-width="1.2"/>
<text x="571.8" y="7.6" font-size="9.4" font-weight="bold" font-style="italic" fill="#333" textLength="33.6" lengthAdjust="spacingAndGlyphs">p&lt;0.001</text>
<line x1="584.1" y1="27.3" x2="623.9" y2="27.3" stroke="#444" stroke-width="1.2"/>
<text x="588.2" y="24.4" font-size="9.4" font-weight="bold" font-style="italic" fill="#333" textLength="34.3" lengthAdjust="spacingAndGlyphs">p=0.026</text>
<line x1="544.1" y1="45.5" x2="582.8" y2="45.5" stroke="#444" stroke-width="1.2"/>
<text x="546.6" y="40.9" font-size="9.4" font-weight="bold" font-style="italic" fill="#333" textLength="34.6" lengthAdjust="spacingAndGlyphs">p=0.016</text>
<circle cx="541" cy="64.4" r="2" fill="#4a67c4"/>
<circle cx="547.2" cy="62.7" r="2" fill="#4a67c4"/>
<circle cx="534" cy="89.8" r="2" fill="#4a67c4"/>
<circle cx="538.9" cy="91.2" r="2" fill="#4a67c4"/>
<circle cx="544.5" cy="92.1" r="2" fill="#4a67c4"/>
<circle cx="549.8" cy="90.7" r="2" fill="#4a67c4"/>
<circle cx="554.7" cy="87.2" r="2" fill="#4a67c4"/>
<circle cx="535.4" cy="96.3" r="2" fill="#4a67c4"/>
<circle cx="541" cy="98.2" r="2" fill="#4a67c4"/>
<circle cx="546.3" cy="98.2" r="2" fill="#4a67c4"/>
<circle cx="552.4" cy="96.5" r="2" fill="#4a67c4"/>
<circle cx="533.7" cy="101.2" r="2" fill="#4a67c4"/>
<circle cx="538.9" cy="102.1" r="2" fill="#4a67c4"/>
<circle cx="544.2" cy="101.2" r="2" fill="#4a67c4"/>
<circle cx="549.4" cy="102.1" r="2" fill="#4a67c4"/>
<circle cx="554.7" cy="100.3" r="2" fill="#4a67c4"/>
<circle cx="544.2" cy="105.6" r="2" fill="#4a67c4"/>
<circle cx="553.3" cy="109.6" r="2" fill="#4a67c4"/>
<circle cx="535.4" cy="113.1" r="2" fill="#4a67c4"/>
<circle cx="541" cy="114.3" r="2" fill="#4a67c4"/>
<circle cx="547.2" cy="114.3" r="2" fill="#4a67c4"/>
<line x1="544.2" y1="82.5" x2="544.2" y2="110.5" stroke="#4a67c4" stroke-width="1.2"/>
<line x1="537.5" y1="82.5" x2="551.2" y2="82.5" stroke="#4a67c4" stroke-width="1.2"/>
<line x1="537.5" y1="110.5" x2="551.2" y2="110.5" stroke="#4a67c4" stroke-width="1.2"/>
<line x1="530.9" y1="96.3" x2="557.7" y2="96.3" stroke="#2a1238" stroke-width="1.6"/>
<circle cx="580.4" cy="50.1" r="2" fill="#e8563b"/>
<circle cx="586.6" cy="51.3" r="2" fill="#e8563b"/>
<circle cx="574.7" cy="57.1" r="2" fill="#e8563b"/>
<circle cx="581.3" cy="59.2" r="2" fill="#e8563b"/>
<circle cx="586.6" cy="59.2" r="2" fill="#e8563b"/>
<circle cx="592.7" cy="57.1" r="2" fill="#e8563b"/>
<circle cx="577.8" cy="63.2" r="2" fill="#e8563b"/>
<circle cx="589.7" cy="62.3" r="2" fill="#e8563b"/>
<circle cx="584" cy="67.6" r="2" fill="#e8563b"/>
<circle cx="584" cy="86.3" r="2" fill="#e8563b"/>
<circle cx="580.4" cy="89.5" r="2" fill="#e8563b"/>
<circle cx="586.9" cy="93.3" r="2" fill="#e8563b"/>
<circle cx="577.8" cy="97.2" r="2" fill="#e8563b"/>
<circle cx="584" cy="98.6" r="2" fill="#e8563b"/>
<circle cx="589.7" cy="97.7" r="2" fill="#e8563b"/>
<circle cx="580.4" cy="102.1" r="2" fill="#e8563b"/>
<circle cx="586.6" cy="104.7" r="2" fill="#e8563b"/>
<circle cx="577.8" cy="109.1" r="2" fill="#e8563b"/>
<circle cx="584" cy="112.6" r="2" fill="#e8563b"/>
<circle cx="589.7" cy="111.7" r="2" fill="#e8563b"/>
<line x1="584" y1="58.8" x2="584" y2="104.2" stroke="#e8563b" stroke-width="1.2"/>
<line x1="577.8" y1="58.8" x2="590" y2="58.8" stroke="#e8563b" stroke-width="1.2"/>
<line x1="577.8" y1="104.2" x2="590" y2="104.2" stroke="#e8563b" stroke-width="1.2"/>
<line x1="570.8" y1="81.6" x2="596.7" y2="81.6" stroke="#2a1238" stroke-width="1.6"/>
<circle cx="619.9" cy="35.5" r="2" fill="#9a62c6"/>
<circle cx="629.5" cy="38.1" r="2" fill="#9a62c6"/>
<circle cx="626.5" cy="41.3" r="2" fill="#9a62c6"/>
<circle cx="620.2" cy="52.7" r="2" fill="#9a62c6"/>
<circle cx="629" cy="54.4" r="2" fill="#9a62c6"/>
<circle cx="632.1" cy="57.4" r="2" fill="#9a62c6"/>
<circle cx="623.4" cy="58.3" r="2" fill="#9a62c6"/>
<circle cx="619.5" cy="59.7" r="2" fill="#9a62c6"/>
<circle cx="617.2" cy="61.8" r="2" fill="#9a62c6"/>
<circle cx="628.6" cy="61.8" r="2" fill="#9a62c6"/>
<circle cx="613.7" cy="65.3" r="2" fill="#9a62c6"/>
<circle cx="619.9" cy="67" r="2" fill="#9a62c6"/>
<circle cx="626" cy="70.2" r="2" fill="#9a62c6"/>
<circle cx="613.7" cy="86.3" r="2" fill="#9a62c6"/>
<circle cx="623" cy="85.4" r="2" fill="#9a62c6"/>
<circle cx="632.1" cy="88.4" r="2" fill="#9a62c6"/>
<circle cx="619.9" cy="89.8" r="2" fill="#9a62c6"/>
<circle cx="626" cy="92.4" r="2" fill="#9a62c6"/>
<circle cx="623.4" cy="105.9" r="2" fill="#9a62c6"/>
<line x1="623.4" y1="46" x2="623.4" y2="85.4" stroke="#9a62c6" stroke-width="1.2"/>
<line x1="617.2" y1="46" x2="629.5" y2="46" stroke="#9a62c6" stroke-width="1.2"/>
<line x1="617.2" y1="85.4" x2="629.5" y2="85.4" stroke="#9a62c6" stroke-width="1.2"/>
<line x1="610.2" y1="65.8" x2="636.5" y2="65.8" stroke="#2a1238" stroke-width="1.6"/>
<text x="11.05" y="176.7" font-size="13" text-anchor="middle" fill="#1a1515">D</text>
<line x1="46" y1="194.4" x2="46" y2="299.2" stroke="#000" stroke-width="1.4"/>
<line x1="45.3" y1="298.5" x2="150.5" y2="298.5" stroke="#000" stroke-width="1.4"/>
<line x1="42.4" y1="298.5" x2="46" y2="298.5" stroke="#000" stroke-width="1.2"/>
<text x="42" y="301.31" font-size="7.8" font-weight="bold" text-anchor="end">0</text>
<line x1="42.4" y1="264" x2="46" y2="264" stroke="#000" stroke-width="1.2"/>
<text x="42" y="266.81" font-size="7.8" font-weight="bold" text-anchor="end">5</text>
<line x1="42.4" y1="229.5" x2="46" y2="229.5" stroke="#000" stroke-width="1.2"/>
<text x="42" y="232.31" font-size="7.8" font-weight="bold" text-anchor="end">10</text>
<line x1="42.4" y1="195" x2="46" y2="195" stroke="#000" stroke-width="1.2"/>
<text x="42" y="197.81" font-size="7.8" font-weight="bold" text-anchor="end">15</text>
<line x1="75.6" y1="298.5" x2="75.6" y2="301.5" stroke="#000" stroke-width="1.2"/>
<line x1="120.1" y1="298.5" x2="120.1" y2="301.5" stroke="#000" stroke-width="1.2"/>
<text x="17.9" y="246.5" font-size="8.45" font-weight="bold" text-anchor="middle" transform="rotate(-90 17.9 246.5)">Relative expression</text>
<text x="29.5" y="246.5" font-size="8.45" font-weight="bold" text-anchor="middle" transform="rotate(-90 29.5 246.5)">of HIF1A-AS2</text>
<text x="72.9" y="197.5" font-size="11.8" font-weight="bold" font-style="italic" fill="#222" textLength="46.8" lengthAdjust="spacingAndGlyphs">p=0.003</text>
<path d="M71.2 208.3 L71.2 205.9 L120.2 205.9 L120.2 208.3" fill="none" stroke="#555" stroke-width="1.1"/>
<line x1="75.6" y1="254.34" x2="75.6" y2="277.8" stroke="#4a67c4" stroke-width="0.9"/>
<line x1="69.6" y1="254.34" x2="81.6" y2="254.34" stroke="#4a67c4" stroke-width="0.9"/>
<line x1="69.6" y1="277.8" x2="81.6" y2="277.8" stroke="#4a67c4" stroke-width="0.9"/>
<line x1="67.1" y1="266.76" x2="84.1" y2="266.76" stroke="#000" stroke-width="1.3"/>
<line x1="120.1" y1="246.06" x2="120.1" y2="275.04" stroke="#e8563b" stroke-width="0.9"/>
<line x1="114.1" y1="246.06" x2="126.1" y2="246.06" stroke="#e8563b" stroke-width="0.9"/>
<line x1="114.1" y1="275.04" x2="126.1" y2="275.04" stroke="#e8563b" stroke-width="0.9"/>
<line x1="111.6" y1="261.24" x2="128.6" y2="261.24" stroke="#000" stroke-width="1.3"/>
<circle cx="77.15" cy="289.33" r="1.6" fill="#4a67c4"/>
<circle cx="74.05" cy="288.85" r="1.6" fill="#4a67c4"/>
<circle cx="75.6" cy="288.25" r="1.6" fill="#4a67c4"/>
<circle cx="78.7" cy="288.01" r="1.6" fill="#4a67c4"/>
<circle cx="72.5" cy="287.55" r="1.6" fill="#4a67c4"/>
<circle cx="81.8" cy="287.08" r="1.6" fill="#4a67c4"/>
<circle cx="69.4" cy="286.81" r="1.6" fill="#4a67c4"/>
<circle cx="84.9" cy="286.23" r="1.6" fill="#4a67c4"/>
<circle cx="66.3" cy="285.74" r="1.6" fill="#4a67c4"/>
<circle cx="88" cy="285.23" r="1.6" fill="#4a67c4"/>
<circle cx="63.2" cy="285.1" r="1.6" fill="#4a67c4"/>
<circle cx="77.15" cy="284.57" r="1.6" fill="#4a67c4"/>
<circle cx="74.05" cy="284.22" r="1.6" fill="#4a67c4"/>
<circle cx="80.25" cy="283.47" r="1.6" fill="#4a67c4"/>
<circle cx="70.95" cy="283.08" r="1.6" fill="#4a67c4"/>
<circle cx="83.35" cy="282.93" r="1.6" fill="#4a67c4"/>
<circle cx="67.85" cy="282.07" r="1.6" fill="#4a67c4"/>
<circle cx="86.45" cy="281.64" r="1.6" fill="#4a67c4"/>
<circle cx="64.75" cy="281.34" r="1.6" fill="#4a67c4"/>
<circle cx="75.6" cy="280.92" r="1.6" fill="#4a67c4"/>
<circle cx="78.7" cy="280.68" r="1.6" fill="#4a67c4"/>
<circle cx="72.5" cy="280.3" r="1.6" fill="#4a67c4"/>
<circle cx="81.8" cy="279.65" r="1.6" fill="#4a67c4"/>
<circle cx="69.4" cy="279.42" r="1.6" fill="#4a67c4"/>
<circle cx="84.9" cy="278.94" r="1.6" fill="#4a67c4"/>
<circle cx="66.3" cy="278.5" r="1.6" fill="#4a67c4"/>
<circle cx="88" cy="278.17" r="1.6" fill="#4a67c4"/>
<circle cx="63.2" cy="277.56" r="1.6" fill="#4a67c4"/>
<circle cx="77.15" cy="277.15" r="1.6" fill="#4a67c4"/>
<circle cx="74.05" cy="276.56" r="1.6" fill="#4a67c4"/>
<circle cx="80.25" cy="276.27" r="1.6" fill="#4a67c4"/>
<circle cx="70.95" cy="275.8" r="1.6" fill="#4a67c4"/>
<circle cx="83.35" cy="275.43" r="1.6" fill="#4a67c4"/>
<circle cx="67.85" cy="274.94" r="1.6" fill="#4a67c4"/>
<circle cx="86.45" cy="274.61" r="1.6" fill="#4a67c4"/>
<circle cx="64.75" cy="274.26" r="1.6" fill="#4a67c4"/>
<circle cx="75.6" cy="273.53" r="1.6" fill="#4a67c4"/>
<circle cx="78.7" cy="273.11" r="1.6" fill="#4a67c4"/>
<circle cx="72.5" cy="272.75" r="1.6" fill="#4a67c4"/>
<circle cx="81.8" cy="272.39" r="1.6" fill="#4a67c4"/>
<circle cx="69.4" cy="272.13" r="1.6" fill="#4a67c4"/>
<circle cx="84.9" cy="271.74" r="1.6" fill="#4a67c4"/>
<circle cx="66.3" cy="271.3" r="1.6" fill="#4a67c4"/>
<circle cx="88" cy="270.97" r="1.6" fill="#4a67c4"/>
<circle cx="63.2" cy="270.25" r="1.6" fill="#4a67c4"/>
<circle cx="75.6" cy="269.98" r="1.6" fill="#4a67c4"/>
<circle cx="78.7" cy="269.37" r="1.6" fill="#4a67c4"/>
<circle cx="72.5" cy="269.14" r="1.6" fill="#4a67c4"/>
<circle cx="81.8" cy="268.48" r="1.6" fill="#4a67c4"/>
<circle cx="69.4" cy="268.1" r="1.6" fill="#4a67c4"/>
<circle cx="84.9" cy="268.04" r="1.6" fill="#4a67c4"/>
<circle cx="66.3" cy="267.53" r="1.6" fill="#4a67c4"/>
<circle cx="88" cy="266.81" r="1.6" fill="#4a67c4"/>
<circle cx="63.2" cy="266.57" r="1.6" fill="#4a67c4"/>
<circle cx="77.15" cy="265.93" r="1.6" fill="#4a67c4"/>
<circle cx="74.05" cy="265.76" r="1.6" fill="#4a67c4"/>
<circle cx="80.25" cy="265.47" r="1.6" fill="#4a67c4"/>
<circle cx="70.95" cy="264.81" r="1.6" fill="#4a67c4"/>
<circle cx="83.35" cy="264.33" r="1.6" fill="#4a67c4"/>
<circle cx="67.85" cy="264.12" r="1.6" fill="#4a67c4"/>
<circle cx="86.45" cy="263.77" r="1.6" fill="#4a67c4"/>
<circle cx="64.75" cy="263.25" r="1.6" fill="#4a67c4"/>
<circle cx="75.6" cy="262.56" r="1.6" fill="#4a67c4"/>
<circle cx="78.7" cy="262.22" r="1.6" fill="#4a67c4"/>
<circle cx="72.5" cy="262.07" r="1.6" fill="#4a67c4"/>
<circle cx="81.8" cy="261.59" r="1.6" fill="#4a67c4"/>
<circle cx="69.4" cy="261.23" r="1.6" fill="#4a67c4"/>
<circle cx="84.9" cy="260.83" r="1.6" fill="#4a67c4"/>
<circle cx="66.3" cy="260.09" r="1.6" fill="#4a67c4"/>
<circle cx="88" cy="259.93" r="1.6" fill="#4a67c4"/>
<circle cx="63.2" cy="259.35" r="1.6" fill="#4a67c4"/>
<circle cx="75.6" cy="258.97" r="1.6" fill="#4a67c4"/>
<circle cx="78.7" cy="258.66" r="1.6" fill="#4a67c4"/>
<circle cx="72.5" cy="258.01" r="1.6" fill="#4a67c4"/>
<circle cx="81.8" cy="257.84" r="1.6" fill="#4a67c4"/>
<circle cx="69.4" cy="257.2" r="1.6" fill="#4a67c4"/>
<circle cx="84.9" cy="257" r="1.6" fill="#4a67c4"/>
<circle cx="66.3" cy="256.45" r="1.6" fill="#4a67c4"/>
<circle cx="88" cy="256.11" r="1.6" fill="#4a67c4"/>
<circle cx="63.2" cy="255.67" r="1.6" fill="#4a67c4"/>
<circle cx="75.6" cy="254.95" r="1.6" fill="#4a67c4"/>
<circle cx="78.7" cy="254.6" r="1.6" fill="#4a67c4"/>
<circle cx="72.5" cy="254.38" r="1.6" fill="#4a67c4"/>
<circle cx="81.8" cy="253.72" r="1.6" fill="#4a67c4"/>
<circle cx="69.4" cy="253.58" r="1.6" fill="#4a67c4"/>
<circle cx="84.9" cy="253.08" r="1.6" fill="#4a67c4"/>
<circle cx="66.3" cy="252.46" r="1.6" fill="#4a67c4"/>
<circle cx="88" cy="252.13" r="1.6" fill="#4a67c4"/>
<circle cx="63.2" cy="251.93" r="1.6" fill="#4a67c4"/>
<circle cx="75.6" cy="251.14" r="1.6" fill="#4a67c4"/>
<circle cx="78.7" cy="251.04" r="1.6" fill="#4a67c4"/>
<circle cx="72.5" cy="250.6" r="1.6" fill="#4a67c4"/>
<circle cx="81.8" cy="249.96" r="1.6" fill="#4a67c4"/>
<circle cx="69.4" cy="249.72" r="1.6" fill="#4a67c4"/>
<circle cx="84.9" cy="249.32" r="1.6" fill="#4a67c4"/>
<circle cx="66.3" cy="248.99" r="1.6" fill="#4a67c4"/>
<circle cx="88" cy="248.56" r="1.6" fill="#4a67c4"/>
<circle cx="63.2" cy="247.93" r="1.6" fill="#4a67c4"/>
<circle cx="77.15" cy="247.65" r="1.6" fill="#4a67c4"/>
<circle cx="74.05" cy="247.07" r="1.6" fill="#4a67c4"/>
<circle cx="80.25" cy="246.75" r="1.6" fill="#4a67c4"/>
<circle cx="70.95" cy="246.29" r="1.6" fill="#4a67c4"/>
<circle cx="77.15" cy="242.2" r="1.6" fill="#4a67c4"/>
<circle cx="74.05" cy="240.84" r="1.6" fill="#4a67c4"/>
<circle cx="75.6" cy="238.02" r="1.6" fill="#4a67c4"/>
<circle cx="75.6" cy="234.68" r="1.6" fill="#4a67c4"/>
<circle cx="121.65" cy="284.9" r="1.6" fill="#e8563b"/>
<circle cx="118.55" cy="283.67" r="1.6" fill="#e8563b"/>
<circle cx="124.75" cy="281.58" r="1.6" fill="#e8563b"/>
<circle cx="115.45" cy="281.33" r="1.6" fill="#e8563b"/>
<circle cx="121.65" cy="280.86" r="1.6" fill="#e8563b"/>
<circle cx="118.55" cy="280.13" r="1.6" fill="#e8563b"/>
<circle cx="124.75" cy="279.65" r="1.6" fill="#e8563b"/>
<circle cx="115.45" cy="278.82" r="1.6" fill="#e8563b"/>
<circle cx="127.85" cy="278.35" r="1.6" fill="#e8563b"/>
<circle cx="112.35" cy="277.86" r="1.6" fill="#e8563b"/>
<circle cx="120.1" cy="277.35" r="1.6" fill="#e8563b"/>
<circle cx="123.2" cy="276.83" r="1.6" fill="#e8563b"/>
<circle cx="117" cy="276.63" r="1.6" fill="#e8563b"/>
<circle cx="126.3" cy="276.09" r="1.6" fill="#e8563b"/>
<circle cx="113.9" cy="275.79" r="1.6" fill="#e8563b"/>
<circle cx="129.4" cy="275.06" r="1.6" fill="#e8563b"/>
<circle cx="110.8" cy="275" r="1.6" fill="#e8563b"/>
<circle cx="132.5" cy="274.26" r="1.6" fill="#e8563b"/>
<circle cx="107.7" cy="274.16" r="1.6" fill="#e8563b"/>
<circle cx="120.1" cy="273.48" r="1.6" fill="#e8563b"/>
<circle cx="123.2" cy="273.21" r="1.6" fill="#e8563b"/>
<circle cx="117" cy="272.77" r="1.6" fill="#e8563b"/>
<circle cx="126.3" cy="272.17" r="1.6" fill="#e8563b"/>
<circle cx="113.9" cy="272.09" r="1.6" fill="#e8563b"/>
<circle cx="129.4" cy="271.66" r="1.6" fill="#e8563b"/>
<circle cx="110.8" cy="270.88" r="1.6" fill="#e8563b"/>
<circle cx="132.5" cy="270.64" r="1.6" fill="#e8563b"/>
<circle cx="107.7" cy="270.39" r="1.6" fill="#e8563b"/>
<circle cx="121.65" cy="269.6" r="1.6" fill="#e8563b"/>
<circle cx="118.55" cy="269.2" r="1.6" fill="#e8563b"/>
<circle cx="124.75" cy="269.13" r="1.6" fill="#e8563b"/>
<circle cx="115.45" cy="268.59" r="1.6" fill="#e8563b"/>
<circle cx="127.85" cy="268.29" r="1.6" fill="#e8563b"/>
<circle cx="112.35" cy="267.8" r="1.6" fill="#e8563b"/>
<circle cx="130.95" cy="267.25" r="1.6" fill="#e8563b"/>
<circle cx="109.25" cy="267.02" r="1.6" fill="#e8563b"/>
<circle cx="121.65" cy="266.38" r="1.6" fill="#e8563b"/>
<circle cx="118.55" cy="266.24" r="1.6" fill="#e8563b"/>
<circle cx="124.75" cy="265.77" r="1.6" fill="#e8563b"/>
<circle cx="115.45" cy="265.08" r="1.6" fill="#e8563b"/>
<circle cx="127.85" cy="264.84" r="1.6" fill="#e8563b"/>
<circle cx="112.35" cy="264.41" r="1.6" fill="#e8563b"/>
<circle cx="130.95" cy="263.92" r="1.6" fill="#e8563b"/>
<circle cx="109.25" cy="263.55" r="1.6" fill="#e8563b"/>
<circle cx="134.05" cy="263.18" r="1.6" fill="#e8563b"/>
<circle cx="106.15" cy="262.91" r="1.6" fill="#e8563b"/>
<circle cx="120.1" cy="262.2" r="1.6" fill="#e8563b"/>
<circle cx="123.2" cy="261.68" r="1.6" fill="#e8563b"/>
<circle cx="117" cy="261.26" r="1.6" fill="#e8563b"/>
<circle cx="126.3" cy="260.97" r="1.6" fill="#e8563b"/>
<circle cx="113.9" cy="260.68" r="1.6" fill="#e8563b"/>
<circle cx="129.4" cy="260.26" r="1.6" fill="#e8563b"/>
<circle cx="110.8" cy="259.71" r="1.6" fill="#e8563b"/>
<circle cx="132.5" cy="259.3" r="1.6" fill="#e8563b"/>
<circle cx="107.7" cy="259.11" r="1.6" fill="#e8563b"/>
<circle cx="121.65" cy="258.65" r="1.6" fill="#e8563b"/>
<circle cx="118.55" cy="258.18" r="1.6" fill="#e8563b"/>
<circle cx="124.75" cy="257.7" r="1.6" fill="#e8563b"/>
<circle cx="115.45" cy="257.15" r="1.6" fill="#e8563b"/>
<circle cx="127.85" cy="256.87" r="1.6" fill="#e8563b"/>
<circle cx="112.35" cy="256.65" r="1.6" fill="#e8563b"/>
<circle cx="130.95" cy="255.9" r="1.6" fill="#e8563b"/>
<circle cx="109.25" cy="255.64" r="1.6" fill="#e8563b"/>
<circle cx="121.65" cy="255.19" r="1.6" fill="#e8563b"/>
<circle cx="118.55" cy="254.89" r="1.6" fill="#e8563b"/>
<circle cx="124.75" cy="254.39" r="1.6" fill="#e8563b"/>
<circle cx="115.45" cy="253.99" r="1.6" fill="#e8563b"/>
<circle cx="127.85" cy="253.41" r="1.6" fill="#e8563b"/>
<circle cx="112.35" cy="253.27" r="1.6" fill="#e8563b"/>
<circle cx="130.95" cy="252.67" r="1.6" fill="#e8563b"/>
<circle cx="109.25" cy="252.41" r="1.6" fill="#e8563b"/>
<circle cx="134.05" cy="251.78" r="1.6" fill="#e8563b"/>
<circle cx="106.15" cy="251.63" r="1.6" fill="#e8563b"/>
<circle cx="121.65" cy="251.12" r="1.6" fill="#e8563b"/>
<circle cx="118.55" cy="250.67" r="1.6" fill="#e8563b"/>
<circle cx="124.75" cy="250.13" r="1.6" fill="#e8563b"/>
<circle cx="115.45" cy="249.96" r="1.6" fill="#e8563b"/>
<circle cx="127.85" cy="249.37" r="1.6" fill="#e8563b"/>
<circle cx="112.35" cy="249.06" r="1.6" fill="#e8563b"/>
<circle cx="130.95" cy="248.61" r="1.6" fill="#e8563b"/>
<circle cx="109.25" cy="248.11" r="1.6" fill="#e8563b"/>
<circle cx="121.65" cy="247.49" r="1.6" fill="#e8563b"/>
<circle cx="118.55" cy="247.27" r="1.6" fill="#e8563b"/>
<circle cx="124.75" cy="246.66" r="1.6" fill="#e8563b"/>
<circle cx="115.45" cy="246.57" r="1.6" fill="#e8563b"/>
<circle cx="127.85" cy="245.84" r="1.6" fill="#e8563b"/>
<circle cx="112.35" cy="245.65" r="1.6" fill="#e8563b"/>
<circle cx="130.95" cy="245.31" r="1.6" fill="#e8563b"/>
<circle cx="109.25" cy="244.66" r="1.6" fill="#e8563b"/>
<circle cx="120.1" cy="244.17" r="1.6" fill="#e8563b"/>
<circle cx="123.2" cy="244.13" r="1.6" fill="#e8563b"/>
<circle cx="117" cy="243.61" r="1.6" fill="#e8563b"/>
<circle cx="126.3" cy="241.82" r="1.6" fill="#e8563b"/>
<circle cx="113.9" cy="240.72" r="1.6" fill="#e8563b"/>
<circle cx="121.65" cy="238.99" r="1.6" fill="#e8563b"/>
<circle cx="118.55" cy="237.52" r="1.6" fill="#e8563b"/>
<circle cx="120.1" cy="235.53" r="1.6" fill="#e8563b"/>
<circle cx="121.65" cy="232.5" r="1.6" fill="#e8563b"/>
<circle cx="118.55" cy="229.88" r="1.6" fill="#e8563b"/>
<circle cx="120.1" cy="227.93" r="1.6" fill="#e8563b"/>
<circle cx="123.2" cy="226.95" r="1.6" fill="#e8563b"/>
<circle cx="117" cy="225.95" r="1.6" fill="#e8563b"/>
<circle cx="120.1" cy="223.46" r="1.6" fill="#e8563b"/>
<circle cx="121.65" cy="220.64" r="1.6" fill="#e8563b"/>
<circle cx="118.55" cy="218.64" r="1.6" fill="#e8563b"/>
<circle cx="120.1" cy="217.08" r="1.6" fill="#e8563b"/>
<line x1="67.1" y1="266.76" x2="84.1" y2="266.76" stroke="#000" stroke-width="1.3"/>
<line x1="111.6" y1="261.24" x2="128.6" y2="261.24" stroke="#000" stroke-width="1.3"/>
<text x="185.3" y="174.55" font-size="13" text-anchor="middle" fill="#1a1515">E</text>
<line x1="212.7" y1="186.1" x2="212.7" y2="300.1" stroke="#000" stroke-width="1.4"/>
<line x1="212" y1="299.4" x2="328.3" y2="299.4" stroke="#000" stroke-width="1.4"/>
<line x1="209.1" y1="299.4" x2="212.7" y2="299.4" stroke="#000" stroke-width="1.2"/>
<text x="208.9" y="302.44" font-size="8.45" font-weight="bold" text-anchor="end">0</text>
<line x1="209.1" y1="261.47" x2="212.7" y2="261.47" stroke="#000" stroke-width="1.2"/>
<text x="208.9" y="264.51" font-size="8.45" font-weight="bold" text-anchor="end">5</text>
<line x1="209.1" y1="223.53" x2="212.7" y2="223.53" stroke="#000" stroke-width="1.2"/>
<text x="208.9" y="226.58" font-size="8.45" font-weight="bold" text-anchor="end">10</text>
<line x1="209.1" y1="185.6" x2="212.7" y2="185.6" stroke="#000" stroke-width="1.2"/>
<text x="208.9" y="188.64" font-size="8.45" font-weight="bold" text-anchor="end">15</text>
<line x1="245.4" y1="299.4" x2="245.4" y2="302.4" stroke="#000" stroke-width="1.2"/>
<line x1="295.1" y1="299.4" x2="295.1" y2="302.4" stroke="#000" stroke-width="1.2"/>
<text x="182.1" y="241.8" font-size="9.3" font-weight="bold" text-anchor="middle" transform="rotate(-90 182.1 241.8)">Relative expression</text>
<text x="193.8" y="241.8" font-size="9.3" font-weight="bold" text-anchor="middle" transform="rotate(-90 193.8 241.8)">of HIF1A-AS2</text>
<text x="246.4" y="188" font-size="11.8" font-weight="bold" font-style="italic" fill="#222" textLength="48.2" lengthAdjust="spacingAndGlyphs">p=0.006</text>
<path d="M246.4 199.4 L246.4 196.6 L294.6 196.6 L294.6 199.4" fill="none" stroke="#555" stroke-width="1.1"/>
<circle cx="245.4" cy="286.19" r="1.65" fill="#4a67c4"/>
<circle cx="245.4" cy="283.3" r="1.65" fill="#4a67c4"/>
<circle cx="248.8" cy="281.53" r="1.65" fill="#4a67c4"/>
<circle cx="242" cy="280.97" r="1.65" fill="#4a67c4"/>
<circle cx="247.1" cy="280.48" r="1.65" fill="#4a67c4"/>
<circle cx="243.7" cy="279.43" r="1.65" fill="#4a67c4"/>
<circle cx="250.5" cy="278.76" r="1.65" fill="#4a67c4"/>
<circle cx="240.3" cy="278.29" r="1.65" fill="#4a67c4"/>
<circle cx="253.9" cy="277.63" r="1.65" fill="#4a67c4"/>
<circle cx="236.9" cy="277.15" r="1.65" fill="#4a67c4"/>
<circle cx="257.3" cy="276.64" r="1.65" fill="#4a67c4"/>
<circle cx="233.5" cy="276.02" r="1.65" fill="#4a67c4"/>
<circle cx="247.1" cy="275.48" r="1.65" fill="#4a67c4"/>
<circle cx="243.7" cy="275.26" r="1.65" fill="#4a67c4"/>
<circle cx="250.5" cy="274.48" r="1.65" fill="#4a67c4"/>
<circle cx="240.3" cy="274.29" r="1.65" fill="#4a67c4"/>
<circle cx="253.9" cy="273.84" r="1.65" fill="#4a67c4"/>
<circle cx="236.9" cy="273.47" r="1.65" fill="#4a67c4"/>
<circle cx="257.3" cy="272.59" r="1.65" fill="#4a67c4"/>
<circle cx="233.5" cy="272.26" r="1.65" fill="#4a67c4"/>
<circle cx="260.7" cy="271.75" r="1.65" fill="#4a67c4"/>
<circle cx="230.1" cy="271.42" r="1.65" fill="#4a67c4"/>
<circle cx="245.4" cy="271.23" r="1.65" fill="#4a67c4"/>
<circle cx="248.8" cy="270.65" r="1.65" fill="#4a67c4"/>
<circle cx="242" cy="270.12" r="1.65" fill="#4a67c4"/>
<circle cx="252.2" cy="269.84" r="1.65" fill="#4a67c4"/>
<circle cx="238.6" cy="269.02" r="1.65" fill="#4a67c4"/>
<circle cx="255.6" cy="268.83" r="1.65" fill="#4a67c4"/>
<circle cx="235.2" cy="268.48" r="1.65" fill="#4a67c4"/>
<circle cx="259" cy="267.73" r="1.65" fill="#4a67c4"/>
<circle cx="231.8" cy="267.59" r="1.65" fill="#4a67c4"/>
<circle cx="245.4" cy="266.78" r="1.65" fill="#4a67c4"/>
<circle cx="248.8" cy="266.55" r="1.65" fill="#4a67c4"/>
<circle cx="242" cy="266.05" r="1.65" fill="#4a67c4"/>
<circle cx="252.2" cy="265.7" r="1.65" fill="#4a67c4"/>
<circle cx="238.6" cy="265.18" r="1.65" fill="#4a67c4"/>
<circle cx="255.6" cy="264.87" r="1.65" fill="#4a67c4"/>
<circle cx="235.2" cy="264.48" r="1.65" fill="#4a67c4"/>
<circle cx="259" cy="263.66" r="1.65" fill="#4a67c4"/>
<circle cx="231.8" cy="263.5" r="1.65" fill="#4a67c4"/>
<circle cx="262.4" cy="262.8" r="1.65" fill="#4a67c4"/>
<circle cx="228.4" cy="262.61" r="1.65" fill="#4a67c4"/>
<circle cx="247.1" cy="261.82" r="1.65" fill="#4a67c4"/>
<circle cx="243.7" cy="261.4" r="1.65" fill="#4a67c4"/>
<circle cx="250.5" cy="261.01" r="1.65" fill="#4a67c4"/>
<circle cx="240.3" cy="260.56" r="1.65" fill="#4a67c4"/>
<circle cx="253.9" cy="260.19" r="1.65" fill="#4a67c4"/>
<circle cx="236.9" cy="259.68" r="1.65" fill="#4a67c4"/>
<circle cx="257.3" cy="259.5" r="1.65" fill="#4a67c4"/>
<circle cx="233.5" cy="258.89" r="1.65" fill="#4a67c4"/>
<circle cx="260.7" cy="258.28" r="1.65" fill="#4a67c4"/>
<circle cx="230.1" cy="258.12" r="1.65" fill="#4a67c4"/>
<circle cx="247.1" cy="257.34" r="1.65" fill="#4a67c4"/>
<circle cx="243.7" cy="256.91" r="1.65" fill="#4a67c4"/>
<circle cx="250.5" cy="256.67" r="1.65" fill="#4a67c4"/>
<circle cx="240.3" cy="256.24" r="1.65" fill="#4a67c4"/>
<circle cx="253.9" cy="255.76" r="1.65" fill="#4a67c4"/>
<circle cx="236.9" cy="255.34" r="1.65" fill="#4a67c4"/>
<circle cx="257.3" cy="254.61" r="1.65" fill="#4a67c4"/>
<circle cx="233.5" cy="254.44" r="1.65" fill="#4a67c4"/>
<circle cx="260.7" cy="254.15" r="1.65" fill="#4a67c4"/>
<circle cx="230.1" cy="253.67" r="1.65" fill="#4a67c4"/>
<circle cx="247.1" cy="252.94" r="1.65" fill="#4a67c4"/>
<circle cx="243.7" cy="252.37" r="1.65" fill="#4a67c4"/>
<circle cx="250.5" cy="251.85" r="1.65" fill="#4a67c4"/>
<circle cx="240.3" cy="250.83" r="1.65" fill="#4a67c4"/>
<circle cx="253.9" cy="249.74" r="1.65" fill="#4a67c4"/>
<circle cx="236.9" cy="248.5" r="1.65" fill="#4a67c4"/>
<circle cx="245.4" cy="248.02" r="1.65" fill="#4a67c4"/>
<circle cx="248.8" cy="246.59" r="1.65" fill="#4a67c4"/>
<circle cx="242" cy="245.61" r="1.65" fill="#4a67c4"/>
<circle cx="252.2" cy="244.51" r="1.65" fill="#4a67c4"/>
<circle cx="238.6" cy="243.94" r="1.65" fill="#4a67c4"/>
<circle cx="247.1" cy="242.92" r="1.65" fill="#4a67c4"/>
<circle cx="243.7" cy="241.71" r="1.65" fill="#4a67c4"/>
<circle cx="250.5" cy="240.08" r="1.65" fill="#4a67c4"/>
<circle cx="240.3" cy="239.65" r="1.65" fill="#4a67c4"/>
<circle cx="245.4" cy="238.36" r="1.65" fill="#4a67c4"/>
<circle cx="245.4" cy="227.45" r="1.65" fill="#4a67c4"/>
<circle cx="245.4" cy="223.82" r="1.65" fill="#4a67c4"/>
<circle cx="245.4" cy="219.44" r="1.65" fill="#4a67c4"/>
<circle cx="245.4" cy="211.48" r="1.65" fill="#4a67c4"/>
<circle cx="295.1" cy="276.34" r="1.65" fill="#e8563b"/>
<circle cx="296.95" cy="275.99" r="1.65" fill="#e8563b"/>
<circle cx="293.25" cy="272.82" r="1.65" fill="#e8563b"/>
<circle cx="300.65" cy="271.01" r="1.65" fill="#e8563b"/>
<circle cx="289.55" cy="270.83" r="1.65" fill="#e8563b"/>
<circle cx="295.1" cy="269.97" r="1.65" fill="#e8563b"/>
<circle cx="298.8" cy="268.56" r="1.65" fill="#e8563b"/>
<circle cx="291.4" cy="267.92" r="1.65" fill="#e8563b"/>
<circle cx="302.5" cy="266.5" r="1.65" fill="#e8563b"/>
<circle cx="287.7" cy="266.18" r="1.65" fill="#e8563b"/>
<circle cx="306.2" cy="264.59" r="1.65" fill="#e8563b"/>
<circle cx="284" cy="264.26" r="1.65" fill="#e8563b"/>
<circle cx="296.95" cy="263.08" r="1.65" fill="#e8563b"/>
<circle cx="293.25" cy="261.85" r="1.65" fill="#e8563b"/>
<circle cx="300.65" cy="261.16" r="1.65" fill="#e8563b"/>
<circle cx="289.55" cy="260.02" r="1.65" fill="#e8563b"/>
<circle cx="296.95" cy="254.98" r="1.65" fill="#e8563b"/>
<circle cx="293.25" cy="254.78" r="1.65" fill="#e8563b"/>
<circle cx="300.65" cy="253.7" r="1.65" fill="#e8563b"/>
<circle cx="289.55" cy="253.28" r="1.65" fill="#e8563b"/>
<circle cx="304.35" cy="252.85" r="1.65" fill="#e8563b"/>
<circle cx="285.85" cy="252.33" r="1.65" fill="#e8563b"/>
<circle cx="296.95" cy="251.36" r="1.65" fill="#e8563b"/>
<circle cx="293.25" cy="250.92" r="1.65" fill="#e8563b"/>
<circle cx="300.65" cy="250.12" r="1.65" fill="#e8563b"/>
<circle cx="289.55" cy="246.49" r="1.65" fill="#e8563b"/>
<circle cx="295.1" cy="244.46" r="1.65" fill="#e8563b"/>
<circle cx="298.8" cy="243.43" r="1.65" fill="#e8563b"/>
<circle cx="291.4" cy="241.5" r="1.65" fill="#e8563b"/>
<circle cx="296.95" cy="230.39" r="1.65" fill="#e8563b"/>
<circle cx="293.25" cy="228.02" r="1.65" fill="#e8563b"/>
<circle cx="296.95" cy="221.8" r="1.65" fill="#e8563b"/>
<circle cx="293.25" cy="220.49" r="1.65" fill="#e8563b"/>
<circle cx="296.95" cy="215.11" r="1.65" fill="#e8563b"/>
<circle cx="293.25" cy="210.8" r="1.65" fill="#e8563b"/>
<line x1="245.4" y1="245.76" x2="245.4" y2="276.72" stroke="#111" stroke-width="1.6"/>
<line x1="237.8" y1="245.76" x2="253" y2="245.76" stroke="#111" stroke-width="1.6"/>
<line x1="237.8" y1="276.72" x2="253" y2="276.72" stroke="#111" stroke-width="1.6"/>
<line x1="237.8" y1="262" x2="253" y2="262" stroke="#611" stroke-width="1.4"/>
<line x1="295.1" y1="235.44" x2="295.1" y2="269.58" stroke="#111" stroke-width="1.6"/>
<line x1="287.1" y1="235.44" x2="303.1" y2="235.44" stroke="#111" stroke-width="1.6"/>
<line x1="287.1" y1="269.58" x2="303.1" y2="269.58" stroke="#111" stroke-width="1.6"/>
<line x1="287.1" y1="252.51" x2="303.1" y2="252.51" stroke="#611" stroke-width="1.4"/>
<text x="359.9" y="176.75" font-size="13" text-anchor="middle" fill="#1a1515">F</text>
<line x1="385.8" y1="187.3" x2="385.8" y2="302.1" stroke="#000" stroke-width="1.4"/>
<line x1="385.1" y1="301.4" x2="500.8" y2="301.4" stroke="#000" stroke-width="1.4"/>
<line x1="382.2" y1="301.4" x2="385.8" y2="301.4" stroke="#000" stroke-width="1.2"/>
<text x="381.9" y="304.44" font-size="8.45" font-weight="bold" text-anchor="end">0</text>
<line x1="382.2" y1="263.5" x2="385.8" y2="263.5" stroke="#000" stroke-width="1.2"/>
<text x="381.9" y="266.54" font-size="8.45" font-weight="bold" text-anchor="end">5</text>
<line x1="382.2" y1="225.6" x2="385.8" y2="225.6" stroke="#000" stroke-width="1.2"/>
<text x="381.9" y="228.64" font-size="8.45" font-weight="bold" text-anchor="end">10</text>
<line x1="382.2" y1="187.7" x2="385.8" y2="187.7" stroke="#000" stroke-width="1.2"/>
<text x="381.9" y="190.74" font-size="8.45" font-weight="bold" text-anchor="end">15</text>
<line x1="418.8" y1="301.4" x2="418.8" y2="304.4" stroke="#000" stroke-width="1.2"/>
<line x1="468.6" y1="301.4" x2="468.6" y2="304.4" stroke="#000" stroke-width="1.2"/>
<text x="355.6" y="244.2" font-size="9.3" font-weight="bold" text-anchor="middle" transform="rotate(-90 355.6 244.2)">Relative expression</text>
<text x="367.3" y="244.2" font-size="9.3" font-weight="bold" text-anchor="middle" transform="rotate(-90 367.3 244.2)">of HIF1A-AS2</text>
<text x="418.9" y="191.7" font-size="11.8" font-weight="bold" font-style="italic" fill="#222" textLength="48.8" lengthAdjust="spacingAndGlyphs">p=0.027</text>
<path d="M418.5 201.6 L418.5 198.7 L469.2 198.7 L469.2 201.6" fill="none" stroke="#555" stroke-width="1.1"/>
<circle cx="418.8" cy="288.47" r="1.65" fill="#4a67c4"/>
<circle cx="418.8" cy="283.09" r="1.65" fill="#4a67c4"/>
<circle cx="422.6" cy="281.7" r="1.65" fill="#4a67c4"/>
<circle cx="415" cy="280.3" r="1.65" fill="#4a67c4"/>
<circle cx="418.8" cy="279.81" r="1.65" fill="#4a67c4"/>
<circle cx="422.6" cy="278.75" r="1.65" fill="#4a67c4"/>
<circle cx="415" cy="277.54" r="1.65" fill="#4a67c4"/>
<circle cx="426.4" cy="275.89" r="1.65" fill="#4a67c4"/>
<circle cx="411.2" cy="275.52" r="1.65" fill="#4a67c4"/>
<circle cx="420.7" cy="274.31" r="1.65" fill="#4a67c4"/>
<circle cx="416.9" cy="273.61" r="1.65" fill="#4a67c4"/>
<circle cx="424.5" cy="273.25" r="1.65" fill="#4a67c4"/>
<circle cx="413.1" cy="272.19" r="1.65" fill="#4a67c4"/>
<circle cx="428.3" cy="271.5" r="1.65" fill="#4a67c4"/>
<circle cx="409.3" cy="270.77" r="1.65" fill="#4a67c4"/>
<circle cx="418.8" cy="269.57" r="1.65" fill="#4a67c4"/>
<circle cx="422.6" cy="269.49" r="1.65" fill="#4a67c4"/>
<circle cx="415" cy="268.79" r="1.65" fill="#4a67c4"/>
<circle cx="426.4" cy="267.34" r="1.65" fill="#4a67c4"/>
<circle cx="411.2" cy="266.98" r="1.65" fill="#4a67c4"/>
<circle cx="430.2" cy="266.38" r="1.65" fill="#4a67c4"/>
<circle cx="407.4" cy="265.52" r="1.65" fill="#4a67c4"/>
<circle cx="420.7" cy="264.74" r="1.65" fill="#4a67c4"/>
<circle cx="416.9" cy="263.53" r="1.65" fill="#4a67c4"/>
<circle cx="424.5" cy="263.34" r="1.65" fill="#4a67c4"/>
<circle cx="413.1" cy="262.58" r="1.65" fill="#4a67c4"/>
<circle cx="428.3" cy="261.54" r="1.65" fill="#4a67c4"/>
<circle cx="409.3" cy="260.81" r="1.65" fill="#4a67c4"/>
<circle cx="418.8" cy="259.75" r="1.65" fill="#4a67c4"/>
<circle cx="422.6" cy="259.07" r="1.65" fill="#4a67c4"/>
<circle cx="415" cy="258.68" r="1.65" fill="#4a67c4"/>
<circle cx="426.4" cy="258.04" r="1.65" fill="#4a67c4"/>
<circle cx="411.2" cy="256.8" r="1.65" fill="#4a67c4"/>
<circle cx="430.2" cy="255.93" r="1.65" fill="#4a67c4"/>
<circle cx="407.4" cy="255.86" r="1.65" fill="#4a67c4"/>
<circle cx="420.7" cy="252.5" r="1.65" fill="#4a67c4"/>
<circle cx="416.9" cy="250.27" r="1.65" fill="#4a67c4"/>
<circle cx="420.7" cy="248.72" r="1.65" fill="#4a67c4"/>
<circle cx="416.9" cy="247.61" r="1.65" fill="#4a67c4"/>
<circle cx="418.8" cy="244.58" r="1.65" fill="#4a67c4"/>
<circle cx="422.6" cy="243.73" r="1.65" fill="#4a67c4"/>
<circle cx="415" cy="243.31" r="1.65" fill="#4a67c4"/>
<circle cx="426.4" cy="242" r="1.65" fill="#4a67c4"/>
<circle cx="411.2" cy="241.47" r="1.65" fill="#4a67c4"/>
<circle cx="468.6" cy="288.34" r="1.65" fill="#e8563b"/>
<circle cx="470.35" cy="281.58" r="1.65" fill="#e8563b"/>
<circle cx="466.85" cy="280.99" r="1.65" fill="#e8563b"/>
<circle cx="473.85" cy="280.13" r="1.65" fill="#e8563b"/>
<circle cx="463.35" cy="279.8" r="1.65" fill="#e8563b"/>
<circle cx="477.35" cy="279.14" r="1.65" fill="#e8563b"/>
<circle cx="459.85" cy="278.94" r="1.65" fill="#e8563b"/>
<circle cx="480.85" cy="278.18" r="1.65" fill="#e8563b"/>
<circle cx="456.35" cy="277.46" r="1.65" fill="#e8563b"/>
<circle cx="470.35" cy="277.09" r="1.65" fill="#e8563b"/>
<circle cx="466.85" cy="276.32" r="1.65" fill="#e8563b"/>
<circle cx="473.85" cy="275.82" r="1.65" fill="#e8563b"/>
<circle cx="463.35" cy="275.55" r="1.65" fill="#e8563b"/>
<circle cx="477.35" cy="275.21" r="1.65" fill="#e8563b"/>
<circle cx="459.85" cy="274.27" r="1.65" fill="#e8563b"/>
<circle cx="480.85" cy="274.07" r="1.65" fill="#e8563b"/>
<circle cx="456.35" cy="273.59" r="1.65" fill="#e8563b"/>
<circle cx="468.6" cy="272.66" r="1.65" fill="#e8563b"/>
<circle cx="472.1" cy="272.06" r="1.65" fill="#e8563b"/>
<circle cx="465.1" cy="271.52" r="1.65" fill="#e8563b"/>
<circle cx="475.6" cy="270.92" r="1.65" fill="#e8563b"/>
<circle cx="461.6" cy="270.79" r="1.65" fill="#e8563b"/>
<circle cx="479.1" cy="270.31" r="1.65" fill="#e8563b"/>
<circle cx="458.1" cy="269.75" r="1.65" fill="#e8563b"/>
<circle cx="482.6" cy="268.75" r="1.65" fill="#e8563b"/>
<circle cx="454.6" cy="268.68" r="1.65" fill="#e8563b"/>
<circle cx="468.6" cy="268.11" r="1.65" fill="#e8563b"/>
<circle cx="472.1" cy="267.65" r="1.65" fill="#e8563b"/>
<circle cx="465.1" cy="267.09" r="1.65" fill="#e8563b"/>
<circle cx="475.6" cy="266.56" r="1.65" fill="#e8563b"/>
<circle cx="461.6" cy="265.85" r="1.65" fill="#e8563b"/>
<circle cx="479.1" cy="265.41" r="1.65" fill="#e8563b"/>
<circle cx="458.1" cy="264.79" r="1.65" fill="#e8563b"/>
<circle cx="468.6" cy="263.92" r="1.65" fill="#e8563b"/>
<circle cx="472.1" cy="263.79" r="1.65" fill="#e8563b"/>
<circle cx="465.1" cy="262.9" r="1.65" fill="#e8563b"/>
<circle cx="475.6" cy="262.4" r="1.65" fill="#e8563b"/>
<circle cx="461.6" cy="261.95" r="1.65" fill="#e8563b"/>
<circle cx="479.1" cy="261.41" r="1.65" fill="#e8563b"/>
<circle cx="458.1" cy="260.76" r="1.65" fill="#e8563b"/>
<circle cx="482.6" cy="260.32" r="1.65" fill="#e8563b"/>
<circle cx="454.6" cy="259.98" r="1.65" fill="#e8563b"/>
<circle cx="470.35" cy="259.38" r="1.65" fill="#e8563b"/>
<circle cx="466.85" cy="258.89" r="1.65" fill="#e8563b"/>
<circle cx="473.85" cy="258.26" r="1.65" fill="#e8563b"/>
<circle cx="463.35" cy="257.41" r="1.65" fill="#e8563b"/>
<circle cx="477.35" cy="257.17" r="1.65" fill="#e8563b"/>
<circle cx="459.85" cy="256.82" r="1.65" fill="#e8563b"/>
<circle cx="480.85" cy="256.06" r="1.65" fill="#e8563b"/>
<circle cx="456.35" cy="255.34" r="1.65" fill="#e8563b"/>
<circle cx="468.6" cy="255" r="1.65" fill="#e8563b"/>
<circle cx="472.1" cy="254.32" r="1.65" fill="#e8563b"/>
<circle cx="465.1" cy="254.11" r="1.65" fill="#e8563b"/>
<circle cx="475.6" cy="253.59" r="1.65" fill="#e8563b"/>
<circle cx="461.6" cy="252.73" r="1.65" fill="#e8563b"/>
<circle cx="479.1" cy="252.52" r="1.65" fill="#e8563b"/>
<circle cx="458.1" cy="251.84" r="1.65" fill="#e8563b"/>
<circle cx="482.6" cy="251.26" r="1.65" fill="#e8563b"/>
<circle cx="454.6" cy="250.82" r="1.65" fill="#e8563b"/>
<circle cx="468.6" cy="250.36" r="1.65" fill="#e8563b"/>
<circle cx="472.1" cy="249.84" r="1.65" fill="#e8563b"/>
<circle cx="465.1" cy="248.79" r="1.65" fill="#e8563b"/>
<circle cx="475.6" cy="248.39" r="1.65" fill="#e8563b"/>
<circle cx="461.6" cy="247.71" r="1.65" fill="#e8563b"/>
<circle cx="479.1" cy="247.42" r="1.65" fill="#e8563b"/>
<circle cx="458.1" cy="246.63" r="1.65" fill="#e8563b"/>
<circle cx="468.6" cy="246.14" r="1.65" fill="#e8563b"/>
<circle cx="472.1" cy="244.93" r="1.65" fill="#e8563b"/>
<circle cx="465.1" cy="243.26" r="1.65" fill="#e8563b"/>
<circle cx="468.6" cy="241.45" r="1.65" fill="#e8563b"/>
<circle cx="472.1" cy="240.13" r="1.65" fill="#e8563b"/>
<circle cx="465.1" cy="238.01" r="1.65" fill="#e8563b"/>
<circle cx="470.35" cy="235.53" r="1.65" fill="#e8563b"/>
<circle cx="466.85" cy="234.66" r="1.65" fill="#e8563b"/>
<circle cx="470.35" cy="230.05" r="1.65" fill="#e8563b"/>
<circle cx="466.85" cy="228.8" r="1.65" fill="#e8563b"/>
<circle cx="470.35" cy="226.73" r="1.65" fill="#e8563b"/>
<circle cx="466.85" cy="224.42" r="1.65" fill="#e8563b"/>
<circle cx="470.35" cy="222.86" r="1.65" fill="#e8563b"/>
<circle cx="466.85" cy="221.93" r="1.65" fill="#e8563b"/>
<circle cx="468.6" cy="219.82" r="1.65" fill="#e8563b"/>
<circle cx="472.1" cy="218.4" r="1.65" fill="#e8563b"/>
<circle cx="465.1" cy="216.45" r="1.65" fill="#e8563b"/>
<circle cx="468.6" cy="212.81" r="1.65" fill="#e8563b"/>
<line x1="418.8" y1="253.49" x2="418.8" y2="278.13" stroke="#111" stroke-width="1.6"/>
<line x1="410.95" y1="253.49" x2="426.65" y2="253.49" stroke="#111" stroke-width="1.6"/>
<line x1="410.95" y1="278.13" x2="426.65" y2="278.13" stroke="#111" stroke-width="1.6"/>
<line x1="410.95" y1="265.77" x2="426.65" y2="265.77" stroke="#4a2060" stroke-width="1.4"/>
<line x1="468.6" y1="240" x2="468.6" y2="275.4" stroke="#111" stroke-width="1.6"/>
<line x1="460.7" y1="240" x2="476.5" y2="240" stroke="#111" stroke-width="1.6"/>
<line x1="460.7" y1="275.4" x2="476.5" y2="275.4" stroke="#111" stroke-width="1.6"/>
<line x1="460.7" y1="257.59" x2="476.5" y2="257.59" stroke="#4a2060" stroke-width="1.4"/>
<circle cx="37.2" cy="315.7" r="2.2" fill="#3650b8"/>
<circle cx="37.2" cy="324.6" r="2.2" fill="#e0302a"/>
<text x="44.8" y="318.6" font-size="8.7" fill="#3a3a3a">Adjacent normal tissues (106)</text>
<text x="44.8" y="327.2" font-size="8.7" fill="#3a3a3a">Tumor tissues (106)</text>
<circle cx="215.4" cy="317.9" r="2.2" fill="#3650b8"/>
<circle cx="215.4" cy="326.1" r="2.2" fill="#e0302a"/>
<text x="223" y="320.8" font-size="8.7" fill="#3a3a3a">without distant metastasis</text>
<text x="223" y="328.7" font-size="8.7" fill="#3a3a3a">with distant metastasis</text>
<circle cx="391.8" cy="319.4" r="2.2" fill="#3650b8"/>
<circle cx="391.8" cy="327.3" r="2.2" fill="#e0302a"/>
<text x="399.4" y="322.3" font-size="8.7" fill="#3a3a3a">without tumor recurrence</text>
<text x="399.4" y="329.9" font-size="8.7" fill="#3a3a3a">with tumor recurrence</text>
<text x="515.6" y="175.55" font-size="13" text-anchor="middle" fill="#1a1515">G</text>
<text x="564.1" y="187.1" font-size="11.7" font-weight="bold" textLength="84.7" lengthAdjust="spacingAndGlyphs">FUSCC dataset</text>
<line x1="542.2" y1="187" x2="542.2" y2="310" stroke="#000" stroke-width="1.4"/>
<line x1="541.5" y1="309.3" x2="665.3" y2="309.3" stroke="#000" stroke-width="1.4"/>
<line x1="538.4" y1="309.3" x2="542.2" y2="309.3" stroke="#000" stroke-width="1.2"/>
<text x="536.9" y="312.32" font-size="8.4" font-weight="bold" text-anchor="end">0</text>
<line x1="538.4" y1="253.9" x2="542.2" y2="253.9" stroke="#000" stroke-width="1.2"/>
<text x="536.9" y="256.92" font-size="8.4" font-weight="bold" text-anchor="end">50</text>
<line x1="538.4" y1="198.5" x2="542.2" y2="198.5" stroke="#000" stroke-width="1.2"/>
<text x="536.9" y="201.52" font-size="8.4" font-weight="bold" text-anchor="end">100</text>
<line x1="542.4" y1="309.3" x2="542.4" y2="312.3" stroke="#000" stroke-width="1.2"/>
<text x="542.4" y="323.5" font-size="8.9" font-weight="bold" text-anchor="middle">0</text>
<line x1="583" y1="309.3" x2="583" y2="312.3" stroke="#000" stroke-width="1.2"/>
<text x="583" y="323.5" font-size="8.9" font-weight="bold" text-anchor="middle">1000</text>
<line x1="623.9" y1="309.3" x2="623.9" y2="312.3" stroke="#000" stroke-width="1.2"/>
<text x="623.9" y="323.5" font-size="8.9" font-weight="bold" text-anchor="middle">2000</text>
<line x1="664.8" y1="309.3" x2="664.8" y2="312.3" stroke="#000" stroke-width="1.2"/>
<text x="664.8" y="323.5" font-size="8.9" font-weight="bold" text-anchor="middle">3000</text>
<text x="517.4" y="246.3" font-size="10.46" font-weight="bold" text-anchor="middle" transform="rotate(-90 517.4 246.3)">Overall survival (%)</text>
<text x="604" y="337.8" font-size="9.5" font-weight="bold" text-anchor="middle">Days</text>
<path d="M541.82 198.21 L548.21 198.21 L548.21 199.49 L552.77 199.49 L552.77 202.77 L571.02 202.77 L571.02 207.34 L579.23 207.34 L579.23 212.26 L602.96 212.26 L602.96 214.64 L604.78 214.64 L604.78 217.37 L617.55 217.37 L617.55 219.56 L655.88 219.56" fill="none" stroke="#4a5cc0" stroke-width="1.2"/>
<path d="M541.82 198.21 L545.11 198.21 L545.11 199.49 L547.3 199.49 L547.3 200.95 L549.12 200.95 L549.12 203.14 L550.58 203.14 L550.58 205.51 L551.86 205.51 L551.86 208.25 L553.14 208.25 L553.14 210.07 L554.6 210.07 L554.6 211.9 L556.79 211.9 L556.79 214.09 L558.25 214.09 L558.25 217.37 L558.8 217.37 L558.8 221.93 L562.81 221.93 L562.81 225.22 L571.02 225.22 L571.02 227.04 L573.76 227.04 L573.76 228.87 L575.58 228.87 L575.58 231.06 L578.32 231.06 L578.32 232.88 L582.88 232.88 L582.88 234.71 L584.71 234.71 L584.71 238.36 L589.27 238.36 L589.27 239.82 L592.01 239.82 L592.01 241.09 L594.74 241.09 L594.74 242.92 L602.04 242.92 L602.04 244.74 L603.87 244.74 L603.87 248.03 L606.06 248.03 L606.06 250.22 L610.26 250.22 L610.26 254.78 L618.47 254.78 L618.47 257.52 L643.1 257.52" fill="none" stroke="#e53a3a" stroke-width="1.6"/>
<line x1="575.58" y1="205.64" x2="575.58" y2="207.64" stroke="#4a5cc0" stroke-width="0.9"/>
<line x1="577.41" y1="205.64" x2="577.41" y2="207.64" stroke="#4a5cc0" stroke-width="0.9"/>
<line x1="595.66" y1="210.56" x2="595.66" y2="212.56" stroke="#4a5cc0" stroke-width="0.9"/>
<line x1="608.43" y1="215.67" x2="608.43" y2="217.67" stroke="#4a5cc0" stroke-width="0.9"/>
<line x1="619.38" y1="217.86" x2="619.38" y2="219.86" stroke="#4a5cc0" stroke-width="0.9"/>
<line x1="622.12" y1="217.86" x2="622.12" y2="219.86" stroke="#4a5cc0" stroke-width="0.9"/>
<line x1="624.85" y1="217.86" x2="624.85" y2="219.86" stroke="#4a5cc0" stroke-width="0.9"/>
<line x1="627.59" y1="217.86" x2="627.59" y2="219.86" stroke="#4a5cc0" stroke-width="0.9"/>
<line x1="629.42" y1="217.86" x2="629.42" y2="219.86" stroke="#4a5cc0" stroke-width="0.9"/>
<line x1="631.24" y1="217.86" x2="631.24" y2="219.86" stroke="#4a5cc0" stroke-width="0.9"/>
<line x1="633.07" y1="217.86" x2="633.07" y2="219.86" stroke="#4a5cc0" stroke-width="0.9"/>
<line x1="635.8" y1="217.86" x2="635.8" y2="219.86" stroke="#4a5cc0" stroke-width="0.9"/>
<line x1="638.54" y1="217.86" x2="638.54" y2="219.86" stroke="#4a5cc0" stroke-width="0.9"/>
<line x1="642.19" y1="217.86" x2="642.19" y2="219.86" stroke="#4a5cc0" stroke-width="0.9"/>
<line x1="654.05" y1="217.86" x2="654.05" y2="219.86" stroke="#4a5cc0" stroke-width="0.9"/>
<line x1="655.88" y1="217.86" x2="655.88" y2="219.86" stroke="#4a5cc0" stroke-width="0.9"/>
<line x1="581.97" y1="231.18" x2="581.97" y2="233.18" stroke="#e53a3a" stroke-width="0.9"/>
<line x1="594.74" y1="241.22" x2="594.74" y2="243.22" stroke="#e53a3a" stroke-width="0.9"/>
<line x1="620.29" y1="255.82" x2="620.29" y2="257.82" stroke="#e53a3a" stroke-width="0.9"/>
<line x1="623.03" y1="255.82" x2="623.03" y2="257.82" stroke="#e53a3a" stroke-width="0.9"/>
<line x1="625.77" y1="255.82" x2="625.77" y2="257.82" stroke="#e53a3a" stroke-width="0.9"/>
<line x1="627.59" y1="255.82" x2="627.59" y2="257.82" stroke="#e53a3a" stroke-width="0.9"/>
<line x1="630.33" y1="255.82" x2="630.33" y2="257.82" stroke="#e53a3a" stroke-width="0.9"/>
<line x1="633.07" y1="255.82" x2="633.07" y2="257.82" stroke="#e53a3a" stroke-width="0.9"/>
<line x1="635.8" y1="255.82" x2="635.8" y2="257.82" stroke="#e53a3a" stroke-width="0.9"/>
<line x1="638.54" y1="255.82" x2="638.54" y2="257.82" stroke="#e53a3a" stroke-width="0.9"/>
<line x1="641.28" y1="255.82" x2="641.28" y2="257.82" stroke="#e53a3a" stroke-width="0.9"/>
<text x="560.8" y="268.9" font-size="10" font-weight="bold" font-style="italic" textLength="37.4" lengthAdjust="spacingAndGlyphs">P&lt;0.001</text>
<line x1="546.5" y1="281.4" x2="559.8" y2="281.4" stroke="#e53a3a" stroke-width="1.3"/>
<line x1="553.15" y1="279.2" x2="553.15" y2="281.4" stroke="#e53a3a" stroke-width="0.9"/>
<text x="567.6" y="284.9" font-size="10" font-weight="bold" font-style="italic" textLength="102.8" lengthAdjust="spacingAndGlyphs">HIF1A-AS2-high n=57</text>
<line x1="546.5" y1="298" x2="559.8" y2="298" stroke="#4a5cc0" stroke-width="1.3"/>
<line x1="553.15" y1="295.8" x2="553.15" y2="298" stroke="#4a5cc0" stroke-width="0.9"/>
<text x="567" y="301.5" font-size="10" font-weight="bold" font-style="italic" textLength="98.3" lengthAdjust="spacingAndGlyphs">HIF1A-AS2-low n=49</text>
<text x="4.7" y="361.55" font-size="13" text-anchor="middle" fill="#1a1515">H</text>
<text x="68" y="365.6" font-size="11.7" font-weight="bold" textLength="84.7" lengthAdjust="spacingAndGlyphs">FUSCC dataset</text>
<line x1="45.2" y1="365.5" x2="45.2" y2="489.2" stroke="#000" stroke-width="1.4"/>
<line x1="44.5" y1="488.5" x2="167.8" y2="488.5" stroke="#000" stroke-width="1.4"/>
<line x1="41.4" y1="488.5" x2="45.2" y2="488.5" stroke="#000" stroke-width="1.2"/>
<text x="39.6" y="491.6" font-size="8.6" font-weight="bold" text-anchor="end">0</text>
<line x1="41.4" y1="432.75" x2="45.2" y2="432.75" stroke="#000" stroke-width="1.2"/>
<text x="39.6" y="435.85" font-size="8.6" font-weight="bold" text-anchor="end">50</text>
<line x1="41.4" y1="377" x2="45.2" y2="377" stroke="#000" stroke-width="1.2"/>
<text x="39.6" y="380.1" font-size="8.6" font-weight="bold" text-anchor="end">100</text>
<line x1="45.2" y1="488.5" x2="45.2" y2="491.5" stroke="#000" stroke-width="1.2"/>
<text x="45.2" y="502.5" font-size="9" font-weight="bold" text-anchor="middle">0</text>
<line x1="85.6" y1="488.5" x2="85.6" y2="491.5" stroke="#000" stroke-width="1.2"/>
<text x="85.6" y="502.5" font-size="9" font-weight="bold" text-anchor="middle">1000</text>
<line x1="126.5" y1="488.5" x2="126.5" y2="491.5" stroke="#000" stroke-width="1.2"/>
<text x="126.5" y="502.5" font-size="9" font-weight="bold" text-anchor="middle">2000</text>
<line x1="167.4" y1="488.5" x2="167.4" y2="491.5" stroke="#000" stroke-width="1.2"/>
<text x="167.4" y="502.5" font-size="9" font-weight="bold" text-anchor="middle">3000</text>
<text x="19.1" y="426.7" font-size="10.1" font-weight="bold" text-anchor="middle" transform="rotate(-90 19.1 426.7)">Disease free survival (%)</text>
<text x="106.6" y="516.8" font-size="9.6" font-weight="bold" text-anchor="middle">Days</text>
<path d="M44.28 377.02 L51.87 377.02 L51.87 378.54 L53.39 378.54 L53.39 380.44 L55.28 380.44 L55.28 382.9 L57.18 382.9 L57.18 385.18 L60.03 385.18 L60.03 388.03 L64.77 388.03 L64.77 390.49 L66.29 390.49 L66.29 396.57 L71.41 396.57 L71.41 399.41 L77.1 399.41 L77.1 400.36 L79.95 400.36 L79.95 402.26 L85.64 402.26 L85.64 405.1 L93.23 405.1 L93.23 407.95 L98.93 407.95 L98.93 409.85 L102.72 409.85 L102.72 411.75 L104.62 411.75 L104.62 414.59 L107.46 414.59 L107.46 417.44 L109.36 417.44 L109.36 420.28 L111.83 420.28 L111.83 425.03 L120.75 425.03 L120.75 427.87 L156.8 427.87" fill="none" stroke="#4a5cc0" stroke-width="1.2"/>
<path d="M44.28 377.02 L52.44 377.02 L52.44 378.54 L53.76 378.54 L53.76 382.33 L54.9 382.33 L54.9 392.77 L58.13 392.77 L58.13 397.51 L60.03 397.51 L60.03 403.21 L61.92 403.21 L61.92 407 L64.77 407 L64.77 409.85 L66.67 409.85 L66.67 413.64 L68.57 413.64 L68.57 417.44 L70.46 417.44 L70.46 420.85 L78.05 420.85 L78.05 424.08 L85.64 424.08 L85.64 426.93 L87.54 426.93 L87.54 430.72 L90.39 430.72 L90.39 433.57 L93.23 433.57 L93.23 435.46 L96.08 435.46 L96.08 437.93 L97.03 437.93 L97.03 442.11 L106.52 442.11 L106.52 444.95 L122.65 444.95 L122.65 447.8 L140.67 447.8" fill="none" stroke="#e53a3a" stroke-width="1.6"/>
<line x1="78.05" y1="398.66" x2="78.05" y2="400.66" stroke="#4a5cc0" stroke-width="0.9"/>
<line x1="81.85" y1="400.56" x2="81.85" y2="402.56" stroke="#4a5cc0" stroke-width="0.9"/>
<line x1="96.08" y1="406.25" x2="96.08" y2="408.25" stroke="#4a5cc0" stroke-width="0.9"/>
<line x1="99.87" y1="408.15" x2="99.87" y2="410.15" stroke="#4a5cc0" stroke-width="0.9"/>
<line x1="111.26" y1="418.58" x2="111.26" y2="420.58" stroke="#4a5cc0" stroke-width="0.9"/>
<line x1="122.65" y1="426.17" x2="122.65" y2="428.17" stroke="#4a5cc0" stroke-width="0.9"/>
<line x1="125.49" y1="426.17" x2="125.49" y2="428.17" stroke="#4a5cc0" stroke-width="0.9"/>
<line x1="128.34" y1="426.17" x2="128.34" y2="428.17" stroke="#4a5cc0" stroke-width="0.9"/>
<line x1="131.18" y1="426.17" x2="131.18" y2="428.17" stroke="#4a5cc0" stroke-width="0.9"/>
<line x1="134.98" y1="426.17" x2="134.98" y2="428.17" stroke="#4a5cc0" stroke-width="0.9"/>
<line x1="138.77" y1="426.17" x2="138.77" y2="428.17" stroke="#4a5cc0" stroke-width="0.9"/>
<line x1="141.62" y1="426.17" x2="141.62" y2="428.17" stroke="#4a5cc0" stroke-width="0.9"/>
<line x1="156.8" y1="426.17" x2="156.8" y2="428.17" stroke="#4a5cc0" stroke-width="0.9"/>
<line x1="125.49" y1="446.1" x2="125.49" y2="448.1" stroke="#e53a3a" stroke-width="0.9"/>
<line x1="128.34" y1="446.1" x2="128.34" y2="448.1" stroke="#e53a3a" stroke-width="0.9"/>
<line x1="131.18" y1="446.1" x2="131.18" y2="448.1" stroke="#e53a3a" stroke-width="0.9"/>
<line x1="136.88" y1="446.1" x2="136.88" y2="448.1" stroke="#e53a3a" stroke-width="0.9"/>
<line x1="138.77" y1="446.1" x2="138.77" y2="448.1" stroke="#e53a3a" stroke-width="0.9"/>
<text x="53.2" y="449.3" font-size="10" font-weight="bold" font-style="italic" textLength="37.8" lengthAdjust="spacingAndGlyphs">P=0.043</text>
<line x1="51.5" y1="460.1" x2="64.8" y2="460.1" stroke="#e53a3a" stroke-width="1.3"/>
<line x1="58.15" y1="457.9" x2="58.15" y2="460.1" stroke="#e53a3a" stroke-width="0.9"/>
<text x="72.6" y="463.6" font-size="10" font-weight="bold" font-style="italic" textLength="102.8" lengthAdjust="spacingAndGlyphs">HIF1A-AS2-high n=43</text>
<line x1="51.5" y1="473.8" x2="64.8" y2="473.8" stroke="#4a5cc0" stroke-width="1.3"/>
<line x1="58.15" y1="471.6" x2="58.15" y2="473.8" stroke="#4a5cc0" stroke-width="0.9"/>
<text x="72.6" y="477.3" font-size="10" font-weight="bold" font-style="italic" textLength="99.1" lengthAdjust="spacingAndGlyphs">HIF1A-AS2-low n=39</text>
<text x="256.1" y="540.65" font-size="13" text-anchor="middle" fill="#1a1515">L</text>
<text x="320.2" y="538" font-size="12" font-weight="bold" textLength="66.3" lengthAdjust="spacingAndGlyphs">TMA cohort</text>
<line x1="286.4" y1="544.5" x2="286.4" y2="674" stroke="#000" stroke-width="1.4"/>
<line x1="285.7" y1="673.3" x2="413.9" y2="673.3" stroke="#000" stroke-width="1.4"/>
<line x1="282.6" y1="673.3" x2="286.4" y2="673.3" stroke="#000" stroke-width="1.2"/>
<text x="281" y="676.54" font-size="9" font-weight="bold" text-anchor="end">0</text>
<line x1="282.6" y1="615" x2="286.4" y2="615" stroke="#000" stroke-width="1.2"/>
<text x="281" y="618.24" font-size="9" font-weight="bold" text-anchor="end">50</text>
<line x1="282.6" y1="556.7" x2="286.4" y2="556.7" stroke="#000" stroke-width="1.2"/>
<text x="281" y="559.94" font-size="9" font-weight="bold" text-anchor="end">100</text>
<line x1="286.1" y1="673.3" x2="286.1" y2="676.3" stroke="#000" stroke-width="1.2"/>
<text x="286.1" y="686.5" font-size="9" font-weight="bold" text-anchor="middle">0</text>
<line x1="317.8" y1="673.3" x2="317.8" y2="676.3" stroke="#000" stroke-width="1.2"/>
<text x="317.8" y="686.5" font-size="9" font-weight="bold" text-anchor="middle">1000</text>
<line x1="349.5" y1="673.3" x2="349.5" y2="676.3" stroke="#000" stroke-width="1.2"/>
<text x="349.5" y="686.5" font-size="9" font-weight="bold" text-anchor="middle">2000</text>
<line x1="381.6" y1="673.3" x2="381.6" y2="676.3" stroke="#000" stroke-width="1.2"/>
<text x="381.6" y="686.5" font-size="9" font-weight="bold" text-anchor="middle">3000</text>
<line x1="413.9" y1="673.3" x2="413.9" y2="676.3" stroke="#000" stroke-width="1.2"/>
<text x="413.9" y="686.5" font-size="9" font-weight="bold" text-anchor="middle">4000</text>
<text x="260.9" y="606.6" font-size="11" font-weight="bold" text-anchor="middle" transform="rotate(-90 260.9 606.6)">Overall survival (%)</text>
<text x="350.5" y="701.4" font-size="9.8" font-weight="bold" text-anchor="middle">Days</text>
<path d="M286.53 556.74 L294.24 556.74 L294.24 559.31 L303.88 559.31 L303.88 560.6 L309.5 560.6 L309.5 561.56 L311.1 561.56 L311.1 563.65 L312.71 563.65 L312.71 564.45 L317.53 564.45 L317.53 565.58 L320.74 565.58 L320.74 566.86 L324.43 566.86 L324.43 565.74 L325.07 565.74 L325.07 567.99 L327.16 567.99 L327.16 570.88 L328.77 570.88 L328.77 572.48 L329.89 572.48 L329.89 574.09 L338.4 574.09 L338.4 575.37 L340.81 575.37 L340.81 576.5 L342.42 576.5 L342.42 579.39 L360.08 579.39 L360.08 580.19 L379.35 580.19" fill="none" stroke="#4a5cc0" stroke-width="1.2"/>
<path d="M286.53 556.74 L288.62 556.74 L291.03 557.23 L292.64 558.83 L294.24 560.44 L296.65 563.17 L298.26 565.26 L300.67 566.38 L303.88 569.27 L307.09 571.2 L310.3 573.77 L313.51 575.37 L316.72 578.1 L321.54 579.39 L324.75 580.19 L329.57 581.32 L331.98 582.12 L333.59 583.72 L337.6 586.61 L340.81 587.42 L344.02 588.54 L347.24 589.83 L350.45 590.95 L353.66 592.07 L356.87 593.04 L360.08 594.16 L363.3 594.48 L364.9 594.97 L378.87 594.97 L378.87 611.02" fill="none" stroke="#e53a3a" stroke-width="2.4" stroke-linejoin="round"/>
<line x1="295.04" y1="557.61" x2="295.04" y2="559.61" stroke="#4a5cc0" stroke-width="0.9"/>
<line x1="302.27" y1="557.61" x2="302.27" y2="559.61" stroke="#4a5cc0" stroke-width="0.9"/>
<line x1="303.88" y1="558.9" x2="303.88" y2="560.9" stroke="#4a5cc0" stroke-width="0.9"/>
<line x1="331.18" y1="572.39" x2="331.18" y2="574.39" stroke="#4a5cc0" stroke-width="0.9"/>
<line x1="338.4" y1="573.67" x2="338.4" y2="575.67" stroke="#4a5cc0" stroke-width="0.9"/>
<line x1="350.45" y1="577.69" x2="350.45" y2="579.69" stroke="#4a5cc0" stroke-width="0.9"/>
<line x1="352.05" y1="577.69" x2="352.05" y2="579.69" stroke="#4a5cc0" stroke-width="0.9"/>
<line x1="353.66" y1="577.69" x2="353.66" y2="579.69" stroke="#4a5cc0" stroke-width="0.9"/>
<line x1="358.48" y1="577.69" x2="358.48" y2="579.69" stroke="#4a5cc0" stroke-width="0.9"/>
<line x1="363.3" y1="578.49" x2="363.3" y2="580.49" stroke="#4a5cc0" stroke-width="0.9"/>
<line x1="364.9" y1="578.49" x2="364.9" y2="580.49" stroke="#4a5cc0" stroke-width="0.9"/>
<line x1="366.51" y1="578.49" x2="366.51" y2="580.49" stroke="#4a5cc0" stroke-width="0.9"/>
<line x1="368.11" y1="578.49" x2="368.11" y2="580.49" stroke="#4a5cc0" stroke-width="0.9"/>
<line x1="369.72" y1="578.49" x2="369.72" y2="580.49" stroke="#4a5cc0" stroke-width="0.9"/>
<line x1="371.33" y1="578.49" x2="371.33" y2="580.49" stroke="#4a5cc0" stroke-width="0.9"/>
<line x1="372.93" y1="578.49" x2="372.93" y2="580.49" stroke="#4a5cc0" stroke-width="0.9"/>
<line x1="374.54" y1="578.49" x2="374.54" y2="580.49" stroke="#4a5cc0" stroke-width="0.9"/>
<line x1="376.14" y1="578.49" x2="376.14" y2="580.49" stroke="#4a5cc0" stroke-width="0.9"/>
<line x1="377.75" y1="578.49" x2="377.75" y2="580.49" stroke="#4a5cc0" stroke-width="0.9"/>
<text x="305.8" y="629.9" font-size="10" font-weight="bold" font-style="italic" textLength="38.8" lengthAdjust="spacingAndGlyphs">P=0.046</text>
<line x1="290.5" y1="642.8" x2="304.3" y2="642.8" stroke="#e53a3a" stroke-width="1.3"/>
<line x1="297.4" y1="640.6" x2="297.4" y2="642.8" stroke="#e53a3a" stroke-width="0.9"/>
<text x="312.4" y="646.7" font-size="10" font-weight="bold" font-style="italic" textLength="112.7" lengthAdjust="spacingAndGlyphs">HIF1A-AS2-high n=195</text>
<line x1="290.5" y1="660.3" x2="304.3" y2="660.3" stroke="#4a5cc0" stroke-width="1.3"/>
<line x1="297.4" y1="658.1" x2="297.4" y2="660.3" stroke="#4a5cc0" stroke-width="0.9"/>
<text x="311.7" y="663.6" font-size="10" font-weight="bold" font-style="italic" textLength="103.6" lengthAdjust="spacingAndGlyphs">HIF1A-AS2-low n=77</text>
<text x="185.5" y="359.45" font-size="13" text-anchor="middle" fill="#1a1515">I</text>
<rect x="194.2" y="360.6" width="62" height="62" filter="url(#mf0)"/>
<rect x="194.2" y="428.2" width="62" height="61.7" filter="url(#mf5)"/>
<rect x="258.8" y="360.6" width="62" height="62" filter="url(#mf1)"/>
<rect x="258.8" y="428.2" width="62" height="61.7" filter="url(#mf6)"/>
<rect x="322.8" y="360.6" width="62" height="62" filter="url(#mf2)"/>
<rect x="322.8" y="428.2" width="62" height="61.7" filter="url(#mf7)"/>
<rect x="387" y="360.6" width="62" height="62" filter="url(#mf3)"/>
<rect x="387" y="428.2" width="62" height="61.7" filter="url(#mf8)"/>
<rect x="451.2" y="360.6" width="62" height="62" filter="url(#mf4)"/>
<rect x="451.2" y="428.2" width="62" height="61.7" filter="url(#mf9)"/>
<g clip-path="url(#ci0t)">
<ellipse cx="195.57" cy="361.81" rx="2.7" ry="2.14" fill="#020206" opacity="0.95" transform="rotate(-17.339396172816404 195.57 361.81)" filter="url(#sblur)"/>
<ellipse cx="204.26" cy="363.44" rx="3.1" ry="2.69" fill="#020206" opacity="0.95" transform="rotate(-11.122872972387295 204.26 363.44)" filter="url(#sblur)"/>
<ellipse cx="212.89" cy="362.15" rx="2.47" ry="2.1" fill="#020206" opacity="0.95" transform="rotate(-11.42398269684334 212.89 362.15)" filter="url(#sblur)"/>
<ellipse cx="222.13" cy="363.26" rx="3.11" ry="2.72" fill="#020206" opacity="0.95" transform="rotate(-12.262575279230399 222.13 363.26)" filter="url(#sblur)"/>
<ellipse cx="228.94" cy="362.85" rx="3.03" ry="2.77" fill="#020206" opacity="0.95" transform="rotate(15.202030054447974 228.94 362.85)" filter="url(#sblur)"/>
<ellipse cx="236.71" cy="362.81" rx="2.97" ry="2.46" fill="#020206" opacity="0.95" transform="rotate(-12.888393030368622 236.71 362.81)" filter="url(#sblur)"/>
<ellipse cx="245.94" cy="361.78" rx="3.23" ry="2.78" fill="#020206" opacity="0.95" transform="rotate(1.905554783482156 245.94 361.78)" filter="url(#sblur)"/>
<ellipse cx="253.82" cy="363.42" rx="2.87" ry="2.79" fill="#020206" opacity="0.95" transform="rotate(13.921763528945384 253.82 363.42)" filter="url(#sblur)"/>
<ellipse cx="262.62" cy="362.43" rx="2.9" ry="2.39" fill="#020206" opacity="0.95" transform="rotate(-13.547175755135662 262.62 362.43)" filter="url(#sblur)"/>
<ellipse cx="199.83" cy="370.83" rx="2.34" ry="2.04" fill="#020206" opacity="0.95" transform="rotate(5.054029821596139 199.83 370.83)" filter="url(#sblur)"/>
<ellipse cx="208.07" cy="370.27" rx="2.77" ry="2.31" fill="#020206" opacity="0.95" transform="rotate(19.891154966884493 208.07 370.27)" filter="url(#sblur)"/>
<ellipse cx="216.17" cy="370.03" rx="2.5" ry="2.57" fill="#020206" opacity="0.95" transform="rotate(-8.947806601612672 216.17 370.03)" filter="url(#sblur)"/>
<ellipse cx="224.85" cy="370.69" rx="2.62" ry="2.5" fill="#020206" opacity="0.95" transform="rotate(16.17260406122631 224.85 370.69)" filter="url(#sblur)"/>
<ellipse cx="232.54" cy="369.32" rx="2.53" ry="2.69" fill="#020206" opacity="0.95" transform="rotate(4.617283005147886 232.54 369.32)" filter="url(#sblur)"/>
<ellipse cx="241.17" cy="369.86" rx="2.48" ry="2.41" fill="#020206" opacity="0.95" transform="rotate(-18.287552488719214 241.17 369.86)" filter="url(#sblur)"/>
<ellipse cx="250.57" cy="370.99" rx="3.25" ry="2.66" fill="#020206" opacity="0.95" transform="rotate(18.394703664518048 250.57 370.99)" filter="url(#sblur)"/>
<ellipse cx="257.24" cy="369.78" rx="3.27" ry="2.7" fill="#020206" opacity="0.95" transform="rotate(-3.5828927572449807 257.24 369.78)" filter="url(#sblur)"/>
<ellipse cx="267.76" cy="370.44" rx="3.12" ry="2.26" fill="#020206" opacity="0.95" transform="rotate(-12.343391807650427 267.76 370.44)" filter="url(#sblur)"/>
<ellipse cx="196.07" cy="377.07" rx="2.68" ry="2.87" fill="#020206" opacity="0.95" transform="rotate(-6.747710832032542 196.07 377.07)" filter="url(#sblur)"/>
<ellipse cx="203.32" cy="376.89" rx="2.47" ry="2.71" fill="#020206" opacity="0.95" transform="rotate(-5.491029322986227 203.32 376.89)" filter="url(#sblur)"/>
<ellipse cx="212.3" cy="376.99" rx="3.28" ry="2.38" fill="#020206" opacity="0.95" transform="rotate(-11.683326329702668 212.3 376.99)" filter="url(#sblur)"/>
<ellipse cx="220.04" cy="376.91" rx="2.47" ry="2.61" fill="#020206" opacity="0.95" transform="rotate(-14.01437860533074 220.04 376.91)" filter="url(#sblur)"/>
<ellipse cx="228.3" cy="377.78" rx="2.55" ry="2.9" fill="#020206" opacity="0.95" transform="rotate(-15.10906969462322 228.3 377.78)" filter="url(#sblur)"/>
<ellipse cx="237.77" cy="378.35" rx="2.71" ry="2.89" fill="#020206" opacity="0.95" transform="rotate(-0.8895214790783115 237.77 378.35)" filter="url(#sblur)"/>
<ellipse cx="245.38" cy="377.62" rx="2.34" ry="2.38" fill="#020206" opacity="0.95" transform="rotate(-10.056561038662299 245.38 377.62)" filter="url(#sblur)"/>
<ellipse cx="255.23" cy="378.46" rx="2.8" ry="2.03" fill="#020206" opacity="0.95" transform="rotate(-9.82425354320187 255.23 378.46)" filter="url(#sblur)"/>
<ellipse cx="261.98" cy="377.22" rx="2.53" ry="2.78" fill="#020206" opacity="0.95" transform="rotate(-14.331929288800339 261.98 377.22)" filter="url(#sblur)"/>
<ellipse cx="199.22" cy="386.26" rx="2.87" ry="2.89" fill="#020206" opacity="0.95" transform="rotate(-3.88151736177349 199.22 386.26)" filter="url(#sblur)"/>
<ellipse cx="209.56" cy="385.71" rx="3.09" ry="2.67" fill="#020206" opacity="0.95" transform="rotate(-0.22847909108618225 209.56 385.71)" filter="url(#sblur)"/>
<ellipse cx="215.92" cy="384.82" rx="3.17" ry="2.81" fill="#020206" opacity="0.95" transform="rotate(16.983094860749112 215.92 384.82)" filter="url(#sblur)"/>
<ellipse cx="224.81" cy="385.71" rx="3.1" ry="2.58" fill="#020206" opacity="0.95" transform="rotate(12.593046849962818 224.81 385.71)" filter="url(#sblur)"/>
<ellipse cx="233.57" cy="385.71" rx="2.99" ry="2.24" fill="#020206" opacity="0.95" transform="rotate(16.911998508030727 233.57 385.71)" filter="url(#sblur)"/>
<ellipse cx="242.9" cy="384.55" rx="3.27" ry="2.87" fill="#020206" opacity="0.95" transform="rotate(6.734075305240623 242.9 384.55)" filter="url(#sblur)"/>
<ellipse cx="249.01" cy="386.2" rx="2.43" ry="2.87" fill="#020206" opacity="0.95" transform="rotate(6.68759669551639 249.01 386.2)" filter="url(#sblur)"/>
<ellipse cx="257.35" cy="384.73" rx="2.94" ry="2.51" fill="#020206" opacity="0.95" transform="rotate(9.859782279648218 257.35 384.73)" filter="url(#sblur)"/>
<ellipse cx="267.73" cy="384.84" rx="2.3" ry="2.83" fill="#020206" opacity="0.95" transform="rotate(-19.475588914749324 267.73 384.84)" filter="url(#sblur)"/>
<ellipse cx="197.1" cy="392.23" rx="3.11" ry="2.7" fill="#020206" opacity="0.95" transform="rotate(15.115114814739044 197.1 392.23)" filter="url(#sblur)"/>
<ellipse cx="204.62" cy="393.76" rx="2.5" ry="2.6" fill="#020206" opacity="0.95" transform="rotate(-6.774275356999286 204.62 393.76)" filter="url(#sblur)"/>
<ellipse cx="213.74" cy="393.55" rx="2.77" ry="2.47" fill="#020206" opacity="0.95" transform="rotate(-18.94426164657201 213.74 393.55)" filter="url(#sblur)"/>
<ellipse cx="219.98" cy="393.19" rx="2.79" ry="2.78" fill="#020206" opacity="0.95" transform="rotate(4.325005940828568 219.98 393.19)" filter="url(#sblur)"/>
<ellipse cx="228.53" cy="392.73" rx="3.07" ry="2.47" fill="#020206" opacity="0.95" transform="rotate(-19.5779492566173 228.53 392.73)" filter="url(#sblur)"/>
<ellipse cx="238.51" cy="393.66" rx="2.39" ry="2.49" fill="#020206" opacity="0.95" transform="rotate(-4.753678975894244 238.51 393.66)" filter="url(#sblur)"/>
<ellipse cx="246.69" cy="392.62" rx="2.53" ry="2.44" fill="#020206" opacity="0.95" transform="rotate(18.651144325750458 246.69 392.62)" filter="url(#sblur)"/>
<ellipse cx="253.33" cy="392.23" rx="2.92" ry="2.8" fill="#020206" opacity="0.95" transform="rotate(0.49898594605493685 253.33 392.23)" filter="url(#sblur)"/>
<ellipse cx="262.44" cy="393.72" rx="3.08" ry="2.06" fill="#020206" opacity="0.95" transform="rotate(15.252997559522342 262.44 393.72)" filter="url(#sblur)"/>
<ellipse cx="199.57" cy="400.2" rx="3.14" ry="2.38" fill="#020206" opacity="0.95" transform="rotate(11.933954822507843 199.57 400.2)" filter="url(#sblur)"/>
<ellipse cx="207.8" cy="401.35" rx="2.48" ry="2.13" fill="#020206" opacity="0.95" transform="rotate(-0.22979084854680565 207.8 401.35)" filter="url(#sblur)"/>
<ellipse cx="216.51" cy="400.68" rx="3.2" ry="2.64" fill="#020206" opacity="0.95" transform="rotate(-19.777515039412883 216.51 400.68)" filter="url(#sblur)"/>
<ellipse cx="224.75" cy="400.69" rx="2.79" ry="2.64" fill="#020206" opacity="0.95" transform="rotate(-0.6300218324930995 224.75 400.69)" filter="url(#sblur)"/>
<ellipse cx="232.48" cy="400.09" rx="3.15" ry="2.32" fill="#020206" opacity="0.95" transform="rotate(10.666797214869664 232.48 400.09)" filter="url(#sblur)"/>
<ellipse cx="242.97" cy="400.85" rx="2.98" ry="2.55" fill="#020206" opacity="0.95" transform="rotate(-7.4690972137198575 242.97 400.85)" filter="url(#sblur)"/>
<ellipse cx="251.09" cy="400.53" rx="3.21" ry="2.28" fill="#020206" opacity="0.95" transform="rotate(14.701043518382626 251.09 400.53)" filter="url(#sblur)"/>
<ellipse cx="259.09" cy="400.83" rx="2.74" ry="2.13" fill="#020206" opacity="0.95" transform="rotate(10.84168571146968 259.09 400.83)" filter="url(#sblur)"/>
<ellipse cx="266.37" cy="400.92" rx="2.43" ry="2.07" fill="#020206" opacity="0.95" transform="rotate(-14.242469169083986 266.37 400.92)" filter="url(#sblur)"/>
<ellipse cx="196.94" cy="407.56" rx="3.2" ry="2.33" fill="#020206" opacity="0.95" transform="rotate(3.039299188224952 196.94 407.56)" filter="url(#sblur)"/>
<ellipse cx="204.14" cy="408.44" rx="2.39" ry="2.36" fill="#020206" opacity="0.95" transform="rotate(17.447523148144903 204.14 408.44)" filter="url(#sblur)"/>
<ellipse cx="212.03" cy="408.51" rx="2.63" ry="2.27" fill="#020206" opacity="0.95" transform="rotate(-19.073145209619604 212.03 408.51)" filter="url(#sblur)"/>
<ellipse cx="219.95" cy="409.1" rx="3.13" ry="2.72" fill="#020206" opacity="0.95" transform="rotate(12.290005330114276 219.95 409.1)" filter="url(#sblur)"/>
<ellipse cx="230.49" cy="407.52" rx="2.88" ry="2.45" fill="#020206" opacity="0.95" transform="rotate(2.9545792914978044 230.49 407.52)" filter="url(#sblur)"/>
<ellipse cx="238.75" cy="408.72" rx="3.27" ry="2.11" fill="#020206" opacity="0.95" transform="rotate(6.062242829540573 238.75 408.72)" filter="url(#sblur)"/>
<ellipse cx="246.42" cy="408.69" rx="2.92" ry="2.75" fill="#020206" opacity="0.95" transform="rotate(-7.885397418506548 246.42 408.69)" filter="url(#sblur)"/>
<ellipse cx="255.33" cy="408.01" rx="2.9" ry="2.81" fill="#020206" opacity="0.95" transform="rotate(8.143579429721676 255.33 408.01)" filter="url(#sblur)"/>
<ellipse cx="262.14" cy="407.66" rx="2.63" ry="2.56" fill="#020206" opacity="0.95" transform="rotate(19.85796673652051 262.14 407.66)" filter="url(#sblur)"/>
<ellipse cx="201.26" cy="415.6" rx="2.7" ry="2.74" fill="#020206" opacity="0.95" transform="rotate(-8.649149108442487 201.26 415.6)" filter="url(#sblur)"/>
<ellipse cx="208.39" cy="414.83" rx="2.48" ry="2.49" fill="#020206" opacity="0.95" transform="rotate(7.73157464299636 208.39 414.83)" filter="url(#sblur)"/>
<ellipse cx="217.18" cy="415.53" rx="3.25" ry="2.56" fill="#020206" opacity="0.95" transform="rotate(-13.757898357121201 217.18 415.53)" filter="url(#sblur)"/>
<ellipse cx="224.16" cy="416.75" rx="3.29" ry="2.83" fill="#020206" opacity="0.95" transform="rotate(4.152144728970203 224.16 416.75)" filter="url(#sblur)"/>
<ellipse cx="233.05" cy="414.98" rx="2.56" ry="2.2" fill="#020206" opacity="0.95" transform="rotate(17.12977214957629 233.05 414.98)" filter="url(#sblur)"/>
<ellipse cx="242.74" cy="416.36" rx="2.45" ry="2.21" fill="#020206" opacity="0.95" transform="rotate(-8.031456728982134 242.74 416.36)" filter="url(#sblur)"/>
<ellipse cx="251.18" cy="415.13" rx="3.09" ry="2.61" fill="#020206" opacity="0.95" transform="rotate(1.885410163711164 251.18 415.13)" filter="url(#sblur)"/>
<ellipse cx="259.5" cy="415.32" rx="2.82" ry="2.14" fill="#020206" opacity="0.95" transform="rotate(-16.1294963343476 259.5 415.32)" filter="url(#sblur)"/>
<ellipse cx="265.58" cy="415.43" rx="2.42" ry="2.06" fill="#020206" opacity="0.95" transform="rotate(19.701822889845964 265.58 415.43)" filter="url(#sblur)"/>
<ellipse cx="195.69" cy="424.18" rx="3" ry="2.66" fill="#020206" opacity="0.95" transform="rotate(6.207174484419763 195.69 424.18)" filter="url(#sblur)"/>
<ellipse cx="205.59" cy="424.16" rx="3.02" ry="2.5" fill="#020206" opacity="0.95" transform="rotate(7.750476599513924 205.59 424.16)" filter="url(#sblur)"/>
<ellipse cx="213.34" cy="423.5" rx="2.8" ry="2.14" fill="#020206" opacity="0.95" transform="rotate(13.773423522150054 213.34 423.5)" filter="url(#sblur)"/>
<ellipse cx="221.06" cy="422.54" rx="2.47" ry="2.79" fill="#020206" opacity="0.95" transform="rotate(-9.757179762471697 221.06 422.54)" filter="url(#sblur)"/>
<ellipse cx="229.14" cy="423.76" rx="3.16" ry="2.3" fill="#020206" opacity="0.95" transform="rotate(-4.527778309011188 229.14 423.76)" filter="url(#sblur)"/>
<ellipse cx="237.52" cy="422.46" rx="3.18" ry="2.02" fill="#020206" opacity="0.95" transform="rotate(18.403776821334397 237.52 422.46)" filter="url(#sblur)"/>
<ellipse cx="245.17" cy="422.71" rx="3.15" ry="2.74" fill="#020206" opacity="0.95" transform="rotate(-10.719271233297615 245.17 422.71)" filter="url(#sblur)"/>
<ellipse cx="254.43" cy="423.35" rx="3.02" ry="2.17" fill="#020206" opacity="0.95" transform="rotate(13.019608393999498 254.43 423.35)" filter="url(#sblur)"/>
<ellipse cx="263.79" cy="423.81" rx="3.22" ry="2.84" fill="#020206" opacity="0.95" transform="rotate(-4.821667570999217 263.79 423.81)" filter="url(#sblur)"/>
</g>
<g clip-path="url(#ci0b)">
<ellipse cx="207.2" cy="455.2" rx="14" ry="15" fill="#030308" opacity="0.97" filter="url(#sblur2)"/>
<ellipse cx="232.2" cy="475.2" rx="14" ry="13" fill="#030308" opacity="0.97" filter="url(#sblur2)"/>
<ellipse cx="247.2" cy="442.2" rx="11" ry="13" fill="#030308" opacity="0.97" filter="url(#sblur2)"/>
</g>
<g clip-path="url(#ci1t)">
<ellipse cx="265.8" cy="377.6" rx="5.5" ry="6" fill="#6a1020" opacity="0.55" filter="url(#sblur)"/>
<ellipse cx="308.8" cy="387.6" rx="10" ry="4" fill="#801420" opacity="0.45" transform="rotate(-10 308.8 387.6)" filter="url(#sblur)"/>
<ellipse cx="286.8" cy="418.6" rx="7" ry="3" fill="#801420" opacity="0.4" filter="url(#sblur)"/>
<ellipse cx="274.8" cy="374.6" rx="4" ry="3" fill="#020206" opacity="0.8" filter="url(#sblur)"/>
</g>
<g clip-path="url(#ci2t)">
<ellipse cx="368.65" cy="410.63" rx="9.52" ry="1.66" fill="#04040c" opacity="0.7" transform="rotate(30 368.65 410.63)" filter="url(#sblur)"/>
<ellipse cx="336.11" cy="399.41" rx="11.38" ry="2.4" fill="#04040c" opacity="0.7" transform="rotate(35 336.11 399.41)" filter="url(#sblur)"/>
<ellipse cx="367.04" cy="373.32" rx="9.47" ry="2.7" fill="#04040c" opacity="0.7" transform="rotate(30 367.04 373.32)" filter="url(#sblur)"/>
<ellipse cx="364.86" cy="389.25" rx="11" ry="2.71" fill="#04040c" opacity="0.7" transform="rotate(35 364.86 389.25)" filter="url(#sblur)"/>
<ellipse cx="371.3" cy="414.19" rx="11.3" ry="2.49" fill="#04040c" opacity="0.7" transform="rotate(35 371.3 414.19)" filter="url(#sblur)"/>
<ellipse cx="354.08" cy="392.23" rx="11.92" ry="2.03" fill="#04040c" opacity="0.7" transform="rotate(35 354.08 392.23)" filter="url(#sblur)"/>
<ellipse cx="328.43" cy="363.19" rx="9.11" ry="2.74" fill="#04040c" opacity="0.7" transform="rotate(40 328.43 363.19)" filter="url(#sblur)"/>
</g>
<g clip-path="url(#ci3t)">
<ellipse cx="389.42" cy="402.51" rx="4.35" ry="1.8" fill="#0a0208" opacity="0.7" transform="rotate(-43.46098807748221 389.42 402.51)" filter="url(#sblur)"/>
<ellipse cx="406.13" cy="392.07" rx="6.56" ry="2.02" fill="#0a0208" opacity="0.7" transform="rotate(40.666689277501206 406.13 392.07)" filter="url(#sblur)"/>
<ellipse cx="391.43" cy="374.62" rx="4.1" ry="2.15" fill="#0a0208" opacity="0.7" transform="rotate(46.87336808415776 391.43 374.62)" filter="url(#sblur)"/>
<ellipse cx="447.35" cy="361.25" rx="5.79" ry="1.41" fill="#0a0208" opacity="0.7" transform="rotate(-30.094567635510224 447.35 361.25)" filter="url(#sblur)"/>
<ellipse cx="432.78" cy="381.99" rx="6.93" ry="2.06" fill="#0a0208" opacity="0.7" transform="rotate(15.862810854440426 432.78 381.99)" filter="url(#sblur)"/>
<ellipse cx="411.96" cy="371.32" rx="4.97" ry="1.26" fill="#0a0208" opacity="0.7" transform="rotate(1.2753786409518426 411.96 371.32)" filter="url(#sblur)"/>
<ellipse cx="418.55" cy="395.31" rx="4.13" ry="1.41" fill="#0a0208" opacity="0.7" transform="rotate(24.405301306309156 418.55 395.31)" filter="url(#sblur)"/>
<ellipse cx="406.95" cy="373.91" rx="4.91" ry="1.64" fill="#0a0208" opacity="0.7" transform="rotate(56.60922671193934 406.95 373.91)" filter="url(#sblur)"/>
<ellipse cx="407.54" cy="416.93" rx="6.8" ry="2.13" fill="#0a0208" opacity="0.7" transform="rotate(-10.852584849708308 407.54 416.93)" filter="url(#sblur)"/>
<ellipse cx="433.52" cy="373.63" rx="4.12" ry="1.29" fill="#0a0208" opacity="0.7" transform="rotate(-11.635383131887792 433.52 373.63)" filter="url(#sblur)"/>
</g>
<g clip-path="url(#ci4t)">
<path d="M453.2 403.6 L461.2 396.6 L469.2 388.6 L475.2 378.6 L479.2 368.6 L481.2 362.6" fill="none" stroke="#050105" stroke-width="2.6" opacity="0.9" filter="url(#sblur)"/>
<path d="M497.2 422.6 L494.2 410.6 L492.2 400.6 L497.2 393.6" fill="none" stroke="#050105" stroke-width="1.6" opacity="0.85" filter="url(#sblur)"/>
<path d="M459.2 380.6 L465.2 372.6" fill="none" stroke="#050105" stroke-width="1.4" opacity="0.8" filter="url(#sblur)"/>
<ellipse cx="473.2" cy="384.6" rx="6" ry="3" fill="#801418" opacity="0.4" transform="rotate(-45 473.2 384.6)" filter="url(#sblur)"/>
</g>
<g clip-path="url(#ci2b)">
<ellipse cx="340.8" cy="474.2" rx="13" ry="10" fill="#05030a" opacity="0.8" filter="url(#sblur2)"/>
<ellipse cx="366.8" cy="442.2" rx="7" ry="12" fill="#05030a" opacity="0.7" transform="rotate(20 366.8 442.2)" filter="url(#sblur2)"/>
</g>
<g clip-path="url(#ci3b)">
<ellipse cx="409" cy="434.2" rx="22" ry="4" fill="#0a0208" opacity="0.75" transform="rotate(-5 409 434.2)" filter="url(#sblur2)"/>
<ellipse cx="427" cy="458.2" rx="26" ry="3" fill="#501018" opacity="0.7" transform="rotate(-12 427 458.2)" filter="url(#sblur2)"/>
<ellipse cx="417" cy="480.2" rx="30" ry="3" fill="#601018" opacity="0.6" transform="rotate(-8 417 480.2)" filter="url(#sblur2)"/>
</g>
<g clip-path="url(#ci4b)">
<path d="M477.2 456.2 L484.2 465.2 L491.2 474.2 L497.2 484.2 L501.2 490.2" fill="none" stroke="#040104" stroke-width="3" opacity="0.9" filter="url(#sblur)"/>
<ellipse cx="454.2" cy="448.2" rx="3" ry="16" fill="#a81c20" opacity="0.45" filter="url(#sblur)"/>
</g>
<rect x="224.6" y="362.4" width="16.2" height="16.2" fill="none" stroke="#e8e8e8" stroke-width="0.9"/>
<line x1="224.6" y1="378.6" x2="194.7" y2="422.1" stroke="#e8e8e8" stroke-width="0.9"/>
<line x1="240.8" y1="378.6" x2="255.7" y2="422.1" stroke="#e8e8e8" stroke-width="0.9"/>
<rect x="274.4" y="384.5" width="16.2" height="16.2" fill="none" stroke="#e8e8e8" stroke-width="0.9"/>
<line x1="274.4" y1="400.7" x2="259.3" y2="422.1" stroke="#e8e8e8" stroke-width="0.9"/>
<line x1="290.6" y1="400.7" x2="320.3" y2="422.1" stroke="#e8e8e8" stroke-width="0.9"/>
<rect x="353.4" y="396.1" width="16.2" height="16.2" fill="none" stroke="#e8e8e8" stroke-width="0.9"/>
<line x1="353.4" y1="412.3" x2="323.3" y2="422.1" stroke="#e8e8e8" stroke-width="0.9"/>
<line x1="369.6" y1="412.3" x2="384.3" y2="422.1" stroke="#e8e8e8" stroke-width="0.9"/>
<rect x="432.1" y="371.3" width="15.8" height="15.8" fill="none" stroke="#e8e8e8" stroke-width="0.9"/>
<line x1="432.1" y1="387.1" x2="387.5" y2="422.1" stroke="#e8e8e8" stroke-width="0.9"/>
<line x1="447.9" y1="387.1" x2="448.5" y2="422.1" stroke="#e8e8e8" stroke-width="0.9"/>
<rect x="488.7" y="365.8" width="15.8" height="15.8" fill="none" stroke="#e8e8e8" stroke-width="0.9"/>
<line x1="488.7" y1="381.6" x2="451.7" y2="422.1" stroke="#e8e8e8" stroke-width="0.9"/>
<line x1="504.5" y1="381.6" x2="512.7" y2="422.1" stroke="#e8e8e8" stroke-width="0.9"/>
<line x1="197.2" y1="419.6" x2="206.2" y2="419.6" stroke="#bbb" stroke-width="0.6"/>
<line x1="197.2" y1="486.9" x2="204.2" y2="486.9" stroke="#bbb" stroke-width="0.6"/>
<line x1="261.8" y1="419.6" x2="270.8" y2="419.6" stroke="#bbb" stroke-width="0.6"/>
<line x1="261.8" y1="486.9" x2="268.8" y2="486.9" stroke="#bbb" stroke-width="0.6"/>
<line x1="325.8" y1="419.6" x2="334.8" y2="419.6" stroke="#bbb" stroke-width="0.6"/>
<line x1="325.8" y1="486.9" x2="332.8" y2="486.9" stroke="#bbb" stroke-width="0.6"/>
<line x1="390" y1="419.6" x2="399" y2="419.6" stroke="#bbb" stroke-width="0.6"/>
<line x1="390" y1="486.9" x2="397" y2="486.9" stroke="#bbb" stroke-width="0.6"/>
<line x1="454.2" y1="419.6" x2="463.2" y2="419.6" stroke="#bbb" stroke-width="0.6"/>
<line x1="454.2" y1="486.9" x2="461.2" y2="486.9" stroke="#bbb" stroke-width="0.6"/>
<text x="226.2" y="506.3" font-size="12.9" text-anchor="middle" fill="#1a1a1a">Normal</text>
<text x="290.8" y="506.3" font-size="12.9" text-anchor="middle" fill="#1a1a1a">Stage I</text>
<text x="354.8" y="506.3" font-size="12.9" text-anchor="middle" fill="#1a1a1a">Stage II</text>
<text x="419" y="506.3" font-size="12.9" text-anchor="middle" fill="#1a1a1a">Stage III</text>
<text x="483.2" y="506.3" font-size="12.9" text-anchor="middle" fill="#1a1a1a">Stage IV</text>
<text x="528.5" y="361.75" font-size="13" text-anchor="middle" fill="#1a1515">J</text>
<text x="575.5" y="366.7" font-size="12" font-weight="bold" textLength="65.7" lengthAdjust="spacingAndGlyphs">TMA <tspan font-style="italic">cohort</tspan></text>
<line x1="555.7" y1="372.6" x2="555.7" y2="497.9" stroke="#000" stroke-width="1.4"/>
<line x1="555" y1="497.2" x2="680.8" y2="497.2" stroke="#000" stroke-width="1.4"/>
<line x1="552" y1="497.2" x2="555.7" y2="497.2" stroke="#000" stroke-width="1.2"/>
<text x="551" y="500.2" font-size="8.4" font-weight="bold" text-anchor="end">0</text>
<line x1="552" y1="472.38" x2="555.7" y2="472.38" stroke="#000" stroke-width="1.2"/>
<text x="551" y="475.38" font-size="8.4" font-weight="bold" text-anchor="end">2</text>
<line x1="552" y1="447.56" x2="555.7" y2="447.56" stroke="#000" stroke-width="1.2"/>
<text x="551" y="450.56" font-size="8.4" font-weight="bold" text-anchor="end">4</text>
<line x1="552" y1="422.74" x2="555.7" y2="422.74" stroke="#000" stroke-width="1.2"/>
<text x="551" y="425.74" font-size="8.4" font-weight="bold" text-anchor="end">6</text>
<line x1="552" y1="397.92" x2="555.7" y2="397.92" stroke="#000" stroke-width="1.2"/>
<text x="551" y="400.92" font-size="8.4" font-weight="bold" text-anchor="end">8</text>
<line x1="552" y1="373.1" x2="555.7" y2="373.1" stroke="#000" stroke-width="1.2"/>
<text x="551" y="376.1" font-size="8.4" font-weight="bold" text-anchor="end">10</text>
<line x1="591.8" y1="497.2" x2="591.8" y2="500.2" stroke="#000" stroke-width="1.2"/>
<line x1="644.6" y1="497.2" x2="644.6" y2="500.2" stroke="#000" stroke-width="1.2"/>
<text x="535.1" y="434.75" font-size="10.37" text-anchor="middle" fill="#111" transform="rotate(-90 535.1 434.75)">HIF1A-AS2 scores</text>
<text x="591.7" y="511.2" font-size="9.5" font-weight="bold" text-anchor="middle">Normal</text>
<text x="644.9" y="511.2" font-size="9.5" font-weight="bold" text-anchor="middle">Tumor</text>
<text x="618" y="388.4" font-size="10.5" font-weight="bold" text-anchor="middle" fill="#444">***</text>
<path d="M590.4 390.6 L590.4 387.8 L643.7 387.8 L643.7 390.6" fill="none" stroke="#3a3a3a" stroke-width="1.3"/>
<path d="M575.35 424.6L578.45 424.6L576.9 421.88Z" fill="#3e5cc0"/>
<path d="M579.54 424.6L582.64 424.6L581.09 421.88Z" fill="#3e5cc0"/>
<path d="M583.72 424.6L586.82 424.6L585.27 421.88Z" fill="#3e5cc0"/>
<path d="M587.91 424.6L591.01 424.6L589.46 421.88Z" fill="#3e5cc0"/>
<path d="M592.09 424.6L595.19 424.6L593.64 421.88Z" fill="#3e5cc0"/>
<path d="M596.28 424.6L599.38 424.6L597.83 421.88Z" fill="#3e5cc0"/>
<path d="M600.46 424.6L603.56 424.6L602.01 421.88Z" fill="#3e5cc0"/>
<path d="M604.65 424.6L607.75 424.6L606.2 421.88Z" fill="#3e5cc0"/>
<rect x="573.3" y="447.36" width="36.5" height="2" fill="#3e5cc0"/>
<path d="M572.7 449.09L575.5 449.09L574.1 446.63Z" fill="#3e5cc0"/>
<path d="M574.36 449.09L577.16 449.09L575.76 446.63Z" fill="#3e5cc0"/>
<path d="M576.02 449.09L578.82 449.09L577.42 446.63Z" fill="#3e5cc0"/>
<path d="M577.69 449.09L580.49 449.09L579.09 446.63Z" fill="#3e5cc0"/>
<path d="M579.35 449.09L582.15 449.09L580.75 446.63Z" fill="#3e5cc0"/>
<path d="M581.01 449.09L583.81 449.09L582.41 446.63Z" fill="#3e5cc0"/>
<path d="M582.67 449.09L585.47 449.09L584.07 446.63Z" fill="#3e5cc0"/>
<path d="M584.33 449.09L587.13 449.09L585.73 446.63Z" fill="#3e5cc0"/>
<path d="M586 449.09L588.8 449.09L587.4 446.63Z" fill="#3e5cc0"/>
<path d="M587.66 449.09L590.46 449.09L589.06 446.63Z" fill="#3e5cc0"/>
<path d="M589.32 449.09L592.12 449.09L590.72 446.63Z" fill="#3e5cc0"/>
<path d="M590.98 449.09L593.78 449.09L592.38 446.63Z" fill="#3e5cc0"/>
<path d="M592.64 449.09L595.44 449.09L594.04 446.63Z" fill="#3e5cc0"/>
<path d="M594.3 449.09L597.1 449.09L595.7 446.63Z" fill="#3e5cc0"/>
<path d="M595.97 449.09L598.77 449.09L597.37 446.63Z" fill="#3e5cc0"/>
<path d="M597.63 449.09L600.43 449.09L599.03 446.63Z" fill="#3e5cc0"/>
<path d="M599.29 449.09L602.09 449.09L600.69 446.63Z" fill="#3e5cc0"/>
<path d="M600.95 449.09L603.75 449.09L602.35 446.63Z" fill="#3e5cc0"/>
<path d="M602.61 449.09L605.41 449.09L604.01 446.63Z" fill="#3e5cc0"/>
<path d="M604.28 449.09L607.08 449.09L605.68 446.63Z" fill="#3e5cc0"/>
<path d="M605.94 449.09L608.74 449.09L607.34 446.63Z" fill="#3e5cc0"/>
<path d="M607.6 449.09L610.4 449.09L609 446.63Z" fill="#3e5cc0"/>
<path d="M572.45 461.83L575.55 461.83L574 459.11Z" fill="#3e5cc0"/>
<path d="M575.37 461.83L578.47 461.83L576.92 459.11Z" fill="#3e5cc0"/>
<path d="M578.28 461.83L581.38 461.83L579.83 459.11Z" fill="#3e5cc0"/>
<path d="M581.2 461.83L584.3 461.83L582.75 459.11Z" fill="#3e5cc0"/>
<path d="M584.12 461.83L587.22 461.83L585.67 459.11Z" fill="#3e5cc0"/>
<path d="M587.03 461.83L590.13 461.83L588.58 459.11Z" fill="#3e5cc0"/>
<path d="M589.95 461.83L593.05 461.83L591.5 459.11Z" fill="#3e5cc0"/>
<path d="M592.87 461.83L595.97 461.83L594.42 459.11Z" fill="#3e5cc0"/>
<path d="M595.78 461.83L598.88 461.83L597.33 459.11Z" fill="#3e5cc0"/>
<path d="M598.7 461.83L601.8 461.83L600.25 459.11Z" fill="#3e5cc0"/>
<path d="M601.62 461.83L604.72 461.83L603.17 459.11Z" fill="#3e5cc0"/>
<path d="M604.53 461.83L607.63 461.83L606.08 459.11Z" fill="#3e5cc0"/>
<path d="M607.45 461.83L610.55 461.83L609 459.11Z" fill="#3e5cc0"/>
<rect x="574.2" y="472.18" width="34.6" height="2" fill="#3e5cc0"/>
<path d="M573.6 473.91L576.4 473.91L575 471.45Z" fill="#3e5cc0"/>
<path d="M575.25 473.91L578.05 473.91L576.65 471.45Z" fill="#3e5cc0"/>
<path d="M576.9 473.91L579.7 473.91L578.3 471.45Z" fill="#3e5cc0"/>
<path d="M578.55 473.91L581.35 473.91L579.95 471.45Z" fill="#3e5cc0"/>
<path d="M580.2 473.91L583 473.91L581.6 471.45Z" fill="#3e5cc0"/>
<path d="M581.85 473.91L584.65 473.91L583.25 471.45Z" fill="#3e5cc0"/>
<path d="M583.5 473.91L586.3 473.91L584.9 471.45Z" fill="#3e5cc0"/>
<path d="M585.15 473.91L587.95 473.91L586.55 471.45Z" fill="#3e5cc0"/>
<path d="M586.8 473.91L589.6 473.91L588.2 471.45Z" fill="#3e5cc0"/>
<path d="M588.45 473.91L591.25 473.91L589.85 471.45Z" fill="#3e5cc0"/>
<path d="M590.1 473.91L592.9 473.91L591.5 471.45Z" fill="#3e5cc0"/>
<path d="M591.75 473.91L594.55 473.91L593.15 471.45Z" fill="#3e5cc0"/>
<path d="M593.4 473.91L596.2 473.91L594.8 471.45Z" fill="#3e5cc0"/>
<path d="M595.05 473.91L597.85 473.91L596.45 471.45Z" fill="#3e5cc0"/>
<path d="M596.7 473.91L599.5 473.91L598.1 471.45Z" fill="#3e5cc0"/>
<path d="M598.35 473.91L601.15 473.91L599.75 471.45Z" fill="#3e5cc0"/>
<path d="M600 473.91L602.8 473.91L601.4 471.45Z" fill="#3e5cc0"/>
<path d="M601.65 473.91L604.45 473.91L603.05 471.45Z" fill="#3e5cc0"/>
<path d="M603.3 473.91L606.1 473.91L604.7 471.45Z" fill="#3e5cc0"/>
<path d="M604.95 473.91L607.75 473.91L606.35 471.45Z" fill="#3e5cc0"/>
<path d="M606.6 473.91L609.4 473.91L608 471.45Z" fill="#3e5cc0"/>
<path d="M572.45 486.65L575.55 486.65L574 483.93Z" fill="#3e5cc0"/>
<path d="M575.37 486.65L578.47 486.65L576.92 483.93Z" fill="#3e5cc0"/>
<path d="M578.28 486.65L581.38 486.65L579.83 483.93Z" fill="#3e5cc0"/>
<path d="M581.2 486.65L584.3 486.65L582.75 483.93Z" fill="#3e5cc0"/>
<path d="M584.12 486.65L587.22 486.65L585.67 483.93Z" fill="#3e5cc0"/>
<path d="M587.03 486.65L590.13 486.65L588.58 483.93Z" fill="#3e5cc0"/>
<path d="M589.95 486.65L593.05 486.65L591.5 483.93Z" fill="#3e5cc0"/>
<path d="M592.87 486.65L595.97 486.65L594.42 483.93Z" fill="#3e5cc0"/>
<path d="M595.78 486.65L598.88 486.65L597.33 483.93Z" fill="#3e5cc0"/>
<path d="M598.7 486.65L601.8 486.65L600.25 483.93Z" fill="#3e5cc0"/>
<path d="M601.62 486.65L604.72 486.65L603.17 483.93Z" fill="#3e5cc0"/>
<path d="M604.53 486.65L607.63 486.65L606.08 483.93Z" fill="#3e5cc0"/>
<path d="M607.45 486.65L610.55 486.65L609 483.93Z" fill="#3e5cc0"/>
<path d="M585.8 497.52L588.8 497.52L587.3 494.88Z" fill="#3e5cc0"/>
<path d="M590.2 497.52L593.2 497.52L591.7 494.88Z" fill="#3e5cc0"/>
<path d="M594.6 497.52L597.6 497.52L596.1 494.88Z" fill="#3e5cc0"/>
<line x1="591.8" y1="444.6" x2="591.8" y2="479.6" stroke="#3e5cc0" stroke-width="1.2"/>
<line x1="583" y1="444.6" x2="600.5" y2="444.6" stroke="#3e5cc0" stroke-width="1.2"/>
<line x1="583" y1="479.6" x2="600.5" y2="479.6" stroke="#3e5cc0" stroke-width="1.2"/>
<line x1="583" y1="462.3" x2="600.5" y2="462.3" stroke="#000" stroke-width="1.4"/>
<path d="M625.85 399.78L628.95 399.78L627.4 397.06Z" fill="#e8402b"/>
<path d="M628.32 399.78L631.42 399.78L629.87 397.06Z" fill="#e8402b"/>
<path d="M630.79 399.78L633.89 399.78L632.34 397.06Z" fill="#e8402b"/>
<path d="M633.26 399.78L636.36 399.78L634.81 397.06Z" fill="#e8402b"/>
<path d="M635.74 399.78L638.84 399.78L637.29 397.06Z" fill="#e8402b"/>
<path d="M638.21 399.78L641.31 399.78L639.76 397.06Z" fill="#e8402b"/>
<path d="M640.68 399.78L643.78 399.78L642.23 397.06Z" fill="#e8402b"/>
<path d="M643.15 399.78L646.25 399.78L644.7 397.06Z" fill="#e8402b"/>
<path d="M645.62 399.78L648.72 399.78L647.17 397.06Z" fill="#e8402b"/>
<path d="M648.09 399.78L651.19 399.78L649.64 397.06Z" fill="#e8402b"/>
<path d="M650.56 399.78L653.66 399.78L652.11 397.06Z" fill="#e8402b"/>
<path d="M653.04 399.78L656.14 399.78L654.59 397.06Z" fill="#e8402b"/>
<path d="M655.51 399.78L658.61 399.78L657.06 397.06Z" fill="#e8402b"/>
<path d="M657.98 399.78L661.08 399.78L659.53 397.06Z" fill="#e8402b"/>
<path d="M660.45 399.78L663.55 399.78L662 397.06Z" fill="#e8402b"/>
<rect x="629.8" y="422.54" width="29.6" height="2" fill="#e8402b"/>
<path d="M629.2 424.27L632 424.27L630.6 421.81Z" fill="#e8402b"/>
<path d="M630.85 424.27L633.65 424.27L632.25 421.81Z" fill="#e8402b"/>
<path d="M632.49 424.27L635.29 424.27L633.89 421.81Z" fill="#e8402b"/>
<path d="M634.14 424.27L636.94 424.27L635.54 421.81Z" fill="#e8402b"/>
<path d="M635.79 424.27L638.59 424.27L637.19 421.81Z" fill="#e8402b"/>
<path d="M637.44 424.27L640.24 424.27L638.84 421.81Z" fill="#e8402b"/>
<path d="M639.08 424.27L641.88 424.27L640.48 421.81Z" fill="#e8402b"/>
<path d="M640.73 424.27L643.53 424.27L642.13 421.81Z" fill="#e8402b"/>
<path d="M642.38 424.27L645.18 424.27L643.78 421.81Z" fill="#e8402b"/>
<path d="M644.02 424.27L646.82 424.27L645.42 421.81Z" fill="#e8402b"/>
<path d="M645.67 424.27L648.47 424.27L647.07 421.81Z" fill="#e8402b"/>
<path d="M647.32 424.27L650.12 424.27L648.72 421.81Z" fill="#e8402b"/>
<path d="M648.96 424.27L651.76 424.27L650.36 421.81Z" fill="#e8402b"/>
<path d="M650.61 424.27L653.41 424.27L652.01 421.81Z" fill="#e8402b"/>
<path d="M652.26 424.27L655.06 424.27L653.66 421.81Z" fill="#e8402b"/>
<path d="M653.91 424.27L656.71 424.27L655.31 421.81Z" fill="#e8402b"/>
<path d="M655.55 424.27L658.35 424.27L656.95 421.81Z" fill="#e8402b"/>
<path d="M657.2 424.27L660 424.27L658.6 421.81Z" fill="#e8402b"/>
<rect x="630.5" y="424.04" width="28" height="1.4" fill="#e8402b"/>
<rect x="628.2" y="447.36" width="33.1" height="2" fill="#e8402b"/>
<path d="M627.6 449.09L630.4 449.09L629 446.63Z" fill="#e8402b"/>
<path d="M629.26 449.09L632.06 449.09L630.66 446.63Z" fill="#e8402b"/>
<path d="M630.92 449.09L633.72 449.09L632.32 446.63Z" fill="#e8402b"/>
<path d="M632.57 449.09L635.37 449.09L633.97 446.63Z" fill="#e8402b"/>
<path d="M634.23 449.09L637.03 449.09L635.63 446.63Z" fill="#e8402b"/>
<path d="M635.89 449.09L638.69 449.09L637.29 446.63Z" fill="#e8402b"/>
<path d="M637.55 449.09L640.35 449.09L638.95 446.63Z" fill="#e8402b"/>
<path d="M639.21 449.09L642.01 449.09L640.61 446.63Z" fill="#e8402b"/>
<path d="M640.86 449.09L643.66 449.09L642.26 446.63Z" fill="#e8402b"/>
<path d="M642.52 449.09L645.32 449.09L643.92 446.63Z" fill="#e8402b"/>
<path d="M644.18 449.09L646.98 449.09L645.58 446.63Z" fill="#e8402b"/>
<path d="M645.84 449.09L648.64 449.09L647.24 446.63Z" fill="#e8402b"/>
<path d="M647.49 449.09L650.29 449.09L648.89 446.63Z" fill="#e8402b"/>
<path d="M649.15 449.09L651.95 449.09L650.55 446.63Z" fill="#e8402b"/>
<path d="M650.81 449.09L653.61 449.09L652.21 446.63Z" fill="#e8402b"/>
<path d="M652.47 449.09L655.27 449.09L653.87 446.63Z" fill="#e8402b"/>
<path d="M654.13 449.09L656.93 449.09L655.53 446.63Z" fill="#e8402b"/>
<path d="M655.78 449.09L658.58 449.09L657.18 446.63Z" fill="#e8402b"/>
<path d="M657.44 449.09L660.24 449.09L658.84 446.63Z" fill="#e8402b"/>
<path d="M659.1 449.09L661.9 449.09L660.5 446.63Z" fill="#e8402b"/>
<rect x="626.2" y="459.77" width="36.6" height="2" fill="#e8402b"/>
<path d="M625.6 461.5L628.4 461.5L627 459.04Z" fill="#e8402b"/>
<path d="M627.27 461.5L630.07 461.5L628.67 459.04Z" fill="#e8402b"/>
<path d="M628.93 461.5L631.73 461.5L630.33 459.04Z" fill="#e8402b"/>
<path d="M630.6 461.5L633.4 461.5L632 459.04Z" fill="#e8402b"/>
<path d="M632.27 461.5L635.07 461.5L633.67 459.04Z" fill="#e8402b"/>
<path d="M633.93 461.5L636.73 461.5L635.33 459.04Z" fill="#e8402b"/>
<path d="M635.6 461.5L638.4 461.5L637 459.04Z" fill="#e8402b"/>
<path d="M637.27 461.5L640.07 461.5L638.67 459.04Z" fill="#e8402b"/>
<path d="M638.93 461.5L641.73 461.5L640.33 459.04Z" fill="#e8402b"/>
<path d="M640.6 461.5L643.4 461.5L642 459.04Z" fill="#e8402b"/>
<path d="M642.27 461.5L645.07 461.5L643.67 459.04Z" fill="#e8402b"/>
<path d="M643.93 461.5L646.73 461.5L645.33 459.04Z" fill="#e8402b"/>
<path d="M645.6 461.5L648.4 461.5L647 459.04Z" fill="#e8402b"/>
<path d="M647.27 461.5L650.07 461.5L648.67 459.04Z" fill="#e8402b"/>
<path d="M648.93 461.5L651.73 461.5L650.33 459.04Z" fill="#e8402b"/>
<path d="M650.6 461.5L653.4 461.5L652 459.04Z" fill="#e8402b"/>
<path d="M652.27 461.5L655.07 461.5L653.67 459.04Z" fill="#e8402b"/>
<path d="M653.93 461.5L656.73 461.5L655.33 459.04Z" fill="#e8402b"/>
<path d="M655.6 461.5L658.4 461.5L657 459.04Z" fill="#e8402b"/>
<path d="M657.27 461.5L660.07 461.5L658.67 459.04Z" fill="#e8402b"/>
<path d="M658.93 461.5L661.73 461.5L660.33 459.04Z" fill="#e8402b"/>
<path d="M660.6 461.5L663.4 461.5L662 459.04Z" fill="#e8402b"/>
<rect x="629.2" y="472.18" width="30.6" height="2" fill="#e8402b"/>
<path d="M628.6 473.91L631.4 473.91L630 471.45Z" fill="#e8402b"/>
<path d="M630.21 473.91L633.01 473.91L631.61 471.45Z" fill="#e8402b"/>
<path d="M631.82 473.91L634.62 473.91L633.22 471.45Z" fill="#e8402b"/>
<path d="M633.43 473.91L636.23 473.91L634.83 471.45Z" fill="#e8402b"/>
<path d="M635.04 473.91L637.84 473.91L636.44 471.45Z" fill="#e8402b"/>
<path d="M636.66 473.91L639.46 473.91L638.06 471.45Z" fill="#e8402b"/>
<path d="M638.27 473.91L641.07 473.91L639.67 471.45Z" fill="#e8402b"/>
<path d="M639.88 473.91L642.68 473.91L641.28 471.45Z" fill="#e8402b"/>
<path d="M641.49 473.91L644.29 473.91L642.89 471.45Z" fill="#e8402b"/>
<path d="M643.1 473.91L645.9 473.91L644.5 471.45Z" fill="#e8402b"/>
<path d="M644.71 473.91L647.51 473.91L646.11 471.45Z" fill="#e8402b"/>
<path d="M646.32 473.91L649.12 473.91L647.72 471.45Z" fill="#e8402b"/>
<path d="M647.93 473.91L650.73 473.91L649.33 471.45Z" fill="#e8402b"/>
<path d="M649.54 473.91L652.34 473.91L650.94 471.45Z" fill="#e8402b"/>
<path d="M651.16 473.91L653.96 473.91L652.56 471.45Z" fill="#e8402b"/>
<path d="M652.77 473.91L655.57 473.91L654.17 471.45Z" fill="#e8402b"/>
<path d="M654.38 473.91L657.18 473.91L655.78 471.45Z" fill="#e8402b"/>
<path d="M655.99 473.91L658.79 473.91L657.39 471.45Z" fill="#e8402b"/>
<path d="M657.6 473.91L660.4 473.91L659 471.45Z" fill="#e8402b"/>
<path d="M625.85 486.65L628.95 486.65L627.4 483.93Z" fill="#e8402b"/>
<path d="M629 486.65L632.1 486.65L630.55 483.93Z" fill="#e8402b"/>
<path d="M632.14 486.65L635.24 486.65L633.69 483.93Z" fill="#e8402b"/>
<path d="M635.29 486.65L638.39 486.65L636.84 483.93Z" fill="#e8402b"/>
<path d="M638.43 486.65L641.53 486.65L639.98 483.93Z" fill="#e8402b"/>
<path d="M641.58 486.65L644.68 486.65L643.13 483.93Z" fill="#e8402b"/>
<path d="M644.72 486.65L647.82 486.65L646.27 483.93Z" fill="#e8402b"/>
<path d="M647.87 486.65L650.97 486.65L649.42 483.93Z" fill="#e8402b"/>
<path d="M651.01 486.65L654.11 486.65L652.56 483.93Z" fill="#e8402b"/>
<path d="M654.16 486.65L657.26 486.65L655.71 483.93Z" fill="#e8402b"/>
<path d="M657.3 486.65L660.4 486.65L658.85 483.93Z" fill="#e8402b"/>
<path d="M660.45 486.65L663.55 486.65L662 483.93Z" fill="#e8402b"/>
<path d="M643.1 497.52L646.1 497.52L644.6 494.88Z" fill="#e8402b"/>
<line x1="644.6" y1="424.8" x2="644.6" y2="473.7" stroke="#e8402b" stroke-width="1.2"/>
<text x="10.8" y="543.85" font-size="13" text-anchor="middle" fill="#1a1515">K</text>
<line x1="43" y1="566.8" x2="43" y2="681.7" stroke="#000" stroke-width="1.4"/>
<line x1="42.3" y1="681" x2="224.7" y2="681" stroke="#000" stroke-width="1.4"/>
<line x1="39.2" y1="681" x2="43" y2="681" stroke="#000" stroke-width="1.2"/>
<text x="38.1" y="684" font-size="8.3" font-weight="bold" text-anchor="end">0</text>
<line x1="39.2" y1="658.26" x2="43" y2="658.26" stroke="#000" stroke-width="1.2"/>
<text x="38.1" y="661.26" font-size="8.3" font-weight="bold" text-anchor="end">2</text>
<line x1="39.2" y1="635.52" x2="43" y2="635.52" stroke="#000" stroke-width="1.2"/>
<text x="38.1" y="638.52" font-size="8.3" font-weight="bold" text-anchor="end">4</text>
<line x1="39.2" y1="612.78" x2="43" y2="612.78" stroke="#000" stroke-width="1.2"/>
<text x="38.1" y="615.78" font-size="8.3" font-weight="bold" text-anchor="end">6</text>
<line x1="39.2" y1="590.04" x2="43" y2="590.04" stroke="#000" stroke-width="1.2"/>
<text x="38.1" y="593.04" font-size="8.3" font-weight="bold" text-anchor="end">8</text>
<line x1="39.2" y1="567.3" x2="43" y2="567.3" stroke="#000" stroke-width="1.2"/>
<text x="38.1" y="570.3" font-size="8.3" font-weight="bold" text-anchor="end">10</text>
<line x1="70.5" y1="681" x2="70.5" y2="684" stroke="#000" stroke-width="1.2"/>
<line x1="112.4" y1="681" x2="112.4" y2="684" stroke="#000" stroke-width="1.2"/>
<line x1="154.1" y1="681" x2="154.1" y2="684" stroke="#000" stroke-width="1.2"/>
<line x1="196" y1="681" x2="196" y2="684" stroke="#000" stroke-width="1.2"/>
<text x="73.4" y="692.6" font-size="8.8" font-weight="bold" text-anchor="end" transform="rotate(-42 73.4 692.6)">Stage I</text>
<text x="115.3" y="692.6" font-size="8.8" font-weight="bold" text-anchor="end" transform="rotate(-42 115.3 692.6)">Stage II</text>
<text x="157" y="692.6" font-size="8.8" font-weight="bold" text-anchor="end" transform="rotate(-42 157 692.6)">Stage III</text>
<text x="198.9" y="692.6" font-size="8.8" font-weight="bold" text-anchor="end" transform="rotate(-42 198.9 692.6)">Stage IV</text>
<text x="23.8" y="625.8" font-size="9.95" text-anchor="middle" fill="#111" transform="rotate(-90 23.8 625.8)">HIF1A-AS2 scores</text>
<path d="M68.8 544.2 L68.8 541.4 L198 541.4 L198 544.2" fill="none" stroke="#3a3a3a" stroke-width="1.3"/>
<text x="133.3" y="541.2" font-size="9.5" text-anchor="middle" fill="#555">***</text>
<path d="M68.8 558 L68.8 555.2 L157 555.2 L157 558" fill="none" stroke="#3a3a3a" stroke-width="1.3"/>
<text x="114" y="554.1" font-size="9.5" text-anchor="middle" fill="#555">**</text>
<path d="M157 563.9 L157 561.1 L199 561.1 L199 563.9" fill="none" stroke="#3a3a3a" stroke-width="1.3"/>
<text x="179.8" y="560.5" font-size="9.5" text-anchor="middle" fill="#555">*</text>
<path d="M114.7 573.3 L114.7 570.5 L157 570.5 L157 573.3" fill="none" stroke="#3a3a3a" stroke-width="1.3"/>
<text x="137.4" y="569.8" font-size="9.5" text-anchor="middle" fill="#555">*</text>
<path d="M70.5 583.6 L70.5 580.8 L114.3 580.8 L114.3 583.6" fill="none" stroke="#3a3a3a" stroke-width="1.3"/>
<text x="93.1" y="577" font-size="11.5" text-anchor="middle" fill="#333">ns</text>
<path d="M69.2 591.27L72 591.27L70.6 588.81Z" fill="#3e5cc0"/>
<path d="M64.6 614.01L67.4 614.01L66 611.55Z" fill="#3e5cc0"/>
<path d="M69 614.01L71.8 614.01L70.4 611.55Z" fill="#3e5cc0"/>
<path d="M73.4 614.01L76.2 614.01L74.8 611.55Z" fill="#3e5cc0"/>
<path d="M61.5 636.75L64.3 636.75L62.9 634.29Z" fill="#3e5cc0"/>
<path d="M65.4 636.75L68.2 636.75L66.8 634.29Z" fill="#3e5cc0"/>
<path d="M69.3 636.75L72.1 636.75L70.7 634.29Z" fill="#3e5cc0"/>
<path d="M73.2 636.75L76 636.75L74.6 634.29Z" fill="#3e5cc0"/>
<path d="M77.1 636.75L79.9 636.75L78.5 634.29Z" fill="#3e5cc0"/>
<path d="M64.6 648.12L67.4 648.12L66 645.66Z" fill="#3e5cc0"/>
<path d="M69.25 648.12L72.05 648.12L70.65 645.66Z" fill="#3e5cc0"/>
<path d="M73.9 648.12L76.7 648.12L75.3 645.66Z" fill="#3e5cc0"/>
<path d="M58 659.49L60.8 659.49L59.4 657.03Z" fill="#3e5cc0"/>
<path d="M61.72 659.49L64.52 659.49L63.12 657.03Z" fill="#3e5cc0"/>
<path d="M65.43 659.49L68.23 659.49L66.83 657.03Z" fill="#3e5cc0"/>
<path d="M69.15 659.49L71.95 659.49L70.55 657.03Z" fill="#3e5cc0"/>
<path d="M72.87 659.49L75.67 659.49L74.27 657.03Z" fill="#3e5cc0"/>
<path d="M76.58 659.49L79.38 659.49L77.98 657.03Z" fill="#3e5cc0"/>
<path d="M80.3 659.49L83.1 659.49L81.7 657.03Z" fill="#3e5cc0"/>
<path d="M61 670.86L63.8 670.86L62.4 668.4Z" fill="#3e5cc0"/>
<path d="M65.05 670.86L67.85 670.86L66.45 668.4Z" fill="#3e5cc0"/>
<path d="M69.1 670.86L71.9 670.86L70.5 668.4Z" fill="#3e5cc0"/>
<path d="M73.15 670.86L75.95 670.86L74.55 668.4Z" fill="#3e5cc0"/>
<path d="M77.2 670.86L80 670.86L78.6 668.4Z" fill="#3e5cc0"/>
<line x1="70.5" y1="624.7" x2="70.5" y2="667.7" stroke="#3e5cc0" stroke-width="1.1"/>
<line x1="63.6" y1="624.7" x2="77.3" y2="624.7" stroke="#3e5cc0" stroke-width="1.1"/>
<line x1="63.6" y1="667.7" x2="77.3" y2="667.7" stroke="#3e5cc0" stroke-width="1.1"/>
<line x1="56.7" y1="645.8" x2="84.7" y2="645.8" stroke="#000" stroke-width="1.5"/>
<path d="M108.6 591.27L111.4 591.27L110 588.81Z" fill="#e8402b"/>
<path d="M113.1 591.27L115.9 591.27L114.5 588.81Z" fill="#e8402b"/>
<rect x="99.8" y="612.23" width="24.9" height="1.7" fill="#e8402b"/>
<path d="M99.2 613.81L102 613.81L100.6 611.35Z" fill="#e8402b"/>
<path d="M100.86 613.81L103.66 613.81L102.26 611.35Z" fill="#e8402b"/>
<path d="M102.53 613.81L105.33 613.81L103.93 611.35Z" fill="#e8402b"/>
<path d="M104.19 613.81L106.99 613.81L105.59 611.35Z" fill="#e8402b"/>
<path d="M105.86 613.81L108.66 613.81L107.26 611.35Z" fill="#e8402b"/>
<path d="M107.52 613.81L110.32 613.81L108.92 611.35Z" fill="#e8402b"/>
<path d="M109.19 613.81L111.99 613.81L110.59 611.35Z" fill="#e8402b"/>
<path d="M110.85 613.81L113.65 613.81L112.25 611.35Z" fill="#e8402b"/>
<path d="M112.51 613.81L115.31 613.81L113.91 611.35Z" fill="#e8402b"/>
<path d="M114.18 613.81L116.98 613.81L115.58 611.35Z" fill="#e8402b"/>
<path d="M115.84 613.81L118.64 613.81L117.24 611.35Z" fill="#e8402b"/>
<path d="M117.51 613.81L120.31 613.81L118.91 611.35Z" fill="#e8402b"/>
<path d="M119.17 613.81L121.97 613.81L120.57 611.35Z" fill="#e8402b"/>
<path d="M120.84 613.81L123.64 613.81L122.24 611.35Z" fill="#e8402b"/>
<path d="M122.5 613.81L125.3 613.81L123.9 611.35Z" fill="#e8402b"/>
<rect x="99.8" y="634.97" width="24.9" height="1.7" fill="#e8402b"/>
<path d="M99.2 636.55L102 636.55L100.6 634.09Z" fill="#e8402b"/>
<path d="M100.86 636.55L103.66 636.55L102.26 634.09Z" fill="#e8402b"/>
<path d="M102.53 636.55L105.33 636.55L103.93 634.09Z" fill="#e8402b"/>
<path d="M104.19 636.55L106.99 636.55L105.59 634.09Z" fill="#e8402b"/>
<path d="M105.86 636.55L108.66 636.55L107.26 634.09Z" fill="#e8402b"/>
<path d="M107.52 636.55L110.32 636.55L108.92 634.09Z" fill="#e8402b"/>
<path d="M109.19 636.55L111.99 636.55L110.59 634.09Z" fill="#e8402b"/>
<path d="M110.85 636.55L113.65 636.55L112.25 634.09Z" fill="#e8402b"/>
<path d="M112.51 636.55L115.31 636.55L113.91 634.09Z" fill="#e8402b"/>
<path d="M114.18 636.55L116.98 636.55L115.58 634.09Z" fill="#e8402b"/>
<path d="M115.84 636.55L118.64 636.55L117.24 634.09Z" fill="#e8402b"/>
<path d="M117.51 636.55L120.31 636.55L118.91 634.09Z" fill="#e8402b"/>
<path d="M119.17 636.55L121.97 636.55L120.57 634.09Z" fill="#e8402b"/>
<path d="M120.84 636.55L123.64 636.55L122.24 634.09Z" fill="#e8402b"/>
<path d="M122.5 636.55L125.3 636.55L123.9 634.09Z" fill="#e8402b"/>
<rect x="99.8" y="646.34" width="24.9" height="1.7" fill="#e8402b"/>
<path d="M99.2 647.92L102 647.92L100.6 645.46Z" fill="#e8402b"/>
<path d="M100.86 647.92L103.66 647.92L102.26 645.46Z" fill="#e8402b"/>
<path d="M102.53 647.92L105.33 647.92L103.93 645.46Z" fill="#e8402b"/>
<path d="M104.19 647.92L106.99 647.92L105.59 645.46Z" fill="#e8402b"/>
<path d="M105.86 647.92L108.66 647.92L107.26 645.46Z" fill="#e8402b"/>
<path d="M107.52 647.92L110.32 647.92L108.92 645.46Z" fill="#e8402b"/>
<path d="M109.19 647.92L111.99 647.92L110.59 645.46Z" fill="#e8402b"/>
<path d="M110.85 647.92L113.65 647.92L112.25 645.46Z" fill="#e8402b"/>
<path d="M112.51 647.92L115.31 647.92L113.91 645.46Z" fill="#e8402b"/>
<path d="M114.18 647.92L116.98 647.92L115.58 645.46Z" fill="#e8402b"/>
<path d="M115.84 647.92L118.64 647.92L117.24 645.46Z" fill="#e8402b"/>
<path d="M117.51 647.92L120.31 647.92L118.91 645.46Z" fill="#e8402b"/>
<path d="M119.17 647.92L121.97 647.92L120.57 645.46Z" fill="#e8402b"/>
<path d="M120.84 647.92L123.64 647.92L122.24 645.46Z" fill="#e8402b"/>
<path d="M122.5 647.92L125.3 647.92L123.9 645.46Z" fill="#e8402b"/>
<rect x="99.8" y="657.71" width="24.9" height="1.7" fill="#e8402b"/>
<path d="M99.2 659.29L102 659.29L100.6 656.83Z" fill="#e8402b"/>
<path d="M100.86 659.29L103.66 659.29L102.26 656.83Z" fill="#e8402b"/>
<path d="M102.53 659.29L105.33 659.29L103.93 656.83Z" fill="#e8402b"/>
<path d="M104.19 659.29L106.99 659.29L105.59 656.83Z" fill="#e8402b"/>
<path d="M105.86 659.29L108.66 659.29L107.26 656.83Z" fill="#e8402b"/>
<path d="M107.52 659.29L110.32 659.29L108.92 656.83Z" fill="#e8402b"/>
<path d="M109.19 659.29L111.99 659.29L110.59 656.83Z" fill="#e8402b"/>
<path d="M110.85 659.29L113.65 659.29L112.25 656.83Z" fill="#e8402b"/>
<path d="M112.51 659.29L115.31 659.29L113.91 656.83Z" fill="#e8402b"/>
<path d="M114.18 659.29L116.98 659.29L115.58 656.83Z" fill="#e8402b"/>
<path d="M115.84 659.29L118.64 659.29L117.24 656.83Z" fill="#e8402b"/>
<path d="M117.51 659.29L120.31 659.29L118.91 656.83Z" fill="#e8402b"/>
<path d="M119.17 659.29L121.97 659.29L120.57 656.83Z" fill="#e8402b"/>
<path d="M120.84 659.29L123.64 659.29L122.24 656.83Z" fill="#e8402b"/>
<path d="M122.5 659.29L125.3 659.29L123.9 656.83Z" fill="#e8402b"/>
<path d="M104.4 670.86L107.2 670.86L105.8 668.4Z" fill="#e8402b"/>
<path d="M108.53 670.86L111.33 670.86L109.93 668.4Z" fill="#e8402b"/>
<path d="M112.67 670.86L115.47 670.86L114.07 668.4Z" fill="#e8402b"/>
<path d="M116.8 670.86L119.6 670.86L118.2 668.4Z" fill="#e8402b"/>
<line x1="112.4" y1="621.7" x2="112.4" y2="660.7" stroke="#e8402b" stroke-width="1.1"/>
<line x1="104.6" y1="621.7" x2="119.5" y2="621.7" stroke="#e8402b" stroke-width="1.1"/>
<line x1="104.6" y1="660.7" x2="119.5" y2="660.7" stroke="#e8402b" stroke-width="1.1"/>
<line x1="98.4" y1="641.3" x2="126.4" y2="641.3" stroke="#000" stroke-width="1.5"/>
<path d="M141.6 591.27L144.4 591.27L143 588.81Z" fill="#8a4cbc"/>
<path d="M145.33 591.27L148.13 591.27L146.73 588.81Z" fill="#8a4cbc"/>
<path d="M149.07 591.27L151.87 591.27L150.47 588.81Z" fill="#8a4cbc"/>
<path d="M152.8 591.27L155.6 591.27L154.2 588.81Z" fill="#8a4cbc"/>
<path d="M156.53 591.27L159.33 591.27L157.93 588.81Z" fill="#8a4cbc"/>
<path d="M160.27 591.27L163.07 591.27L161.67 588.81Z" fill="#8a4cbc"/>
<path d="M164 591.27L166.8 591.27L165.4 588.81Z" fill="#8a4cbc"/>
<rect x="141" y="612.18" width="26.4" height="1.8" fill="#8a4cbc"/>
<path d="M140.4 613.81L143.2 613.81L141.8 611.35Z" fill="#8a4cbc"/>
<path d="M142.05 613.81L144.85 613.81L143.45 611.35Z" fill="#8a4cbc"/>
<path d="M143.71 613.81L146.51 613.81L145.11 611.35Z" fill="#8a4cbc"/>
<path d="M145.36 613.81L148.16 613.81L146.76 611.35Z" fill="#8a4cbc"/>
<path d="M147.01 613.81L149.81 613.81L148.41 611.35Z" fill="#8a4cbc"/>
<path d="M148.67 613.81L151.47 613.81L150.07 611.35Z" fill="#8a4cbc"/>
<path d="M150.32 613.81L153.12 613.81L151.72 611.35Z" fill="#8a4cbc"/>
<path d="M151.97 613.81L154.77 613.81L153.37 611.35Z" fill="#8a4cbc"/>
<path d="M153.63 613.81L156.43 613.81L155.03 611.35Z" fill="#8a4cbc"/>
<path d="M155.28 613.81L158.08 613.81L156.68 611.35Z" fill="#8a4cbc"/>
<path d="M156.93 613.81L159.73 613.81L158.33 611.35Z" fill="#8a4cbc"/>
<path d="M158.59 613.81L161.39 613.81L159.99 611.35Z" fill="#8a4cbc"/>
<path d="M160.24 613.81L163.04 613.81L161.64 611.35Z" fill="#8a4cbc"/>
<path d="M161.89 613.81L164.69 613.81L163.29 611.35Z" fill="#8a4cbc"/>
<path d="M163.55 613.81L166.35 613.81L164.95 611.35Z" fill="#8a4cbc"/>
<path d="M165.2 613.81L168 613.81L166.6 611.35Z" fill="#8a4cbc"/>
<rect x="141" y="634.92" width="26.4" height="1.8" fill="#8a4cbc"/>
<path d="M140.4 636.55L143.2 636.55L141.8 634.09Z" fill="#8a4cbc"/>
<path d="M142.05 636.55L144.85 636.55L143.45 634.09Z" fill="#8a4cbc"/>
<path d="M143.71 636.55L146.51 636.55L145.11 634.09Z" fill="#8a4cbc"/>
<path d="M145.36 636.55L148.16 636.55L146.76 634.09Z" fill="#8a4cbc"/>
<path d="M147.01 636.55L149.81 636.55L148.41 634.09Z" fill="#8a4cbc"/>
<path d="M148.67 636.55L151.47 636.55L150.07 634.09Z" fill="#8a4cbc"/>
<path d="M150.32 636.55L153.12 636.55L151.72 634.09Z" fill="#8a4cbc"/>
<path d="M151.97 636.55L154.77 636.55L153.37 634.09Z" fill="#8a4cbc"/>
<path d="M153.63 636.55L156.43 636.55L155.03 634.09Z" fill="#8a4cbc"/>
<path d="M155.28 636.55L158.08 636.55L156.68 634.09Z" fill="#8a4cbc"/>
<path d="M156.93 636.55L159.73 636.55L158.33 634.09Z" fill="#8a4cbc"/>
<path d="M158.59 636.55L161.39 636.55L159.99 634.09Z" fill="#8a4cbc"/>
<path d="M160.24 636.55L163.04 636.55L161.64 634.09Z" fill="#8a4cbc"/>
<path d="M161.89 636.55L164.69 636.55L163.29 634.09Z" fill="#8a4cbc"/>
<path d="M163.55 636.55L166.35 636.55L164.95 634.09Z" fill="#8a4cbc"/>
<path d="M165.2 636.55L168 636.55L166.6 634.09Z" fill="#8a4cbc"/>
<rect x="141" y="646.29" width="26.4" height="1.8" fill="#8a4cbc"/>
<path d="M140.4 647.92L143.2 647.92L141.8 645.46Z" fill="#8a4cbc"/>
<path d="M142.05 647.92L144.85 647.92L143.45 645.46Z" fill="#8a4cbc"/>
<path d="M143.71 647.92L146.51 647.92L145.11 645.46Z" fill="#8a4cbc"/>
<path d="M145.36 647.92L148.16 647.92L146.76 645.46Z" fill="#8a4cbc"/>
<path d="M147.01 647.92L149.81 647.92L148.41 645.46Z" fill="#8a4cbc"/>
<path d="M148.67 647.92L151.47 647.92L150.07 645.46Z" fill="#8a4cbc"/>
<path d="M150.32 647.92L153.12 647.92L151.72 645.46Z" fill="#8a4cbc"/>
<path d="M151.97 647.92L154.77 647.92L153.37 645.46Z" fill="#8a4cbc"/>
<path d="M153.63 647.92L156.43 647.92L155.03 645.46Z" fill="#8a4cbc"/>
<path d="M155.28 647.92L158.08 647.92L156.68 645.46Z" fill="#8a4cbc"/>
<path d="M156.93 647.92L159.73 647.92L158.33 645.46Z" fill="#8a4cbc"/>
<path d="M158.59 647.92L161.39 647.92L159.99 645.46Z" fill="#8a4cbc"/>
<path d="M160.24 647.92L163.04 647.92L161.64 645.46Z" fill="#8a4cbc"/>
<path d="M161.89 647.92L164.69 647.92L163.29 645.46Z" fill="#8a4cbc"/>
<path d="M163.55 647.92L166.35 647.92L164.95 645.46Z" fill="#8a4cbc"/>
<path d="M165.2 647.92L168 647.92L166.6 645.46Z" fill="#8a4cbc"/>
<rect x="141" y="657.66" width="26.4" height="1.8" fill="#8a4cbc"/>
<path d="M140.4 659.29L143.2 659.29L141.8 656.83Z" fill="#8a4cbc"/>
<path d="M142.05 659.29L144.85 659.29L143.45 656.83Z" fill="#8a4cbc"/>
<path d="M143.71 659.29L146.51 659.29L145.11 656.83Z" fill="#8a4cbc"/>
<path d="M145.36 659.29L148.16 659.29L146.76 656.83Z" fill="#8a4cbc"/>
<path d="M147.01 659.29L149.81 659.29L148.41 656.83Z" fill="#8a4cbc"/>
<path d="M148.67 659.29L151.47 659.29L150.07 656.83Z" fill="#8a4cbc"/>
<path d="M150.32 659.29L153.12 659.29L151.72 656.83Z" fill="#8a4cbc"/>
<path d="M151.97 659.29L154.77 659.29L153.37 656.83Z" fill="#8a4cbc"/>
<path d="M153.63 659.29L156.43 659.29L155.03 656.83Z" fill="#8a4cbc"/>
<path d="M155.28 659.29L158.08 659.29L156.68 656.83Z" fill="#8a4cbc"/>
<path d="M156.93 659.29L159.73 659.29L158.33 656.83Z" fill="#8a4cbc"/>
<path d="M158.59 659.29L161.39 659.29L159.99 656.83Z" fill="#8a4cbc"/>
<path d="M160.24 659.29L163.04 659.29L161.64 656.83Z" fill="#8a4cbc"/>
<path d="M161.89 659.29L164.69 659.29L163.29 656.83Z" fill="#8a4cbc"/>
<path d="M163.55 659.29L166.35 659.29L164.95 656.83Z" fill="#8a4cbc"/>
<path d="M165.2 659.29L168 659.29L166.6 656.83Z" fill="#8a4cbc"/>
<path d="M150.3 670.86L153.1 670.86L151.7 668.4Z" fill="#8a4cbc"/>
<path d="M154.8 670.86L157.6 670.86L156.2 668.4Z" fill="#8a4cbc"/>
<line x1="154.1" y1="614.7" x2="154.1" y2="654.5" stroke="#8a4cbc" stroke-width="1.1"/>
<line x1="146.8" y1="614.7" x2="161.2" y2="614.7" stroke="#8a4cbc" stroke-width="1.1"/>
<line x1="146.8" y1="654.5" x2="161.2" y2="654.5" stroke="#8a4cbc" stroke-width="1.1"/>
<line x1="140.6" y1="634.6" x2="167.9" y2="634.6" stroke="#000" stroke-width="1.5"/>
<path d="M181.4 591.27L184.2 591.27L182.8 588.81Z" fill="#f2c58e"/>
<path d="M185.11 591.27L187.91 591.27L186.51 588.81Z" fill="#f2c58e"/>
<path d="M188.83 591.27L191.63 591.27L190.23 588.81Z" fill="#f2c58e"/>
<path d="M192.54 591.27L195.34 591.27L193.94 588.81Z" fill="#f2c58e"/>
<path d="M196.26 591.27L199.06 591.27L197.66 588.81Z" fill="#f2c58e"/>
<path d="M199.97 591.27L202.77 591.27L201.37 588.81Z" fill="#f2c58e"/>
<path d="M203.69 591.27L206.49 591.27L205.09 588.81Z" fill="#f2c58e"/>
<path d="M207.4 591.27L210.2 591.27L208.8 588.81Z" fill="#f2c58e"/>
<path d="M181.4 614.01L184.2 614.01L182.8 611.55Z" fill="#f2c58e"/>
<path d="M184.31 614.01L187.11 614.01L185.71 611.55Z" fill="#f2c58e"/>
<path d="M187.22 614.01L190.02 614.01L188.62 611.55Z" fill="#f2c58e"/>
<path d="M190.13 614.01L192.93 614.01L191.53 611.55Z" fill="#f2c58e"/>
<path d="M193.04 614.01L195.84 614.01L194.44 611.55Z" fill="#f2c58e"/>
<path d="M195.96 614.01L198.76 614.01L197.36 611.55Z" fill="#f2c58e"/>
<path d="M198.87 614.01L201.67 614.01L200.27 611.55Z" fill="#f2c58e"/>
<path d="M201.78 614.01L204.58 614.01L203.18 611.55Z" fill="#f2c58e"/>
<path d="M204.69 614.01L207.49 614.01L206.09 611.55Z" fill="#f2c58e"/>
<path d="M207.6 614.01L210.4 614.01L209 611.55Z" fill="#f2c58e"/>
<path d="M183.8 636.75L186.6 636.75L185.2 634.29Z" fill="#f2c58e"/>
<path d="M186.89 636.75L189.69 636.75L188.29 634.29Z" fill="#f2c58e"/>
<path d="M189.97 636.75L192.77 636.75L191.37 634.29Z" fill="#f2c58e"/>
<path d="M193.06 636.75L195.86 636.75L194.46 634.29Z" fill="#f2c58e"/>
<path d="M196.14 636.75L198.94 636.75L197.54 634.29Z" fill="#f2c58e"/>
<path d="M199.23 636.75L202.03 636.75L200.63 634.29Z" fill="#f2c58e"/>
<path d="M202.31 636.75L205.11 636.75L203.71 634.29Z" fill="#f2c58e"/>
<path d="M205.4 636.75L208.2 636.75L206.8 634.29Z" fill="#f2c58e"/>
<path d="M185.1 648.12L187.9 648.12L186.5 645.66Z" fill="#f2c58e"/>
<path d="M188.18 648.12L190.98 648.12L189.58 645.66Z" fill="#f2c58e"/>
<path d="M191.27 648.12L194.07 648.12L192.67 645.66Z" fill="#f2c58e"/>
<path d="M194.35 648.12L197.15 648.12L195.75 645.66Z" fill="#f2c58e"/>
<path d="M197.43 648.12L200.23 648.12L198.83 645.66Z" fill="#f2c58e"/>
<path d="M200.52 648.12L203.32 648.12L201.92 645.66Z" fill="#f2c58e"/>
<path d="M203.6 648.12L206.4 648.12L205 645.66Z" fill="#f2c58e"/>
<path d="M187.1 659.49L189.9 659.49L188.5 657.03Z" fill="#f2c58e"/>
<path d="M190.92 659.49L193.72 659.49L192.32 657.03Z" fill="#f2c58e"/>
<path d="M194.75 659.49L197.55 659.49L196.15 657.03Z" fill="#f2c58e"/>
<path d="M198.58 659.49L201.38 659.49L199.98 657.03Z" fill="#f2c58e"/>
<path d="M202.4 659.49L205.2 659.49L203.8 657.03Z" fill="#f2c58e"/>
<line x1="196" y1="601.8" x2="196" y2="647" stroke="#f2c58e" stroke-width="1.1"/>
<line x1="189" y1="601.8" x2="202.6" y2="601.8" stroke="#f2c58e" stroke-width="1.1"/>
<line x1="189" y1="647" x2="202.6" y2="647" stroke="#f2c58e" stroke-width="1.1"/>
<line x1="182" y1="624.7" x2="210" y2="624.7" stroke="#000" stroke-width="1.5"/>
<text x="467" y="535.55" font-size="13" text-anchor="middle" fill="#1a1515">M</text>
<line x1="500.6" y1="535.5" x2="500.6" y2="670.4" stroke="#000" stroke-width="1.4"/>
<line x1="499.9" y1="669.7" x2="683.3" y2="669.7" stroke="#000" stroke-width="1.4"/>
<line x1="496.6" y1="669.7" x2="500.6" y2="669.7" stroke="#000" stroke-width="1.2"/>
<text x="495.1" y="673" font-size="9.2" font-weight="bold" text-anchor="end">0</text>
<line x1="496.6" y1="636.28" x2="500.6" y2="636.28" stroke="#000" stroke-width="1.2"/>
<text x="495.1" y="639.58" font-size="9.2" font-weight="bold" text-anchor="end">2</text>
<line x1="496.6" y1="602.86" x2="500.6" y2="602.86" stroke="#000" stroke-width="1.2"/>
<text x="495.1" y="606.16" font-size="9.2" font-weight="bold" text-anchor="end">4</text>
<line x1="496.6" y1="569.44" x2="500.6" y2="569.44" stroke="#000" stroke-width="1.2"/>
<text x="495.1" y="572.74" font-size="9.2" font-weight="bold" text-anchor="end">6</text>
<line x1="496.6" y1="536.02" x2="500.6" y2="536.02" stroke="#000" stroke-width="1.2"/>
<text x="495.1" y="539.32" font-size="9.2" font-weight="bold" text-anchor="end">8</text>
<text x="469.9" y="602.3" font-size="10.7" font-weight="bold" text-anchor="middle" transform="rotate(-90 469.9 602.3)">Relative expression</text>
<text x="483.3" y="602.7" font-size="10.7" font-weight="bold" text-anchor="middle" transform="rotate(-90 483.3 602.7)">of HIF1A-AS2</text>
<rect x="504.55" y="589.32" width="8.7" height="80.38" fill="#fff" stroke="#e8604a" stroke-width="1"/>
<line x1="508.9" y1="573.62" x2="508.9" y2="604.53" stroke="#e8604a" stroke-width="0.9" opacity="0.7"/>
<line x1="506.9" y1="573.62" x2="510.9" y2="573.62" stroke="#e8604a" stroke-width="0.9"/>
<path d="M507.25 575.07L510.55 575.07L508.9 572.17Z" fill="#e8604a"/>
<path d="M505.95 592.28L509.25 592.28L507.6 589.38Z" fill="#e8604a"/>
<path d="M508.05 605.98L511.35 605.98L509.7 603.08Z" fill="#e8604a"/>
<line x1="508.9" y1="669.7" x2="508.9" y2="673.7" stroke="#000" stroke-width="1.2"/>
<text x="511.8" y="682.1" font-size="9.8" font-weight="bold" text-anchor="end" transform="rotate(-45 511.8 682.1)">DLD1</text>
<rect x="518.22" y="627.26" width="8.7" height="42.44" fill="#fff" stroke="#e8604a" stroke-width="1"/>
<line x1="522.57" y1="616.56" x2="522.57" y2="637.28" stroke="#e8604a" stroke-width="0.9" opacity="0.7"/>
<line x1="520.57" y1="616.56" x2="524.57" y2="616.56" stroke="#e8604a" stroke-width="0.9"/>
<path d="M520.92 618.01L524.22 618.01L522.57 615.11Z" fill="#e8604a"/>
<path d="M519.62 629.04L522.92 629.04L521.27 626.14Z" fill="#e8604a"/>
<path d="M521.72 638.73L525.02 638.73L523.37 635.83Z" fill="#e8604a"/>
<line x1="522.57" y1="669.7" x2="522.57" y2="673.7" stroke="#000" stroke-width="1.2"/>
<text x="525.47" y="682.1" font-size="9.8" font-weight="bold" text-anchor="end" transform="rotate(-45 525.47 682.1)">HCT116</text>
<rect x="531.89" y="630.43" width="8.7" height="39.27" fill="#fff" stroke="#e8604a" stroke-width="1"/>
<line x1="536.24" y1="622.58" x2="536.24" y2="638.45" stroke="#e8604a" stroke-width="0.9" opacity="0.7"/>
<line x1="534.24" y1="622.58" x2="538.24" y2="622.58" stroke="#e8604a" stroke-width="0.9"/>
<path d="M534.59 624.03L537.89 624.03L536.24 621.13Z" fill="#e8604a"/>
<path d="M533.29 632.38L536.59 632.38L534.94 629.48Z" fill="#e8604a"/>
<path d="M535.39 639.9L538.69 639.9L537.04 637Z" fill="#e8604a"/>
<line x1="536.24" y1="669.7" x2="536.24" y2="673.7" stroke="#000" stroke-width="1.2"/>
<text x="539.14" y="682.1" font-size="9.8" font-weight="bold" text-anchor="end" transform="rotate(-45 539.14 682.1)">SW620</text>
<rect x="545.56" y="631.43" width="8.7" height="38.27" fill="#fff" stroke="#e8604a" stroke-width="1"/>
<line x1="549.91" y1="628.09" x2="549.91" y2="635.11" stroke="#e8604a" stroke-width="0.9" opacity="0.7"/>
<line x1="547.91" y1="628.09" x2="551.91" y2="628.09" stroke="#e8604a" stroke-width="0.9"/>
<path d="M548.26 629.54L551.56 629.54L549.91 626.64Z" fill="#e8604a"/>
<path d="M546.96 633.22L550.26 633.22L548.61 630.32Z" fill="#e8604a"/>
<path d="M549.06 636.56L552.36 636.56L550.71 633.66Z" fill="#e8604a"/>
<line x1="549.91" y1="669.7" x2="549.91" y2="673.7" stroke="#000" stroke-width="1.2"/>
<text x="552.81" y="682.1" font-size="9.8" font-weight="bold" text-anchor="end" transform="rotate(-45 552.81 682.1)">RKO</text>
<rect x="559.23" y="642.8" width="8.7" height="26.9" fill="#fff" stroke="#e8604a" stroke-width="1"/>
<line x1="563.58" y1="631.77" x2="563.58" y2="652.99" stroke="#e8604a" stroke-width="0.9" opacity="0.7"/>
<line x1="561.58" y1="631.77" x2="565.58" y2="631.77" stroke="#e8604a" stroke-width="0.9"/>
<path d="M561.93 633.22L565.23 633.22L563.58 630.32Z" fill="#e8604a"/>
<path d="M560.63 644.75L563.93 644.75L562.28 641.85Z" fill="#e8604a"/>
<path d="M562.73 654.44L566.03 654.44L564.38 651.54Z" fill="#e8604a"/>
<line x1="563.58" y1="669.7" x2="563.58" y2="673.7" stroke="#000" stroke-width="1.2"/>
<text x="566.48" y="682.1" font-size="9.8" font-weight="bold" text-anchor="end" transform="rotate(-45 566.48 682.1)">HT29</text>
<rect x="572.9" y="649.48" width="8.7" height="20.22" fill="#fff" stroke="#e8604a" stroke-width="1"/>
<line x1="577.25" y1="640.62" x2="577.25" y2="657.17" stroke="#e8604a" stroke-width="0.9" opacity="0.7"/>
<line x1="575.25" y1="640.62" x2="579.25" y2="640.62" stroke="#e8604a" stroke-width="0.9"/>
<path d="M575.6 642.08L578.9 642.08L577.25 639.17Z" fill="#e8604a"/>
<path d="M574.3 650.93L577.6 650.93L575.95 648.03Z" fill="#e8604a"/>
<path d="M576.4 658.62L579.7 658.62L578.05 655.72Z" fill="#e8604a"/>
<line x1="577.25" y1="669.7" x2="577.25" y2="673.7" stroke="#000" stroke-width="1.2"/>
<text x="580.15" y="682.1" font-size="9.8" font-weight="bold" text-anchor="end" transform="rotate(-45 580.15 682.1)">SW480</text>
<rect x="586.57" y="652.49" width="8.7" height="17.21" fill="#fff" stroke="#e8604a" stroke-width="1"/>
<line x1="590.92" y1="648.31" x2="590.92" y2="657.17" stroke="#e8604a" stroke-width="0.9" opacity="0.7"/>
<line x1="588.92" y1="648.31" x2="592.92" y2="648.31" stroke="#e8604a" stroke-width="0.9"/>
<path d="M589.27 649.76L592.57 649.76L590.92 646.86Z" fill="#e8604a"/>
<path d="M587.97 654.44L591.27 654.44L589.62 651.54Z" fill="#e8604a"/>
<path d="M590.07 658.62L593.37 658.62L591.72 655.72Z" fill="#e8604a"/>
<line x1="590.92" y1="669.7" x2="590.92" y2="673.7" stroke="#000" stroke-width="1.2"/>
<text x="593.82" y="682.1" font-size="9.8" font-weight="bold" text-anchor="end" transform="rotate(-45 593.82 682.1)">COLO205</text>
<rect x="600.24" y="653.66" width="8.7" height="16.04" fill="#fff" stroke="#e8604a" stroke-width="1"/>
<line x1="604.59" y1="649.48" x2="604.59" y2="657.17" stroke="#e8604a" stroke-width="0.9" opacity="0.7"/>
<line x1="602.59" y1="649.48" x2="606.59" y2="649.48" stroke="#e8604a" stroke-width="0.9"/>
<path d="M602.94 650.93L606.24 650.93L604.59 648.03Z" fill="#e8604a"/>
<path d="M601.64 654.44L604.94 654.44L603.29 651.54Z" fill="#e8604a"/>
<path d="M603.74 658.62L607.04 658.62L605.39 655.72Z" fill="#e8604a"/>
<line x1="604.59" y1="669.7" x2="604.59" y2="673.7" stroke="#000" stroke-width="1.2"/>
<text x="607.49" y="682.1" font-size="9.8" font-weight="bold" text-anchor="end" transform="rotate(-45 607.49 682.1)">SW1116</text>
<rect x="613.91" y="653.66" width="8.7" height="16.04" fill="#fff" stroke="#e8604a" stroke-width="1"/>
<line x1="618.26" y1="650.32" x2="618.26" y2="655.83" stroke="#e8604a" stroke-width="0.9" opacity="0.7"/>
<line x1="616.26" y1="650.32" x2="620.26" y2="650.32" stroke="#e8604a" stroke-width="0.9"/>
<path d="M616.61 651.77L619.91 651.77L618.26 648.86Z" fill="#e8604a"/>
<path d="M615.31 655.28L618.61 655.28L616.96 652.37Z" fill="#e8604a"/>
<path d="M617.41 657.28L620.71 657.28L619.06 654.38Z" fill="#e8604a"/>
<line x1="618.26" y1="669.7" x2="618.26" y2="673.7" stroke="#000" stroke-width="1.2"/>
<text x="621.16" y="682.1" font-size="9.8" font-weight="bold" text-anchor="end" transform="rotate(-45 621.16 682.1)">Caco2</text>
<rect x="627.58" y="656.33" width="8.7" height="13.37" fill="#fff" stroke="#e8604a" stroke-width="1"/>
<line x1="631.93" y1="650.65" x2="631.93" y2="660.51" stroke="#e8604a" stroke-width="0.9" opacity="0.7"/>
<line x1="629.93" y1="650.65" x2="633.93" y2="650.65" stroke="#e8604a" stroke-width="0.9"/>
<path d="M630.28 652.1L633.58 652.1L631.93 649.2Z" fill="#e8604a"/>
<path d="M628.98 658.12L632.28 658.12L630.63 655.21Z" fill="#e8604a"/>
<path d="M631.08 661.96L634.38 661.96L632.73 659.06Z" fill="#e8604a"/>
<line x1="631.93" y1="669.7" x2="631.93" y2="673.7" stroke="#000" stroke-width="1.2"/>
<text x="634.83" y="682.1" font-size="9.8" font-weight="bold" text-anchor="end" transform="rotate(-45 634.83 682.1)">LoVo</text>
<rect x="641.25" y="658.67" width="8.7" height="11.03" fill="#fff" stroke="#e8604a" stroke-width="1"/>
<line x1="645.6" y1="654.49" x2="645.6" y2="662.18" stroke="#e8604a" stroke-width="0.9" opacity="0.7"/>
<line x1="643.6" y1="654.49" x2="647.6" y2="654.49" stroke="#e8604a" stroke-width="0.9"/>
<path d="M643.95 655.95L647.25 655.95L645.6 653.04Z" fill="#e8604a"/>
<path d="M642.65 660.96L645.95 660.96L644.3 658.05Z" fill="#e8604a"/>
<path d="M644.75 663.63L648.05 663.63L646.4 660.73Z" fill="#e8604a"/>
<line x1="645.6" y1="669.7" x2="645.6" y2="673.7" stroke="#000" stroke-width="1.2"/>
<text x="648.5" y="682.1" font-size="9.8" font-weight="bold" text-anchor="end" transform="rotate(-45 648.5 682.1)">HCT8</text>
<rect x="654.92" y="663.68" width="8.7" height="6.02" fill="#fff" stroke="#e8604a" stroke-width="1"/>
<line x1="659.27" y1="662.85" x2="659.27" y2="664.19" stroke="#e8604a" stroke-width="0.9" opacity="0.7"/>
<line x1="657.27" y1="662.85" x2="661.27" y2="662.85" stroke="#e8604a" stroke-width="0.9"/>
<path d="M657.62 664.3L660.92 664.3L659.27 661.4Z" fill="#e8604a"/>
<path d="M656.32 665.14L659.62 665.14L657.97 662.23Z" fill="#e8604a"/>
<path d="M658.42 665.64L661.72 665.64L660.07 662.73Z" fill="#e8604a"/>
<line x1="659.27" y1="669.7" x2="659.27" y2="673.7" stroke="#000" stroke-width="1.2"/>
<text x="662.17" y="682.1" font-size="9.8" font-weight="bold" text-anchor="end" transform="rotate(-45 662.17 682.1)">HCT15</text>
<rect x="668.59" y="664.69" width="8.7" height="5.01" fill="#fff" stroke="#4a5cc0" stroke-width="1"/>
<line x1="672.94" y1="661.35" x2="672.94" y2="665.52" stroke="#4a5cc0" stroke-width="0.9" opacity="0.7"/>
<line x1="670.94" y1="661.35" x2="674.94" y2="661.35" stroke="#4a5cc0" stroke-width="0.9"/>
<path d="M671.29 662.8L674.59 662.8L672.94 659.89Z" fill="#4a5cc0"/>
<path d="M669.99 665.64L673.29 665.64L671.64 662.73Z" fill="#4a5cc0"/>
<path d="M672.09 666.97L675.39 666.97L673.74 664.07Z" fill="#4a5cc0"/>
<line x1="672.94" y1="669.7" x2="672.94" y2="673.7" stroke="#000" stroke-width="1.2"/>
<text x="675.84" y="682.1" font-size="9.8" font-weight="bold" text-anchor="end" transform="rotate(-45 675.84 682.1)">NCM460</text>
<text x="17.85" y="731.65" font-size="13" text-anchor="middle" fill="#1a1515">N</text>
<line x1="70.6" y1="745.8" x2="70.6" y2="878.7" stroke="#000" stroke-width="1.4"/>
<line x1="69.9" y1="878" x2="198.6" y2="878" stroke="#000" stroke-width="1.4"/>
<line x1="66.1" y1="878" x2="70.6" y2="878" stroke="#000" stroke-width="1.2"/>
<text x="64.8" y="881.2" font-size="8.9" font-weight="bold" text-anchor="end">0</text>
<line x1="66.1" y1="834.07" x2="70.6" y2="834.07" stroke="#000" stroke-width="1.2"/>
<text x="64.8" y="837.27" font-size="8.9" font-weight="bold" text-anchor="end">50</text>
<line x1="66.1" y1="790.13" x2="70.6" y2="790.13" stroke="#000" stroke-width="1.2"/>
<text x="64.8" y="793.33" font-size="8.9" font-weight="bold" text-anchor="end">100</text>
<line x1="66.1" y1="746.19" x2="70.6" y2="746.19" stroke="#000" stroke-width="1.2"/>
<text x="64.8" y="749.39" font-size="8.9" font-weight="bold" text-anchor="end">150</text>
<text x="31.8" y="812" font-size="10.6" font-weight="bold" text-anchor="middle" transform="rotate(-90 31.8 812)">Percentage of</text>
<text x="44.4" y="811.1" font-size="10.6" font-weight="bold" text-anchor="middle" transform="rotate(-90 44.4 811.1)" xml:space="preserve">Subcellular localization  (%)</text>
<rect x="75.2" y="790.13" width="12.6" height="60.63" fill="#5a6cc2"/>
<rect x="75.2" y="850.76" width="12.6" height="27.24" fill="#e8644a"/>
<line x1="81.5" y1="850.76" x2="81.5" y2="848.12" stroke="#111" stroke-width="1.1"/>
<line x1="78.5" y1="848.12" x2="84.5" y2="848.12" stroke="#111" stroke-width="1.1"/>
<line x1="81.5" y1="790.13" x2="81.5" y2="787.49" stroke="#111" stroke-width="1.1"/>
<line x1="78.5" y1="787.49" x2="84.5" y2="787.49" stroke="#111" stroke-width="1.1"/>
<line x1="81.5" y1="878" x2="81.5" y2="882" stroke="#000" stroke-width="1.2"/>
<text x="87.9" y="890.3" font-size="8.6" font-weight="bold" text-anchor="end" transform="rotate(-45 87.9 890.3)">HIF1A-AS2</text>
<rect x="92.7" y="790.13" width="12.6" height="69.42" fill="#5a6cc2"/>
<rect x="92.7" y="859.55" width="12.6" height="18.45" fill="#e8644a"/>
<line x1="99" y1="859.55" x2="99" y2="856.91" stroke="#111" stroke-width="1.1"/>
<line x1="96" y1="856.91" x2="102" y2="856.91" stroke="#111" stroke-width="1.1"/>
<line x1="99" y1="790.13" x2="99" y2="787.05" stroke="#111" stroke-width="1.1"/>
<line x1="96" y1="787.05" x2="102" y2="787.05" stroke="#111" stroke-width="1.1"/>
<line x1="99" y1="878" x2="99" y2="882" stroke="#000" stroke-width="1.2"/>
<text x="105.4" y="890.3" font-size="8.6" font-weight="bold" text-anchor="end" transform="rotate(-45 105.4 890.3)">&#946;-actin</text>
<rect x="110.2" y="790.13" width="12.6" height="22.41" fill="#5a6cc2"/>
<rect x="110.2" y="812.54" width="12.6" height="65.46" fill="#e8644a"/>
<line x1="116.5" y1="812.54" x2="116.5" y2="809.9" stroke="#111" stroke-width="1.1"/>
<line x1="113.5" y1="809.9" x2="119.5" y2="809.9" stroke="#111" stroke-width="1.1"/>
<line x1="116.5" y1="790.13" x2="116.5" y2="787.49" stroke="#111" stroke-width="1.1"/>
<line x1="113.5" y1="787.49" x2="119.5" y2="787.49" stroke="#111" stroke-width="1.1"/>
<line x1="116.5" y1="878" x2="116.5" y2="882" stroke="#000" stroke-width="1.2"/>
<text x="120.1" y="888.3" font-size="8.6" font-weight="bold" text-anchor="end" transform="rotate(-45 120.1 888.3)">U6</text>
<rect x="145.3" y="790.13" width="12.6" height="63.09" fill="#5a6cc2"/>
<rect x="145.3" y="853.22" width="12.6" height="24.78" fill="#e8644a"/>
<line x1="151.6" y1="853.22" x2="151.6" y2="850.58" stroke="#111" stroke-width="1.1"/>
<line x1="148.6" y1="850.58" x2="154.6" y2="850.58" stroke="#111" stroke-width="1.1"/>
<line x1="151.6" y1="790.13" x2="151.6" y2="787.93" stroke="#111" stroke-width="1.1"/>
<line x1="148.6" y1="787.93" x2="154.6" y2="787.93" stroke="#111" stroke-width="1.1"/>
<line x1="151.6" y1="878" x2="151.6" y2="882" stroke="#000" stroke-width="1.2"/>
<text x="158" y="890.3" font-size="8.6" font-weight="bold" text-anchor="end" transform="rotate(-45 158 890.3)">HIF1A-AS2</text>
<rect x="162.8" y="790.13" width="12.6" height="70.74" fill="#5a6cc2"/>
<rect x="162.8" y="860.87" width="12.6" height="17.13" fill="#e8644a"/>
<line x1="169.1" y1="860.87" x2="169.1" y2="858.23" stroke="#111" stroke-width="1.1"/>
<line x1="166.1" y1="858.23" x2="172.1" y2="858.23" stroke="#111" stroke-width="1.1"/>
<line x1="169.1" y1="790.13" x2="169.1" y2="787.93" stroke="#111" stroke-width="1.1"/>
<line x1="166.1" y1="787.93" x2="172.1" y2="787.93" stroke="#111" stroke-width="1.1"/>
<line x1="169.1" y1="878" x2="169.1" y2="882" stroke="#000" stroke-width="1.2"/>
<text x="175.5" y="890.3" font-size="8.6" font-weight="bold" text-anchor="end" transform="rotate(-45 175.5 890.3)">&#946;-actin</text>
<rect x="180.3" y="790.13" width="12.6" height="22.41" fill="#5a6cc2"/>
<rect x="180.3" y="812.54" width="12.6" height="65.46" fill="#e8644a"/>
<line x1="186.6" y1="812.54" x2="186.6" y2="808.58" stroke="#111" stroke-width="1.1"/>
<line x1="183.6" y1="808.58" x2="189.6" y2="808.58" stroke="#111" stroke-width="1.1"/>
<line x1="186.6" y1="790.13" x2="186.6" y2="786.18" stroke="#111" stroke-width="1.1"/>
<line x1="183.6" y1="786.18" x2="189.6" y2="786.18" stroke="#111" stroke-width="1.1"/>
<line x1="186.6" y1="878" x2="186.6" y2="882" stroke="#000" stroke-width="1.2"/>
<text x="190.2" y="888.3" font-size="8.6" font-weight="bold" text-anchor="end" transform="rotate(-45 190.2 888.3)">U6</text>
<line x1="134.05" y1="878" x2="134.05" y2="882" stroke="#000" stroke-width="1.2"/>
<text x="102" y="778.4" font-size="11.5" text-anchor="middle" fill="#222">DLD1</text>
<text x="169.9" y="778.4" font-size="11.5" text-anchor="middle" fill="#222">HCT15</text>
<rect x="126.7" y="733.1" width="14.9" height="8.2" fill="#e8644a"/>
<text x="147.1" y="743.9" font-size="10.2" fill="#111">Nucleus</text>
<rect x="126.7" y="749.1" width="14.9" height="8.1" fill="#5a6cc2"/>
<text x="147.1" y="759.9" font-size="10.2" fill="#111">Cytoplasm</text>
<text x="245.5" y="730.65" font-size="13" text-anchor="middle" fill="#1a1515">O</text>
<filter id="bl1" x="-50%" y="-50%" width="200%" height="200%"><feGaussianBlur stdDeviation="0.6"/></filter>
<filter id="bl2" x="-50%" y="-50%" width="200%" height="200%"><feGaussianBlur stdDeviation="1.3"/></filter>
<rect x="269.6" y="718.6" width="62" height="62" fill="#060606"/>
<rect x="333.4" y="718.6" width="62" height="62" fill="#060606"/>
<rect x="397.1" y="718.6" width="62" height="62" fill="#060606"/>
<rect x="269.6" y="782.6" width="62" height="62" fill="#060606"/>
<rect x="333.4" y="782.6" width="62" height="62" fill="#060606"/>
<rect x="397.1" y="782.6" width="62" height="62" fill="#060606"/>
<rect x="269.6" y="846.6" width="62" height="62" fill="#060606"/>
<rect x="333.4" y="846.6" width="62" height="62" fill="#060606"/>
<rect x="397.1" y="846.6" width="62" height="62" fill="#060606"/>
<rect x="485.6" y="719.7" width="62" height="62" fill="#060606"/>
<rect x="549.7" y="719.7" width="62" height="62" fill="#060606"/>
<rect x="613.4" y="719.7" width="62" height="62" fill="#060606"/>
<rect x="485.6" y="783.4" width="62" height="62" fill="#060606"/>
<rect x="549.7" y="783.4" width="62" height="62" fill="#060606"/>
<rect x="613.4" y="783.4" width="62" height="62" fill="#060606"/>
<rect x="485.6" y="847.2" width="62" height="62" fill="#060606"/>
<rect x="549.7" y="847.2" width="62" height="62" fill="#060606"/>
<rect x="613.4" y="847.2" width="62" height="62" fill="#060606"/>
<path d="M295.6 731.6 C298.6 740.6 310.6 752.6 310.1 760.6 C309.6 767.6 300.6 769.6 298.1 762.6 C296.1 755.6 298.6 746.6 295.6 731.6Z" fill="#300406" stroke="#d01c1c" stroke-width="1.3" filter="url(#bl1)"/>
<path d="M299.6 750.6 C303.6 748.6 307.6 754.6 306.6 762.6 C304.6 766.6 300.6 765.6 299.6 758.6Z" fill="none" stroke="#a01818" stroke-width="0.8" filter="url(#bl1)"/>
<path d="M423.1 731.6 C426.1 740.6 438.1 752.6 437.6 760.6 C437.1 767.6 428.1 769.6 425.6 762.6 C423.6 755.6 426.1 746.6 423.1 731.6Z" fill="#300406" stroke="#d01c1c" stroke-width="1.3" filter="url(#bl1)"/>
<path d="M427.1 750.6 C431.1 748.6 435.1 754.6 434.1 762.6 C432.1 766.6 428.1 765.6 427.1 758.6Z" fill="none" stroke="#a01818" stroke-width="0.8" filter="url(#bl1)"/>
<ellipse cx="367.4" cy="756.8" rx="5.4" ry="7.6" fill="#3350d0" filter="url(#bl1)" opacity="1"/>
<ellipse cx="431.1" cy="758.1" rx="5.2" ry="7.2" fill="#3350d0" filter="url(#bl1)" opacity="1"/>
<ellipse cx="297.1" cy="814.6" rx="8.3" ry="7" fill="#9a1a1e" filter="url(#bl1)" opacity="0.85"/>
<ellipse cx="362.6" cy="813.2" rx="10.2" ry="8.3" fill="#3350d0" filter="url(#bl1)" opacity="1"/>
<ellipse cx="428.8" cy="814.6" rx="9" ry="7.6" fill="#6a3cc0" filter="url(#bl1)" opacity="1"/>
<ellipse cx="428.8" cy="814.6" rx="7" ry="6" fill="#8a3cb0" filter="url(#bl1)" opacity="0.5"/>
<ellipse cx="301.3" cy="878.6" rx="5.5" ry="14" fill="#b01a1e" transform="rotate(-22 301.3 878.6)" filter="url(#bl2)" opacity="0.9"/>
<ellipse cx="365.4" cy="871" rx="4.8" ry="7" fill="#3350d0" filter="url(#bl1)" opacity="1"/>
<ellipse cx="427.1" cy="878.6" rx="5.5" ry="14" fill="#b01a1e" transform="rotate(-22 427.1 878.6)" filter="url(#bl2)" opacity="0.9"/>
<ellipse cx="425.6" cy="872.1" rx="4.5" ry="6.5" fill="#3350d0" filter="url(#bl1)" opacity="1"/>
<path d="M504.6 741.7 C511.6 739.7 523.6 737.7 526.6 745.7 C528.6 752.7 525.6 758.7 520.6 757.7 C513.6 755.7 507.6 747.7 504.6 741.7Z" fill="#5a0c10" stroke="#a01a1e" stroke-width="0.9" filter="url(#bl1)"/>
<path d="M632.4 741.7 C639.4 739.7 651.4 737.7 654.4 745.7 C656.4 752.7 653.4 758.7 648.4 757.7 C641.4 755.7 635.4 747.7 632.4 741.7Z" fill="#5a0c10" stroke="#a01a1e" stroke-width="0.9" filter="url(#bl1)"/>
<ellipse cx="584.9" cy="748.9" rx="6.4" ry="7" fill="#3350d0" filter="url(#bl1)" opacity="1"/>
<ellipse cx="648.9" cy="749.2" rx="6.2" ry="7" fill="#3350d0" filter="url(#bl1)" opacity="1"/>
<ellipse cx="513.7" cy="812.5" rx="5.8" ry="5.2" fill="#a01a1e" filter="url(#bl1)" opacity="0.85"/>
<ellipse cx="577.9" cy="812.5" rx="6.3" ry="5.4" fill="#3350d0" filter="url(#bl1)" opacity="1"/>
<ellipse cx="641.9" cy="812.5" rx="6" ry="5.2" fill="#6a3cc8" filter="url(#bl1)" opacity="1"/>
<ellipse cx="513.4" cy="874.9" rx="8.5" ry="6" fill="#b01a1e" transform="rotate(-40 513.4 874.9)" filter="url(#bl2)" opacity="0.95"/>
<ellipse cx="580" cy="874.7" rx="6.3" ry="5.2" fill="#3350d0" filter="url(#bl1)" opacity="1"/>
<ellipse cx="639.4" cy="876.2" rx="8.5" ry="6" fill="#b01a1e" transform="rotate(-40 639.4 876.2)" filter="url(#bl2)" opacity="0.95"/>
<ellipse cx="640.9" cy="874.7" rx="6" ry="5" fill="#3350d0" filter="url(#bl1)" opacity="1"/>
<text x="326.4" y="730.9" font-size="10" text-anchor="end" fill="#e0e0e0">18S</text>
<text x="390.2" y="730.9" font-size="10" text-anchor="end" fill="#e0e0e0">DAPI</text>
<text x="453.9" y="730.9" font-size="10" text-anchor="end" fill="#e0e0e0">Merge</text>
<text x="326.4" y="794.9" font-size="10" text-anchor="end" fill="#e0e0e0">U6</text>
<text x="390.2" y="794.9" font-size="10" text-anchor="end" fill="#e0e0e0">DAPI</text>
<text x="453.9" y="794.9" font-size="10" text-anchor="end" fill="#e0e0e0">Merge</text>
<text x="326.4" y="858.9" font-size="10" text-anchor="end" fill="#e0e0e0">HIF1A-AS2</text>
<text x="390.2" y="858.9" font-size="10" text-anchor="end" fill="#e0e0e0">DAPI</text>
<text x="453.9" y="858.9" font-size="10" text-anchor="end" fill="#e0e0e0">Merge</text>
<text x="542.4" y="732" font-size="10" text-anchor="end" fill="#e0e0e0">18S</text>
<text x="606.5" y="732" font-size="10" text-anchor="end" fill="#e0e0e0">DAPI</text>
<text x="670.2" y="732" font-size="10" text-anchor="end" fill="#e0e0e0">Merge</text>
<text x="542.4" y="795.7" font-size="10" text-anchor="end" fill="#e0e0e0">U6</text>
<text x="606.5" y="795.7" font-size="10" text-anchor="end" fill="#e0e0e0">DAPI</text>
<text x="670.2" y="795.7" font-size="10" text-anchor="end" fill="#e0e0e0">Merge</text>
<text x="542.4" y="859.5" font-size="10" text-anchor="end" fill="#e0e0e0">HIF1A-AS2</text>
<text x="606.5" y="859.5" font-size="10" text-anchor="end" fill="#e0e0e0">DAPI</text>
<text x="670.2" y="859.5" font-size="10" text-anchor="end" fill="#e0e0e0">Merge</text>
<text x="262.8" y="809.2" font-size="13" text-anchor="middle" fill="#111" transform="rotate(-90 262.8 809.2)">DLD1</text>
<text x="484.9" y="810.1" font-size="13" text-anchor="middle" fill="#111" transform="rotate(-90 484.9 810.1)">HCT15</text></svg></body></html>
